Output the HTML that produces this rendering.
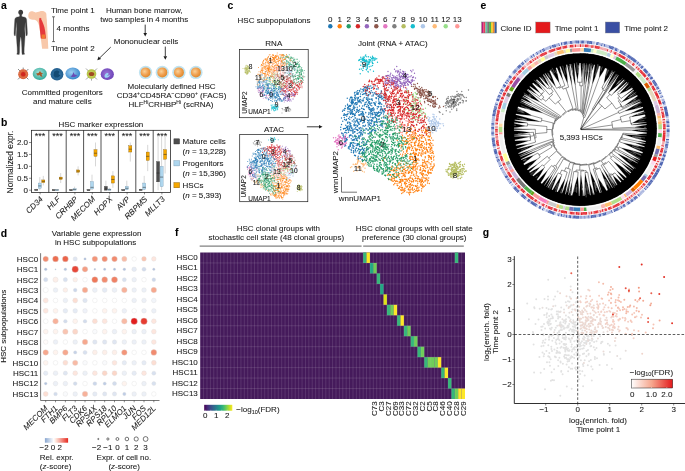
<!DOCTYPE html><html><head><meta charset="utf-8"><style>html,body{margin:0;padding:0;background:#fff;}svg{display:block;will-change:transform;} text{stroke:#1a1a1a;stroke-width:0.08px;}</style></head><body><svg width="685" height="471" viewBox="0 0 685 471" font-family='"Liberation Sans", sans-serif' font-size="8" fill="#1a1a1a"><text x="1" y="9" font-weight="bold" font-size="10.4" fill="#000">a</text>
<text x="1" y="125.8" font-weight="bold" font-size="10.4" fill="#000">b</text>
<text x="227.5" y="9" font-weight="bold" font-size="10.4" fill="#000">c</text>
<text x="480.5" y="9" font-weight="bold" font-size="10.4" fill="#000">e</text>
<text x="0.8" y="236.7" font-weight="bold" font-size="10.4" fill="#000">d</text>
<text x="175" y="235.5" font-weight="bold" font-size="10.4" fill="#000">f</text>
<text x="482.8" y="236.2" font-weight="bold" font-size="10.4" fill="#000">g</text>
<g fill="#3b3b3b"><ellipse cx="20.7" cy="12.3" rx="2.35" ry="2.6"/><path stroke="#3b3b3b" stroke-width="0.3" stroke-linejoin="round" d="M21.6 14.6L21.7 16.3L22.5 16.8L24.8 17.2L26.0 17.9L26.6 19.5L26.9 24.0L27.2 29.0L27.4 33.5L27.1 35.6L26.1 35.7L25.8 33.0L25.5 28.0L25.3 23.5L25.1 22.0L24.9 26.0L24.7 29.0L24.9 32.0L25.1 35.5L24.9 38.0L24.5 44.0L24.2 48.0L24.1 52.5L24.6 54.2L22.2 54.6L21.9 52.5L21.8 48.0L21.5 42.0L21.0 37.6L20.7 37.3L20.4 37.6L19.9 42.0L19.6 48.0L19.5 52.5L19.2 54.6L16.8 54.2L17.3 52.5L17.2 48.0L16.9 44.0L16.5 38.0L16.3 35.5L16.5 32.0L16.7 29.0L16.5 26.0L16.3 22.0L16.1 23.5L15.9 28.0L15.6 33.0L15.3 35.7L14.3 35.6L14.0 33.5L14.2 29.0L14.5 24.0L14.8 19.5L15.4 17.9L16.6 17.2L18.9 16.8L19.7 16.3L19.8 14.6z"/></g>
<path d="M30.4 11.6C32.5 10.9 34 11.9 35.5 12.6 37 12.4 38.3 11.6 39.6 11.5 41 11 42.7 10.9 44.3 11.5 46 12.2 46.6 13.6 46.4 15 46.3 16.5 46.7 18 46.8 19.5L47.6 34 48.3 48.8H42.1L40.6 36.5 39.6 28.4C39 25 38.2 22.8 37 21.3 35.8 20.2 34.6 19.8 33.4 19.8 32 19.9 30.8 19.6 29.9 19.1 28.5 18.3 28 16.5 28.4 14.6 28.7 13 29.4 12.1 30.4 11.6z" fill="#f8c8aa"/>
<path d="M39.4 18.4C39.6 17.6 40.4 17.6 40.8 18.3 42.6 21.6 44.3 26 45.2 31L46 38.6H40.8L39.8 29 39.2 21.8C39.1 20.4 39.2 19.3 39.4 18.4z" fill="#e5383b"/>
<rect x="41.6" y="34.5" width="3.7" height="4.1" fill="#f07a30"/>
<g stroke="#1a1a1a" stroke-width="0.6" fill="none"><path d="M53.5 16.8V41.6M52 16.8h3M52 41.6h3"/></g>
<text x="51" y="13">Time point 1</text>
<text x="56.6" y="31">4 months</text>
<text x="51" y="51">Time point 2</text>
<text x="144.2" y="13.2" text-anchor="middle">Human bone marrow,</text>
<text x="144.2" y="21.8" text-anchor="middle">two samples in 4 months</text>
<text x="146" y="43.9" text-anchor="middle">Mononuclear cells</text>
<line x1="145.2" y1="24.6" x2="145.2" y2="33" stroke="#1a1a1a" stroke-width="0.85"/>
<path d="M145.20 36.50L143.40 33.00L147.00 33.00z" fill="#1a1a1a"/>
<line x1="110.7" y1="47.2" x2="99.8" y2="57.8" stroke="#1a1a1a" stroke-width="0.85"/>
<path d="M97.30 60.20L98.56 56.47L101.07 59.05z" fill="#1a1a1a"/>
<line x1="165.3" y1="46.6" x2="165.3" y2="56.3" stroke="#1a1a1a" stroke-width="0.85"/>
<path d="M165.30 59.80L163.50 56.30L167.10 56.30z" fill="#1a1a1a"/>
<defs><radialGradient id="gOr" cx="0.4" cy="0.4" r="0.6"><stop offset="0" stop-color="#f9d29a"/><stop offset="0.6" stop-color="#f0a050"/><stop offset="1" stop-color="#e08a30"/></radialGradient><radialGradient id="gTe" cx="0.45" cy="0.4" r="0.6"><stop offset="0" stop-color="#a8e4dc"/><stop offset="1" stop-color="#2fa898"/></radialGradient><radialGradient id="gDb" cx="0.5" cy="0.5" r="0.6"><stop offset="0" stop-color="#3c7fb0"/><stop offset="1" stop-color="#1b5585"/></radialGradient><radialGradient id="gLb" cx="0.4" cy="0.4" r="0.6"><stop offset="0" stop-color="#9fd0f2"/><stop offset="1" stop-color="#3a88cc"/></radialGradient><radialGradient id="gPu" cx="0.45" cy="0.45" r="0.6"><stop offset="0" stop-color="#9a78d8"/><stop offset="1" stop-color="#6a3fb5"/></radialGradient><radialGradient id="gYg" cx="0.5" cy="0.5" r="0.6"><stop offset="0" stop-color="#d8e070"/><stop offset="1" stop-color="#a8b838"/></radialGradient></defs>
<g stroke="#555" stroke-width="0.7"><path d="M18 69l2.4 2.4M28.4 69l-2.4 2.4M18 79.4l2.4-2.4M28.4 79.4l-2.4-2.4M23.2 67.6v2"/></g>
<circle cx="23.2" cy="74.2" r="5" fill="#d9623a"/><circle cx="23.2" cy="74.2" r="3.6" fill="none" stroke="#f0a070" stroke-width="0.5" stroke-dasharray="0.8 0.8"/><circle cx="23.2" cy="74.2" r="2.2" fill="#d0261e"/>
<ellipse cx="39.8" cy="73.9" rx="7.1" ry="6.1" fill="url(#gTe)"/><path d="M36 73.5l2.5-0.5 1.5-2 1 1.5 2 1-1.5 1 1 2.3-1.6-0.3-1.5-1.5-1.6 0.8z" fill="#a55a2a"/>
<ellipse cx="57" cy="74.3" rx="6.4" ry="6.2" fill="url(#gDb)"/><path d="M54 72c1.5-2 4.5-2 5.5 0l-1 2 2 1.5-2.5 2h-3l-1.5-2z" fill="#134a74"/>
<ellipse cx="72.8" cy="73.5" rx="7.4" ry="5.9" fill="url(#gLb)"/><path d="M70.5 76.5c1.5-0.5 2.5-2.5 3-4.5l1 2.5c1 0.5 2 0 2.5 1-1 1.5-3.5 2-6.5 1z" fill="#6a4cb4"/>
<g stroke="#666" stroke-width="0.6"><path d="M86 68.5l2.5 2.5M97 68.5l-2.5 2.5M86 79.5l2.5-2.5M97 79.5l-2.5-2.5M91.5 80.6v-2"/></g>
<circle cx="91.5" cy="74" r="4.8" fill="url(#gYg)"/><ellipse cx="91.5" cy="74" rx="2.8" ry="2.1" fill="#a04a22"/>
<ellipse cx="107.3" cy="74.2" rx="6.6" ry="5.9" fill="url(#gPu)"/><path d="M104.5 76c0-2 2-3.5 3.5-3 1 0.5 0.5 2-1 2.5 1 0.5 2.5 0 3-1 0 2-2 3.5-4 3.3-1 0-1.5-0.8-1.5-1.8z" fill="#9ad4f4"/>
<circle cx="145.6" cy="72.4" r="6.7" fill="#bfe3f1"/><circle cx="145.6" cy="72.4" r="5.0" fill="url(#gOr)"/>
<circle cx="162.3" cy="72.4" r="6.7" fill="#bfe3f1"/><circle cx="162.3" cy="72.4" r="5.0" fill="url(#gOr)"/>
<circle cx="178.9" cy="72.4" r="6.7" fill="#bfe3f1"/><circle cx="178.9" cy="72.4" r="5.0" fill="url(#gOr)"/>
<circle cx="195.9" cy="72.4" r="6.7" fill="#bfe3f1"/><circle cx="195.9" cy="72.4" r="5.0" fill="url(#gOr)"/>
<text x="62.3" y="95.3" text-anchor="middle">Committed progenitors</text>
<text x="62.3" y="104.4" text-anchor="middle">and mature cells</text>
<text x="171.6" y="88.7" text-anchor="middle">Molecularly defined HSC</text>
<text x="171.5" y="97.6" text-anchor="middle">CD34<tspan font-size="5" dy="-3">+</tspan><tspan dy="3">CD45RA</tspan><tspan font-size="5" dy="-3">−</tspan><tspan dy="3">CD90</tspan><tspan font-size="5" dy="-3">+</tspan><tspan dy="3"> (FACS)</tspan></text>
<text x="171" y="106.5" text-anchor="middle">HLF<tspan font-size="5" dy="-3">Hi</tspan><tspan dy="3">CRHBP</tspan><tspan font-size="5" dy="-3">Hi</tspan><tspan dy="3"> (scRNA)</tspan></text>
<text x="58.4" y="127">HSC marker expression</text>
<rect x="31.4" y="130.3" width="139.2" height="62.1" fill="none" stroke="#1a1a1a" stroke-width="0.75"/>
<path d="M48.80 130.3V192.4M66.20 130.3V192.4M83.60 130.3V192.4M101.00 130.3V192.4M118.40 130.3V192.4M135.80 130.3V192.4M153.20 130.3V192.4" stroke="#1a1a1a" stroke-width="0.75"/>
<line x1="29" y1="190.20" x2="31.4" y2="190.20" stroke="#1a1a1a" stroke-width="0.5"/>
<text x="28" y="193" text-anchor="end">0</text>
<line x1="29" y1="178.27" x2="31.4" y2="178.27" stroke="#1a1a1a" stroke-width="0.5"/>
<text x="28" y="181.1" text-anchor="end">0.5</text>
<line x1="29" y1="166.35" x2="31.4" y2="166.35" stroke="#1a1a1a" stroke-width="0.5"/>
<text x="28" y="169.2" text-anchor="end">1.0</text>
<line x1="29" y1="154.42" x2="31.4" y2="154.42" stroke="#1a1a1a" stroke-width="0.5"/>
<text x="28" y="157.2" text-anchor="end">1.5</text>
<line x1="29" y1="142.50" x2="31.4" y2="142.50" stroke="#1a1a1a" stroke-width="0.5"/>
<text x="28" y="145.3" text-anchor="end">2.0</text>
<text x="0" y="0" text-anchor="middle" font-size="8.4" transform="translate(13.3 162) rotate(-90)">Normalized expr.</text>
<text x="40.1" y="138.5" text-anchor="middle" font-size="9">***</text>
<line x1="36.30" y1="190.20" x2="36.30" y2="188.77" stroke="#999" stroke-width="0.4"/>
<rect x="34.75" y="189.48" width="3.1" height="0.90" fill="#4d4d4d" stroke="#333" stroke-width="0.3"/>
<line x1="34.75" y1="189.96" x2="37.85" y2="189.96" stroke="#222" stroke-width="0.5"/>
<line x1="39.80" y1="190.20" x2="39.80" y2="177.08" stroke="#999" stroke-width="0.4"/>
<rect x="38.25" y="183.04" width="3.1" height="5.25" fill="#aed6ee" stroke="#6b8fa8" stroke-width="0.3"/>
<line x1="38.25" y1="185.91" x2="41.35" y2="185.91" stroke="#222" stroke-width="0.5"/>
<line x1="43.30" y1="185.43" x2="43.30" y2="175.89" stroke="#999" stroke-width="0.4"/>
<rect x="41.75" y="179.94" width="3.1" height="2.62" fill="#f5a700" stroke="#7a5200" stroke-width="0.3"/>
<line x1="41.75" y1="181.38" x2="44.85" y2="181.38" stroke="#222" stroke-width="0.5"/>
<line x1="40.10" y1="192.4" x2="40.10" y2="194.4" stroke="#1a1a1a" stroke-width="0.5"/>
<text x="0" y="0" text-anchor="end" font-style="italic" transform="translate(43.50 199.6) rotate(-45)">CD34</text>
<text x="57.5" y="138.5" text-anchor="middle" font-size="9">***</text>
<line x1="53.70" y1="190.20" x2="53.70" y2="189.25" stroke="#999" stroke-width="0.4"/>
<rect x="52.15" y="189.72" width="3.1" height="0.90" fill="#4d4d4d" stroke="#333" stroke-width="0.3"/>
<line x1="52.15" y1="189.96" x2="55.25" y2="189.96" stroke="#222" stroke-width="0.5"/>
<line x1="57.20" y1="190.20" x2="57.20" y2="189.25" stroke="#999" stroke-width="0.4"/>
<rect x="55.65" y="189.72" width="3.1" height="0.90" fill="#aed6ee" stroke="#6b8fa8" stroke-width="0.3"/>
<line x1="55.65" y1="189.96" x2="58.75" y2="189.96" stroke="#222" stroke-width="0.5"/>
<line x1="60.70" y1="183.04" x2="60.70" y2="173.03" stroke="#999" stroke-width="0.4"/>
<rect x="59.15" y="177.08" width="3.1" height="2.38" fill="#f5a700" stroke="#7a5200" stroke-width="0.3"/>
<line x1="59.15" y1="178.27" x2="62.25" y2="178.27" stroke="#222" stroke-width="0.5"/>
<line x1="57.50" y1="192.4" x2="57.50" y2="194.4" stroke="#1a1a1a" stroke-width="0.5"/>
<text x="0" y="0" text-anchor="end" font-style="italic" transform="translate(60.90 199.6) rotate(-45)">HLF</text>
<text x="74.9" y="138.5" text-anchor="middle" font-size="9">***</text>
<line x1="71.10" y1="190.20" x2="71.10" y2="189.25" stroke="#999" stroke-width="0.4"/>
<rect x="69.55" y="189.72" width="3.1" height="0.90" fill="#4d4d4d" stroke="#333" stroke-width="0.3"/>
<line x1="69.55" y1="189.96" x2="72.65" y2="189.96" stroke="#222" stroke-width="0.5"/>
<line x1="74.60" y1="190.20" x2="74.60" y2="186.62" stroke="#999" stroke-width="0.4"/>
<rect x="73.05" y="188.77" width="3.1" height="1.43" fill="#aed6ee" stroke="#6b8fa8" stroke-width="0.3"/>
<line x1="73.05" y1="189.48" x2="76.15" y2="189.48" stroke="#222" stroke-width="0.5"/>
<line x1="78.10" y1="175.41" x2="78.10" y2="166.35" stroke="#999" stroke-width="0.4"/>
<rect x="76.55" y="169.93" width="3.1" height="2.39" fill="#f5a700" stroke="#7a5200" stroke-width="0.3"/>
<line x1="76.55" y1="171.12" x2="79.65" y2="171.12" stroke="#222" stroke-width="0.5"/>
<line x1="74.90" y1="192.4" x2="74.90" y2="194.4" stroke="#1a1a1a" stroke-width="0.5"/>
<text x="0" y="0" text-anchor="end" font-style="italic" transform="translate(78.30 199.6) rotate(-45)">CRHBP</text>
<text x="92.3" y="138.5" text-anchor="middle" font-size="9">***</text>
<line x1="88.50" y1="190.20" x2="88.50" y2="189.25" stroke="#999" stroke-width="0.4"/>
<rect x="86.95" y="189.72" width="3.1" height="0.90" fill="#4d4d4d" stroke="#333" stroke-width="0.3"/>
<line x1="86.95" y1="189.96" x2="90.05" y2="189.96" stroke="#222" stroke-width="0.5"/>
<line x1="92.00" y1="190.20" x2="92.00" y2="174.70" stroke="#999" stroke-width="0.4"/>
<rect x="90.45" y="181.61" width="3.1" height="7.39" fill="#aed6ee" stroke="#6b8fa8" stroke-width="0.3"/>
<line x1="90.45" y1="187.34" x2="93.55" y2="187.34" stroke="#222" stroke-width="0.5"/>
<line x1="95.50" y1="166.35" x2="95.50" y2="142.50" stroke="#999" stroke-width="0.4"/>
<rect x="93.95" y="149.65" width="3.1" height="6.68" fill="#f5a700" stroke="#7a5200" stroke-width="0.3"/>
<line x1="93.95" y1="153.23" x2="97.05" y2="153.23" stroke="#222" stroke-width="0.5"/>
<line x1="92.30" y1="192.4" x2="92.30" y2="194.4" stroke="#1a1a1a" stroke-width="0.5"/>
<text x="0" y="0" text-anchor="end" font-style="italic" transform="translate(95.70 199.6) rotate(-45)">MECOM</text>
<text x="109.7" y="138.5" text-anchor="middle" font-size="9">***</text>
<line x1="105.90" y1="190.20" x2="105.90" y2="180.66" stroke="#999" stroke-width="0.4"/>
<rect x="104.35" y="186.38" width="3.1" height="3.82" fill="#4d4d4d" stroke="#333" stroke-width="0.3"/>
<line x1="104.35" y1="189.01" x2="107.45" y2="189.01" stroke="#222" stroke-width="0.5"/>
<line x1="109.40" y1="190.20" x2="109.40" y2="187.81" stroke="#999" stroke-width="0.4"/>
<rect x="107.85" y="189.01" width="3.1" height="1.19" fill="#aed6ee" stroke="#6b8fa8" stroke-width="0.3"/>
<line x1="107.85" y1="189.72" x2="110.95" y2="189.72" stroke="#222" stroke-width="0.5"/>
<line x1="112.90" y1="187.81" x2="112.90" y2="171.12" stroke="#999" stroke-width="0.4"/>
<rect x="111.35" y="175.89" width="3.1" height="7.16" fill="#f5a700" stroke="#7a5200" stroke-width="0.3"/>
<line x1="111.35" y1="179.47" x2="114.45" y2="179.47" stroke="#222" stroke-width="0.5"/>
<line x1="109.70" y1="192.4" x2="109.70" y2="194.4" stroke="#1a1a1a" stroke-width="0.5"/>
<text x="0" y="0" text-anchor="end" font-style="italic" transform="translate(113.10 199.6) rotate(-45)">HOPX</text>
<text x="127.1" y="138.5" text-anchor="middle" font-size="9">***</text>
<line x1="123.30" y1="190.20" x2="123.30" y2="189.25" stroke="#999" stroke-width="0.4"/>
<rect x="121.75" y="189.72" width="3.1" height="0.90" fill="#4d4d4d" stroke="#333" stroke-width="0.3"/>
<line x1="121.75" y1="189.96" x2="124.85" y2="189.96" stroke="#222" stroke-width="0.5"/>
<line x1="126.80" y1="190.20" x2="126.80" y2="180.66" stroke="#999" stroke-width="0.4"/>
<rect x="125.25" y="186.38" width="3.1" height="3.34" fill="#aed6ee" stroke="#6b8fa8" stroke-width="0.3"/>
<line x1="125.25" y1="188.29" x2="128.35" y2="188.29" stroke="#222" stroke-width="0.5"/>
<line x1="130.30" y1="161.58" x2="130.30" y2="142.50" stroke="#999" stroke-width="0.4"/>
<rect x="128.75" y="145.84" width="3.1" height="6.20" fill="#f5a700" stroke="#7a5200" stroke-width="0.3"/>
<line x1="128.75" y1="149.18" x2="131.85" y2="149.18" stroke="#222" stroke-width="0.5"/>
<line x1="127.10" y1="192.4" x2="127.10" y2="194.4" stroke="#1a1a1a" stroke-width="0.5"/>
<text x="0" y="0" text-anchor="end" font-style="italic" transform="translate(130.50 199.6) rotate(-45)">AVP</text>
<text x="144.5" y="138.5" text-anchor="middle" font-size="9">***</text>
<line x1="140.70" y1="190.20" x2="140.70" y2="188.77" stroke="#999" stroke-width="0.4"/>
<rect x="139.15" y="189.48" width="3.1" height="0.90" fill="#4d4d4d" stroke="#333" stroke-width="0.3"/>
<line x1="139.15" y1="189.96" x2="142.25" y2="189.96" stroke="#222" stroke-width="0.5"/>
<line x1="144.20" y1="190.20" x2="144.20" y2="175.89" stroke="#999" stroke-width="0.4"/>
<rect x="142.65" y="183.04" width="3.1" height="6.44" fill="#aed6ee" stroke="#6b8fa8" stroke-width="0.3"/>
<line x1="142.65" y1="187.34" x2="145.75" y2="187.34" stroke="#222" stroke-width="0.5"/>
<line x1="147.70" y1="171.12" x2="147.70" y2="144.88" stroke="#999" stroke-width="0.4"/>
<rect x="146.15" y="152.04" width="3.1" height="8.35" fill="#f5a700" stroke="#7a5200" stroke-width="0.3"/>
<line x1="146.15" y1="156.33" x2="149.25" y2="156.33" stroke="#222" stroke-width="0.5"/>
<line x1="144.50" y1="192.4" x2="144.50" y2="194.4" stroke="#1a1a1a" stroke-width="0.5"/>
<text x="0" y="0" text-anchor="end" font-style="italic" transform="translate(147.90 199.6) rotate(-45)">RBPMS</text>
<text x="161.9" y="138.5" text-anchor="middle" font-size="9">***</text>
<line x1="158.10" y1="190.20" x2="158.10" y2="135.34" stroke="#999" stroke-width="0.4"/>
<rect x="156.55" y="161.58" width="3.1" height="20.27" fill="#4d4d4d" stroke="#333" stroke-width="0.3"/>
<line x1="156.55" y1="173.03" x2="159.65" y2="173.03" stroke="#222" stroke-width="0.5"/>
<line x1="161.60" y1="190.20" x2="161.60" y2="135.34" stroke="#999" stroke-width="0.4"/>
<rect x="160.05" y="166.35" width="3.1" height="20.27" fill="#aed6ee" stroke="#6b8fa8" stroke-width="0.3"/>
<line x1="160.05" y1="177.08" x2="163.15" y2="177.08" stroke="#222" stroke-width="0.5"/>
<line x1="165.10" y1="173.50" x2="165.10" y2="135.34" stroke="#999" stroke-width="0.4"/>
<rect x="163.55" y="149.65" width="3.1" height="9.54" fill="#f5a700" stroke="#7a5200" stroke-width="0.3"/>
<line x1="163.55" y1="154.42" x2="166.65" y2="154.42" stroke="#222" stroke-width="0.5"/>
<line x1="161.90" y1="192.4" x2="161.90" y2="194.4" stroke="#1a1a1a" stroke-width="0.5"/>
<text x="0" y="0" text-anchor="end" font-style="italic" transform="translate(165.30 199.6) rotate(-45)">MLLT3</text>
<rect x="173.9" y="138.8" width="5.7" height="5.2" fill="#4d4d4d" stroke="#333" stroke-width="0.4"/>
<text x="182.6" y="144.2">Mature cells</text>
<text x="182.6" y="154.1">(<tspan font-style="italic">n</tspan> = 13,228)</text>
<rect x="173.9" y="160.7" width="5.7" height="5.2" fill="#aed6ee" stroke="#6b8fa8" stroke-width="0.4"/>
<text x="182.6" y="166.1">Progenitors</text>
<text x="182.6" y="176">(<tspan font-style="italic">n</tspan> = 15,396)</text>
<rect x="173.9" y="182.6" width="5.7" height="5.2" fill="#f5a700" stroke="#7a5200" stroke-width="0.4"/>
<text x="182.6" y="188">HSCs</text>
<text x="182.6" y="197.9">(<tspan font-style="italic">n</tspan> = 5,393)</text>
<text x="237.6" y="22.9">HSC subpopulations</text>
<text x="330.3" y="22" text-anchor="middle">0</text>
<circle cx="330.3" cy="26.3" r="2.2" fill="#1f77b4"/>
<text x="339.7" y="22" text-anchor="middle">1</text>
<circle cx="339.7" cy="26.3" r="2.2" fill="#ff7f0e"/>
<text x="348.7" y="22" text-anchor="middle">2</text>
<circle cx="348.7" cy="26.3" r="2.2" fill="#279e68"/>
<text x="357.9" y="22" text-anchor="middle">3</text>
<circle cx="357.9" cy="26.3" r="2.2" fill="#d62728"/>
<text x="366.9" y="22" text-anchor="middle">4</text>
<circle cx="366.9" cy="26.3" r="2.2" fill="#9467bd"/>
<text x="376.3" y="22" text-anchor="middle">5</text>
<circle cx="376.3" cy="26.3" r="2.2" fill="#8c564b"/>
<text x="385.3" y="22" text-anchor="middle">6</text>
<circle cx="385.3" cy="26.3" r="2.2" fill="#e377c2"/>
<text x="394.4" y="22" text-anchor="middle">7</text>
<circle cx="394.4" cy="26.3" r="2.2" fill="#7f7f7f"/>
<text x="403.6" y="22" text-anchor="middle">8</text>
<circle cx="403.6" cy="26.3" r="2.2" fill="#b5bd61"/>
<text x="412.8" y="22" text-anchor="middle">9</text>
<circle cx="412.8" cy="26.3" r="2.2" fill="#17becf"/>
<text x="422.9" y="22" text-anchor="middle">10</text>
<circle cx="422.9" cy="26.3" r="2.2" fill="#aec7e8"/>
<text x="434.7" y="22" text-anchor="middle">11</text>
<circle cx="434.7" cy="26.3" r="2.2" fill="#ffbb78"/>
<text x="445.7" y="22" text-anchor="middle">12</text>
<circle cx="445.7" cy="26.3" r="2.2" fill="#98df8a"/>
<text x="457.3" y="22" text-anchor="middle">13</text>
<circle cx="457.3" cy="26.3" r="2.2" fill="#ff9896"/>
<text x="273.8" y="45.9" text-anchor="middle">RNA</text>
<text x="274" y="131.7" text-anchor="middle">ATAC</text>
<text x="392.9" y="46.3" text-anchor="middle">Joint (RNA + ATAC)</text>
<rect x="239.6" y="49.4" width="68.6" height="68.3" fill="none" stroke="#1a1a1a" stroke-width="0.7"/>
<rect x="239.7" y="134.4" width="68.1" height="67.3" fill="none" stroke="#1a1a1a" stroke-width="0.7"/>
<line x1="306.9" y1="126.8" x2="319" y2="126.8" stroke="#1a1a1a" stroke-width="0.85"/>
<path d="M322.50 126.80L319.00 128.60L319.00 125.00z" fill="#1a1a1a"/>
<path transform="scale(0.25)" d="M1465 350h0m5 1h0m6-6h0m-33 11h0m22-3h0m7 0h0m5 0h0m8 0h0m-31 10h0m7 0h0m3-1h0m2-1h0m1 3h0m18-1h0m-67 9h0m1-2h0m6-2h0m7 7h0m25 0h0m5 0h0m19 0h0m18-4h0m-79 9h0m9-3h0m21 1h0m4-2h0m19 6h0m2-3h0m32 0h0m29-3h0m-69 15h0m55-1h0m-133 3h0m20-1h0m14 3h0m7 1h0m3-2h0m8 4h0m24-6h0m23 4h0m17-2h0m1-2h0m8 3h0m34 2h0m-141 10h0m2-1h0m7-6h0m21 2h0m11-1h0m22 0h0m3 3h0m16-2h0m26-2h0m25 0h0m-132 13h0m5-2h0m9 0h0m5 0h0m18 1h0m21-4h0m32 4h0m3 3h0m-83 1h0m6 3h0m4-2h0m34 0h0m7 0h0m13 3h0m18-1h0m-109 12h0m8-5h0m3-1h0m14 0h0m4 5h0m9-1h0m85-1h0m10-2h0m12-2h0m13 6h0m-170 4h0m2 0h0m11 3h0m4-2h0m31 4h0m19-6h0m8 4h0m3 1h0m20 0h0m3-3h0m1 4h0m14-3h0m14-1h0m15 0h0m5 4h0m10 0h0m-169 6h0m3-5h0m5 1h0m27 4h0m46 1h0m32-3h0m-106 12h0m22-7h0m4 4h0m1 2h0m8 1h0m14-6h0m18 6h0m4-1h0m6-1h0m22-3h0m11 5h0m3-3h0m7-2h0m12 2h0m1 2h0m4-3h0m2-1h0m5 0h0m6-1h0m-150 11h0m4 0h0m9-2h0m27 0h0m1 5h0m3-2h0m15-1h0m7-1h0m49-2h0m11 0h0m6 0h0m-132 13h0m96 0h0m19 0h0m17-6h0m4 0h0m29 7h0m-156 7h0m42-2h0m11 2h0m17-4h0m36 1h0m14-1h0m11 2h0m33 0h0m-179 9h0m56-2h0m3 4h0m16-6h0m7 0h0m3-1h0m29 0h0m5 3h0m6 4h0m12 0h0m-117 5h0m1-4h0m6 2h0m5 4h0m19-6h0m11 6h0m2-4h0m41-2h0m23 1h0m10 1h0m-126 11h0m19 2h0m14 0h0m4-1h0m18-5h0m24 4h0m20 2h0m18-2h0m11 2h0m-125 7h0m17-5h0m2-1h0m18 6h0m66-5h0m36-1h0m-151 11h0m8-1h0m16 1h0m14 2h0m14 1h0m10-6h0m8 4h0m40 0h0m-101 6h0m20-1h0m8 4h0m1-1h0m18-2h0m25-1h0m5-1h0m37 3h0m2-2h0m-132 11h0m16-2h0m34-2h0m31 6h0m8-3h0m16 4h0m1 0h0m-70 7h0m-28 2h0m4 7h0m2-5h0m31 2h0m-26 7h0m0 0h0m28 4h0m23-5h0m-26 6h0m14 1h0m47 0h0m-94 7h0m25 4h0m10-1h0m-13 8h0m0 2h0m2-5h0m0 4h0m23 2h0m12-4h0m17 0h0m13-1h0m-89 7h0m17 3h0m5-3h0m1 1h0m11 2h0m26-1h0m1-1h0m0 1h0m5 0h0m-51 6h0m4 4h0m7 3h0m4-7h0m6 1h0m53 3h0m5-1h0m-51 8h0m1-1h0m20-1h0m-28 9h0m26 5h0m9-4h0m3 5h0m-21 14h0m0 2h0m10 1h0" stroke="#1f77b4" stroke-width="5.4" stroke-linecap="round"/>
<path transform="scale(0.25)" d="M1607 496h0m-6 14h0m95-6h0m-19 14h0m28-6h0m-44 10h0m53 0h0m-85 8h0m70-1h0m-55 14h0m27 0h0m51-7h0m-78 11h0m6-1h0m9 2h0m15-3h0m6 6h0m7-3h0m30 0h0m5-4h0m-109 8h0m64 4h0m36 3h0m-91 5h0m4 0h0m2-1h0m37 0h0m9 0h0m4 0h0m16 4h0m9-6h0m18 1h0m11-1h0m-88 10h0m4-2h0m10 5h0m19-3h0m11 4h0m30 0h0m-45 2h0m1 5h0m11-2h0m14-4h0m8 0h0m12 2h0m-73 7h0m39 4h0m2 0h0m10-1h0m18 2h0m-111 2h0m25 5h0m3-3h0m5-2h0m12 0h0m1 2h0m38 5h0m18-1h0m21-3h0m-119 6h0m19 0h0m26 1h0m11 1h0m15-2h0m30 1h0m-83 6h0m23 6h0m5-4h0m8 3h0m23 0h0m17-5h0m0 0h0m13 0h0m15 2h0m3 4h0m-112 7h0m37-2h0m5 0h0m9 3h0m2-1h0m17-5h0m1 0h0m21 7h0m-73 5h0m4-3h0m5 2h0m37-3h0m15 7h0m14 0h0m3-6h0m2 3h0m3 3h0m-81 7h0m25-2h0m48 3h0m-185 3h0m86 2h0m38 2h0m22-5h0m29 6h0m-110 8h0m59-5h0m46-1h0m2 6h0m-113 7h0m28-4h0m46 4h0m21 0h0m6-1h0m10 2h0m8-1h0m13-6h0m3 0h0m-119 12h0m39 0h0m12-1h0m6-1h0m33-1h0m3 3h0m13 2h0m13-5h0m7 3h0m-164 4h0m6 7h0m23-4h0m6-3h0m53 0h0m9 3h0m18 1h0m37-4h0m-144 12h0m13-3h0m22 1h0m37 5h0m9-6h0m23-1h0m4 0h0m7 4h0m3-2h0m8 4h0m-108 7h0m1-1h0m22-4h0m6 2h0m2 2h0m9 0h0m3-4h0m1 2h0m8 0h0m2 4h0m4-6h0m14 5h0m18-2h0m5 3h0m23-5h0m2 3h0m-150 8h0m9 1h0m1-3h0m16 4h0m4-4h0m27 5h0m66-6h0m7-1h0m12 3h0m-137 11h0m7-6h0m2 4h0m17-4h0m25 2h0m22 2h0m18-3h0m10-1h0m23 7h0m-132 6h0m9-2h0m38 2h0m4 2h0m6-2h0m6 0h0m16-5h0m11 5h0m12-4h0m7 0h0m2 3h0m9 2h0m7 1h0m10-7h0m7 4h0m4 2h0m-135 7h0m5-4h0m4 4h0m2 0h0m3-1h0m12 3h0m2-1h0m2 1h0m8-3h0m18-2h0m11 2h0m6 1h0m2 1h0m6-3h0m17 2h0m8-5h0m4 3h0m3 4h0m4-2h0m-111 9h0m1-1h0m39-3h0m7 4h0m10-4h0m6 5h0m41-3h0m11-3h0m-119 10h0m30 3h0m31-3h0m4-1h0m5 4h0m39-2h0m1 3h0m4-7h0m-85 13h0m2 2h0m59-5h0m4 3h0m7 0h0m14-3h0m-96 7h0m17 3h0m1 1h0m23 0h0m23 0h0m29-2h0m-24 8h0m6 1h0m2 1h0m5-4h0m-69 13h0m21-5h0m8 1h0m2 9h0" stroke="#ff7f0e" stroke-width="5.4" stroke-linecap="round"/>
<path transform="scale(0.25)" d="M1549 468h0m1 1h0m-24 3h0m24 6h0m22 1h0m-37 5h0m13-4h0m25 4h0m7 2h0m6-6h0m13 7h0m-56 6h0m44-1h0m-61 8h0m21 0h0m0 1h0m8-2h0m48-1h0m-115 9h0m9 4h0m53-2h0m6-1h0m35-4h0m6 2h0m5 4h0m-116 2h0m5 6h0m38 1h0m16-6h0m6 0h0m13 4h0m7-3h0m-48 6h0m9 7h0m16-5h0m12-1h0m37-1h0m2 3h0m-138 9h0m23-2h0m57 5h0m1-2h0m32 2h0m5-2h0m2-2h0m16 2h0m4-4h0m-151 10h0m39 3h0m29-4h0m2 0h0m5 5h0m19-7h0m29 0h0m16 5h0m-171 3h0m17 6h0m43-2h0m43-4h0m43 3h0m26-3h0m31 7h0m-164 2h0m72 1h0m43 3h0m1 1h0m3-6h0m-146 11h0m41-2h0m8 6h0m39-7h0m20 0h0m62 2h0m6 3h0m2-5h0m-200 10h0m30-2h0m29 2h0m21 0h0m3 0h0m1-1h0m12 0h0m4-1h0m0 0h0m4 7h0m10-6h0m15 6h0m4-1h0m34-1h0m5-4h0m19 5h0m-146 8h0m10-6h0m3 1h0m15 1h0m1 5h0m4-4h0m14-2h0m8-1h0m10 0h0m18 1h0m5 3h0m1 1h0m6-3h0m8 0h0m0 0h0m34 1h0m8 3h0m-128 5h0m21-2h0m2 3h0m9 2h0m7-3h0m36 4h0m5-1h0m44-3h0m3-2h0m25 2h0m-196 6h0m46 5h0m8-6h0m31 7h0m31-2h0m10-3h0m20 4h0m-133 8h0m21 1h0m5-5h0m17 4h0m9-6h0m8 2h0m18 1h0m49-1h0m15 1h0m2 3h0m15-6h0m6 4h0m-156 10h0m12-4h0m4 2h0m18-3h0m20 2h0m7-2h0m5 1h0m16 5h0m11-6h0m8 5h0m4-5h0m27-1h0m-129 9h0m26-1h0m17 4h0m1-2h0m25 2h0m1 3h0m24-2h0m43 0h0m9 1h0m29-3h0m-182 8h0m9-1h0m6-1h0m4 3h0m23 1h0m15-5h0m31 7h0m5-1h0m3-2h0m3-1h0m32-1h0m10 5h0m1-7h0m0 6h0m21 0h0m6 0h0m7-1h0m3-4h0m5 2h0m-170 12h0m1-2h0m8-1h0m11 3h0m15-6h0m9 5h0m29 0h0m7-5h0m9 5h0m4-6h0m7 2h0m14-1h0m32-1h0m2 4h0m-156 10h0m35-2h0m5 1h0m15-3h0m29 0h0m30 0h0m24 1h0m2 3h0m21-1h0m26-1h0m5-4h0m-172 10h0m22 2h0m26-1h0m19 2h0m1-5h0m87 1h0m-108 12h0m8-1h0m11-1h0m11-2h0m32-1h0m35 0h0m10 5h0m-130 9h0m13-5h0m5 3h0m57-4h0m-75 9h0m5 1h0m12-1h0m13-1h0m4 3h0m22 4h0m17-4h0m18 2h0m61-3h0m-148 7h0m7 2h0m7 1h0m49 3h0m80-6h0m-111 14h0m24-1h0m-15 7h0m3 2h0m32-1h0m21-2h0m-16 7h0m-15 13h0" stroke="#279e68" stroke-width="5.4" stroke-linecap="round"/>
<path transform="scale(0.25)" d="M1516 304h0m35 7h0m-31 8h0m10-3h0m3-4h0m6 2h0m-62 11h0m8 0h0m3 1h0m15-6h0m22 1h0m7 6h0m17-6h0m-37 12h0m7 0h0m34 2h0m15-7h0m-109 10h0m15 2h0m26-2h0m42-2h0m29 1h0m-118 9h0m5 3h0m4-1h0m8 3h0m124-3h0m-100 8h0m85 3h0m11-5h0m12 2h0m-133 6h0m35 5h0m22-2h0m12-5h0m33 6h0m1-5h0m7 0h0m19 4h0m2-5h0m26 5h0m-144 7h0m31 3h0m8 0h0m5-7h0m12 4h0m4 2h0m21 0h0m7-6h0m1 6h0m4 1h0m2-2h0m13-2h0m13 3h0m4 1h0m21-5h0m-120 7h0m27 2h0m2 2h0m6-4h0m15 6h0m26-5h0m55 4h0m9-4h0m-105 9h0m0 2h0m2 2h0m11-2h0m4-1h0m15 1h0m3-4h0m6-1h0m0 1h0m19 1h0m22 4h0m9-4h0m-85 12h0m16-5h0m11 2h0m18 3h0m-52 4h0m19 2h0m60 2h0m13 1h0m14-2h0m-105 10h0m27-4h0m26 0h0m23-3h0m11 2h0m1-1h0m25 3h0m26 1h0m-126 5h0m8 0h0m10 4h0m1-4h0m7 4h0m2-6h0m30 2h0m36 4h0m24-1h0m-127 6h0m19-2h0m0 3h0m9 1h0m18-1h0m3-2h0m2-2h0m3 3h0m20 3h0m27 0h0m16-4h0m-136 13h0m13-4h0m33 2h0m27 2h0m2-7h0m15 5h0m15-3h0m31-1h0m3 5h0m5-6h0m4 6h0m16-1h0m-123 6h0m2 0h0m3 2h0m22-1h0m4 1h0m36-4h0m42 3h0m3-4h0m-119 11h0m13 0h0m18-1h0m8 2h0m10-4h0m14 6h0m7 1h0m4 0h0m19-2h0m16-3h0m24 1h0m-130 11h0m1-3h0m25 4h0m25-4h0m9 3h0m28-5h0m1 3h0m3-3h0m5 2h0m1-1h0m11 5h0m26 0h0m-148 8h0m33-3h0m23-1h0m2-3h0m18 2h0m9-1h0m16 4h0m18 1h0m27 1h0m-108 4h0m27 1h0m18 1h0m17-5h0m10 7h0m22-1h0m5-5h0m9 6h0m9-7h0m-140 10h0m70 0h0m16 3h0m0 2h0m18-7h0m12 1h0m12 1h0m-114 7h0m51 6h0m14-7h0m6 2h0m49 0h0m-69 11h0m14-2h0m21 1h0m23 5h0m2 1h0m22 4h0m-68 6h0m30 1h0m9-2h0m10-3h0m-69 11h0m79 0h0m-44 9h0m55-2h0" stroke="#d62728" stroke-width="5.4" stroke-linecap="round"/>
<path transform="scale(0.25)" d="M1578 277h0m23 2h0m-17 4h0m10 3h0m58-6h0m-49 10h0m5 4h0m5-1h0m-52 6h0m27 4h0m23-5h0m6-1h0m9 3h0m1-2h0m1-1h0m4 2h0m13 4h0m-73 8h0m4-2h0m25-1h0m2 1h0m3-3h0m19 1h0m15 0h0m12 3h0m-107 4h0m25 3h0m13 2h0m1-3h0m8-3h0m0 6h0m7-6h0m14-1h0m49 0h0m-120 13h0m5-4h0m24 0h0m4 3h0m2 2h0m2 0h0m5 0h0m2 1h0m11-7h0m32 3h0m5 1h0m2 2h0m-84 8h0m5-6h0m30 5h0m31-2h0m12 4h0m6-6h0m4 0h0m-79 11h0m24 1h0m7 0h0m15-5h0m-43 8h0m30 2h0m7 5h0m-16 2h0m42 3h0" stroke="#9467bd" stroke-width="5.4" stroke-linecap="round"/>
<path transform="scale(0.25)" d="M1670 334h0m-15 3h0m-9 8h0m7 1h0m5 8h0m6 0h0m3 0h0m10 4h0m22 1h0m-28 1h0m8 6h0m13-6h0m2 3h0m25 4h0m-40 8h0m2-2h0m1-4h0m6 2h0m1-3h0m6 0h0m0 1h0m3 2h0m12-2h0m-61 11h0m30 0h0m6 3h0m2-4h0m5-3h0m12 5h0m-32 10h0m22-5h0m19 1h0m2-2h0m1 0h0m14 4h0m-27 3h0m47 2h0m-52 12h0m14-5h0m0 3h0m11 2h0m8 0h0m1-3h0m2 0h0m5 1h0m-40 7h0m24-3h0m0 1h0m9 4h0m10-4h0m-29 9h0m8 5h0m19-2h0m1-5h0m-2 11h0" stroke="#8c564b" stroke-width="5.4" stroke-linecap="round"/>
<path transform="scale(0.25)" d="M1367 534h0m-24 17h0m10-7h0m4 5h0m4-2h0m1 0h0m16-1h0m-27 10h0m6 0h0m13 0h0m10 2h0m-42 9h0m12-5h0m6 2h0m0 3h0m-6 8h0m1-4h0m3 3h0m3-6h0m3 3h0m3 1h0m1-4h0m1 3h0m9 3h0m10-1h0m1 0h0m-23 8h0m7-4h0m-16 22h0m13-7h0" stroke="#e377c2" stroke-width="5.4" stroke-linecap="round"/>
<path transform="scale(0.25)" d="M1828 366h0m5 9h0m-6 4h0m5 4h0m8-3h0m5-1h0m-24 11h0m1-1h0m5-3h0m10-1h0m28 5h0m-59 3h0m7 4h0m4-5h0m18 7h0m1-4h0m-49 12h0m3-4h0m2 4h0m8-2h0m3-3h0m16 5h0m35-3h0m10 0h0m-76 10h0m9-4h0m20-1h0m-36 14h0m13-7h0m5 6h0m7-3h0m16 1h0m11-2h0m-49 13h0m20-3h0m1-3h0m14 1h0m8 16h0m-27 6h0" stroke="#7f7f7f" stroke-width="5.4" stroke-linecap="round"/>
<path transform="scale(0.25)" d="M1820 649h0m0 5h0m13 0h0m4-4h0m-19 12h0m32 1h0m-41 8h0m8-2h0m2-4h0m10 2h0m9-2h0m-43 9h0m9 3h0m0 1h0m4-2h0m4 1h0m8 2h0m3-5h0m1-2h0m3 5h0m5-1h0m-14 10h0m2-2h0m5-4h0m0 1h0m2 4h0m1 1h0m15-4h0m1 2h0m7 0h0m1-3h0m6 6h0m-69 2h0m12 5h0m3-2h0m4 1h0m3 2h0m4-3h0m3-2h0m1-2h0m3 6h0m20 0h0m-48 7h0m37 2h0m2-1h0m13-3h0m3-1h0m5-2h0m-50 12h0m8-2h0m35 3h0m-35 3h0m20 3h0" stroke="#b5bd61" stroke-width="5.4" stroke-linecap="round"/>
<path transform="scale(0.25)" d="M1463 220h0m-6 9h0m4-5h0m6 3h0m23-2h0m1 4h0m2 1h0m-44 3h0m2 3h0m0 2h0m1-5h0m3 5h0m4-1h0m28-3h0m-52 8h0m2-1h0m13 0h0m4 2h0m4-3h0m0 5h0m4 1h0m3-3h0m7 3h0m24-5h0m3-1h0m-31 14h0m8-4h0m-6 8h0m5-2h0m-22 12h0m16 3h0m8-4h0m7-2h0m-39 11h0m6 6h0m43 3h0" stroke="#17becf" stroke-width="5.4" stroke-linecap="round"/>
<path transform="scale(0.25)" d="M1736 467h0m-22 12h0m3-3h0m13 3h0m12-3h0m17 0h0m-46 6h0m15 3h0m16-3h0m-57 11h0m31 1h0m8-5h0m9 3h0m2-2h0m17-2h0m0 1h0m1 6h0m8 0h0m-40 1h0m12 7h0m0 0h0m1-3h0m7-1h0m0 1h0m-16 10h0m6-5h0m6 1h0m6 0h0m-27 13h0m15-3h0m6 0h0m-15 8h0m-4 12h0" stroke="#aec7e8" stroke-width="5.4" stroke-linecap="round"/>
<path transform="scale(0.25)" d="M1431 631h0m0 16h0m18-6h0m13 1h0m-8 18h0m2 1h0m1-3h0m11 2h0m-35 8h0m2-2h0m9 6h0m0 7h0m16-6h0m-10 12h0" stroke="#ffbb78" stroke-width="5.4" stroke-linecap="round"/>
<path transform="scale(0.25)" d="M1655 389h0m-61 6h0m70 3h0m15 9h0m-15 3h0m-36 9h0m11-2h0m4 1h0m27 3h0m-27 9h0m4-4h0m4-1h0m6 10h0m-43 9h0m69-3h0m-21 12h0m16-3h0m10 11h0m14-4h0m-33 30h0" stroke="#98df8a" stroke-width="5.4" stroke-linecap="round"/>
<path transform="scale(0.25)" d="M1611 469h0m-29 6h0m42-2h0m-64 10h0m39 2h0m4-5h0m-1 8h0m-46 9h0m44 4h0m17-1h0m-36 8h0m1-1h0m9 3h0m21 0h0m2-3h0m-7 5h0m2 1h0m12-1h0m5 8h0m7 1h0m-51 12h0" stroke="#ff9896" stroke-width="5.4" stroke-linecap="round"/>
<path transform="scale(0.25)" d="M1460 351h0m1 0h0m76-7h0m-81 13h0m14 1h0m36-2h0m-67 7h0m0 4h0m86-3h0m24-1h0m-116 8h0m30 0h0m4 4h0m9-6h0m7 1h0m17 5h0m-80 6h0m12-4h0m33 4h0m28-4h0m0 6h0m11-6h0m5 2h0m6 4h0m9-2h0m-122 9h0m2 0h0m3-1h0m13 0h0m8 1h0m6 0h0m7-4h0m16 4h0m47 1h0m13-3h0m2 2h0m17-2h0m-132 4h0m5 7h0m57-2h0m1 0h0m4-1h0m16 1h0m-49 10h0m40 0h0m38 0h0m36-3h0m-142 7h0m3-3h0m1 1h0m29-1h0m33 4h0m41-1h0m-127 6h0m8 5h0m5 0h0m2-2h0m6-4h0m46 7h0m1-6h0m21-1h0m8 7h0m11-7h0m20 0h0m9 1h0m21 6h0m-154 3h0m20-2h0m24 0h0m71 3h0m16 1h0m34 2h0m-149 9h0m8-7h0m21 6h0m9-4h0m37 2h0m0 2h0m2-2h0m9 1h0m26 1h0m-130 8h0m9-6h0m33 2h0m52 3h0m2-2h0m7 0h0m26 0h0m11 1h0m5 3h0m-136 8h0m3 0h0m3-4h0m17-3h0m23 7h0m3-5h0m26 5h0m7-7h0m0 5h0m28 0h0m2-2h0m1-3h0m22 2h0m-162 11h0m7-2h0m21-2h0m47 2h0m26-1h0m25-1h0m2 4h0m4 0h0m15-2h0m-134 6h0m11 3h0m7 2h0m6-4h0m70 2h0m7 2h0m8 1h0m4-5h0m-134 6h0m19 6h0m14-1h0m33 0h0m83 1h0m21-6h0m8 1h0m-124 11h0m8-1h0m13 3h0m3-1h0m12-3h0m14-1h0m8-1h0m28 0h0m22 4h0m-129 6h0m32-2h0m20 4h0m7-4h0m27 7h0m46-7h0m-131 8h0m0 3h0m16-1h0m2-2h0m13 6h0m22 1h0m20-7h0m4 0h0m1 4h0m20-2h0m25 1h0m-133 8h0m3-3h0m11 6h0m25-5h0m0 1h0m1-2h0m29 1h0m35-1h0m37 4h0m-157 7h0m32-2h0m13 3h0m2 0h0m17-1h0m10-3h0m16 2h0m45 1h0m-115 5h0m10 3h0m28-2h0m20 6h0m34-3h0m15-2h0m2 0h0m-135 12h0m45-2h0m23-1h0m3-3h0m5 2h0m33 5h0m4-6h0m-108 7h0m28 4h0m3 0h0m32 2h0m7-3h0m0 4h0m-34 1h0m11 2h0m2 0h0m12-1h0m3-1h0m6 0h0m9 7h0m-75 4h0m41 2h0m12-5h0m18 6h0m-70 6h0m3 1h0m28-4h0m19-1h0m-27 12h0m2 2h0m12-3h0m32 0h0m-66 8h0m2 4h0m27-3h0m3 2h0m15-6h0m4 1h0m-32 9h0m50 5h0m-29 6h0m0 0h0m4-5h0m8 3h0m10 4h0m16-5h0m10 5h0m-63 2h0m9 6h0m39-5h0m-40 9h0m22 3h0m1-5h0m13-1h0m3 5h0m3-4h0m-34 13h0m13 12h0m14 4h0" stroke="#1f77b4" stroke-width="5.4" stroke-linecap="round"/>
<path transform="scale(0.25)" d="M1632 500h0m-3 15h0m16-2h0m63 5h0m3-4h0m1 5h0m6-6h0m-80 9h0m16 5h0m5-4h0m11 2h0m23-4h0m9 5h0m1-5h0m-78 13h0m35-3h0m46 1h0m2 2h0m-98 9h0m37-4h0m5-3h0m31 6h0m22-1h0m-97 10h0m53 0h0m5-1h0m24-6h0m7 6h0m-62 5h0m13 3h0m7 0h0m1-6h0m13 4h0m18-3h0m15 3h0m16 2h0m8-6h0m-137 9h0m26 3h0m6 2h0m12 0h0m7-4h0m9-2h0m36 6h0m-56 6h0m0 1h0m28-3h0m7-1h0m42 0h0m0 2h0m16 0h0m-123 11h0m9-3h0m27 0h0m9 0h0m1 3h0m13-1h0m2-5h0m16 6h0m14 1h0m-51 6h0m1 1h0m36-2h0m40 1h0m11 0h0m-89 7h0m22-4h0m2 7h0m7-1h0m2 0h0m7 0h0m16-6h0m10 1h0m17 3h0m3-4h0m-98 12h0m3 0h0m17-3h0m45 3h0m19 1h0m10-5h0m1 5h0m-100 10h0m10-1h0m11 0h0m13-5h0m8 6h0m2-1h0m10-2h0m21-1h0m5 3h0m-100 3h0m10 0h0m29 1h0m21 5h0m5-7h0m17 4h0m2 0h0m30 2h0m-106 2h0m50 0h0m2 1h0m40 2h0m24 4h0m9 0h0m2-6h0m-98 8h0m4 5h0m12-1h0m9 2h0m10-3h0m52 1h0m-120 7h0m53-1h0m5 3h0m33-4h0m1-2h0m1 5h0m13 1h0m24-6h0m-139 11h0m7 4h0m28-1h0m40-1h0m45-2h0m-77 10h0m1-3h0m26-2h0m25 0h0m16 1h0m-127 14h0m36-4h0m16-1h0m9 5h0m8-3h0m5-3h0m0 4h0m28 2h0m8-6h0m45 1h0m-147 7h0m9 2h0m17 3h0m17 1h0m4-7h0m17 3h0m17 1h0m34-3h0m18 5h0m8-4h0m-185 6h0m31 3h0m26 1h0m9 1h0m17-2h0m9 3h0m6-4h0m20-2h0m3 6h0m48-5h0m9-1h0m-145 14h0m22 1h0m7-2h0m9 2h0m23-5h0m29-1h0m26 6h0m18-7h0m3 0h0m0 7h0m8-4h0m2 1h0m-165 6h0m16 2h0m39 2h0m2 0h0m37-1h0m47-1h0m9 2h0m-88 4h0m-65 12h0m10-1h0m36 2h0m19-1h0m3 1h0m3-2h0m7-1h0m7-4h0m7 1h0m3 4h0m10-3h0m12 0h0m6 2h0m1 2h0m22-5h0m-136 7h0m3 4h0m22 2h0m14-2h0m7 0h0m51 0h0m27-4h0m0 2h0m9 2h0m4-1h0m-115 12h0m30-1h0m3-6h0m0 5h0m26-5h0m-58 14h0m32-3h0m48 2h0m20-1h0m-79 10h0m20-6h0m1 3h0m8 2h0m11 2h0m13-6h0m-60 14h0m32 0h0m6-2h0m8-3h0m18 1h0m-62 5h0m7 0h0m5 6h0m23-3h0m27-2h0m19 3h0m-50 8h0m0 1h0m7-3h0" stroke="#ff7f0e" stroke-width="5.4" stroke-linecap="round"/>
<path transform="scale(0.25)" d="M1536 465h0m5 4h0m-33 8h0m58-1h0m-50 11h0m19 0h0m18-3h0m5-3h0m1 6h0m8 0h0m3-4h0m19-2h0m-64 12h0m5 2h0m7 0h0m14-3h0m-25 4h0m16 15h0m4-6h0m10 1h0m5 0h0m14-1h0m-123 11h0m30-1h0m18 0h0m14 4h0m33-5h0m6-1h0m30 2h0m8-2h0m-118 7h0m16 0h0m14 7h0m40-7h0m8 7h0m26-7h0m21 1h0m-114 13h0m1-3h0m14-1h0m51 0h0m24 4h0m2 0h0m8 0h0m13-3h0m-110 7h0m26 5h0m16-2h0m15-5h0m29 2h0m8 2h0m-158 5h0m0 3h0m71 0h0m1 0h0m6 1h0m41-3h0m4 1h0m11-2h0m15 3h0m19 1h0m9-4h0m6 5h0m11-1h0m-163 8h0m7 2h0m19-4h0m48 1h0m4 0h0m37-3h0m10-1h0m7 1h0m1 3h0m2-4h0m6 4h0m11-4h0m46 1h0m5 0h0m-202 14h0m14-4h0m4 3h0m10-6h0m2 0h0m25 2h0m4 3h0m3-1h0m30 2h0m2-5h0m17 4h0m7-4h0m1 1h0m18 5h0m9-1h0m-149 6h0m34 3h0m12-6h0m6 2h0m17 4h0m11-1h0m38-4h0m5 1h0m32-1h0m8 5h0m-178 4h0m10 4h0m14-2h0m22 1h0m7 0h0m28-2h0m3 2h0m1-4h0m6 2h0m7 1h0m32-3h0m19 5h0m6-4h0m2 3h0m18-3h0m-146 11h0m10 0h0m10-5h0m17-1h0m7 3h0m0 1h0m4 3h0m16-3h0m3 2h0m4-5h0m0 6h0m6-6h0m3 5h0m60-3h0m5 0h0m-174 11h0m13-4h0m42 1h0m8 2h0m25 2h0m11-2h0m5-5h0m12 7h0m15-4h0m3-2h0m42 0h0m0 4h0m-113 5h0m24-2h0m6 3h0m2 2h0m27 2h0m3-7h0m5 1h0m2 2h0m11-3h0m4 0h0m-134 9h0m8 6h0m27-3h0m7-3h0m18 5h0m10-6h0m7 1h0m14 5h0m26-3h0m2 1h0m16 3h0m10-6h0m-117 7h0m19 7h0m13-7h0m10 6h0m11-1h0m96 2h0m-170 5h0m6 2h0m29-2h0m9 3h0m10-3h0m43 1h0m1-4h0m10 1h0m-97 10h0m11-2h0m2 1h0m10-1h0m5 1h0m2 2h0m8 1h0m9-3h0m55 4h0m12-4h0m8-2h0m7 2h0m16-2h0m11 1h0m-175 7h0m5 1h0m10 1h0m3 0h0m9 2h0m1-4h0m7 2h0m8 0h0m1 2h0m5-1h0m24-3h0m25-1h0m10 5h0m3-5h0m29 2h0m1 3h0m10-5h0m4 4h0m-122 6h0m60 1h0m4 1h0m14-3h0m10 4h0m2-3h0m10 5h0m67-5h0m15 0h0m-189 13h0m4-7h0m6 4h0m23-3h0m10 6h0m2-7h0m23 3h0m1 2h0m38-1h0m19-3h0m3 6h0m36-5h0m-160 7h0m15 0h0m25 1h0m17-2h0m9 0h0m2 2h0m2 5h0m6 0h0m4-1h0m27-5h0m0 5h0m23 0h0m-76 5h0m18 0h0m6 0h0m42 1h0m-89 9h0m7-2h0m16-1h0m1-1h0m10 0h0m32 1h0m31 2h0m-80 4h0m8 0h0m22 0h0m26 1h0m1-1h0m-57 8h0m29 5h0m-4 13h0m2 4h0m45 0h0" stroke="#279e68" stroke-width="5.4" stroke-linecap="round"/>
<path transform="scale(0.25)" d="M1529 310h0m1-2h0m5 0h0m-33 8h0m0 0h0m5-4h0m3 6h0m1 0h0m9 0h0m4 0h0m-46 3h0m44 1h0m0 4h0m1-6h0m0 6h0m18-6h0m13 1h0m24 3h0m11 2h0m-101 6h0m20 1h0m7-5h0m18 5h0m27-4h0m15 3h0m-80 5h0m0 2h0m51 3h0m3-4h0m8 1h0m16-3h0m-105 8h0m41 0h0m24 1h0m3 0h0m39 0h0m5 2h0m43 4h0m-160 8h0m35-5h0m40-2h0m28 1h0m11-1h0m7 1h0m0 5h0m-123 7h0m86-3h0m25-2h0m20 1h0m7 4h0m8-2h0m-142 11h0m95-6h0m7 3h0m3 3h0m18-1h0m31-4h0m13 2h0m14 0h0m-175 10h0m68 1h0m4-2h0m2-2h0m21 1h0m35 2h0m1 1h0m5-6h0m7 5h0m-101 5h0m13-1h0m13 6h0m8-7h0m6 5h0m11-2h0m4-2h0m29 4h0m14-3h0m11 4h0m8-6h0m20 4h0m2-3h0m-97 10h0m4 2h0m16 2h0m6-3h0m5 0h0m1 0h0m29 1h0m9 0h0m-73 8h0m2-5h0m18 1h0m2 1h0m3 4h0m36-6h0m6 2h0m7-1h0m3 1h0m4 1h0m24-2h0m4 3h0m7-4h0m3 1h0m-88 7h0m17 4h0m15 3h0m58-4h0m-122 5h0m9 4h0m17-3h0m20 0h0m4 0h0m22 0h0m9 5h0m12 0h0m2 0h0m15-2h0m24-1h0m-120 12h0m12 0h0m12-3h0m15-2h0m5 4h0m3-4h0m39-2h0m-114 11h0m22 3h0m8-1h0m4 1h0m26 0h0m4-3h0m16-1h0m3 3h0m30-2h0m4 2h0m3-1h0m0 1h0m12 2h0m-102 3h0m8 1h0m26 1h0m11 1h0m8-5h0m20 2h0m8 1h0m-98 12h0m18-2h0m5 0h0m8 0h0m11 0h0m22 0h0m4-2h0m11-1h0m1 3h0m11-1h0m5-2h0m21 5h0m21-1h0m-125 9h0m30 0h0m14 0h0m25-1h0m12-4h0m7 4h0m27-2h0m5 1h0m-47 5h0m29 0h0m12-2h0m-80 10h0m7 3h0m40-1h0m5-1h0m14 3h0m-19 8h0m31-5h0m14 1h0m-53 6h0m0 1h0m13 0h0m34 0h0m5 0h0m6-1h0m-87 12h0m40-1h0m4 2h0m5 1h0m40-3h0m10-1h0m-14 8h0m7 5h0m-21 8h0m-16 3h0m11 3h0m16 4h0m11 3h0m-22 8h0m16 2h0m12-5h0" stroke="#d62728" stroke-width="5.4" stroke-linecap="round"/>
<path transform="scale(0.25)" d="M1587 266h0m56 16h0m4 5h0m-84 6h0m28-2h0m7 2h0m16 0h0m6-5h0m-70 14h0m3 0h0m2 1h0m41-4h0m2 0h0m26 4h0m-49 1h0m7 5h0m4 2h0m24-3h0m2 0h0m6-2h0m2 4h0m4-3h0m1-2h0m5 6h0m20-1h0m-99 5h0m7-1h0m43 4h0m3-1h0m19-2h0m7 4h0m19-1h0m-92 3h0m1 3h0m0 1h0m6-5h0m4 1h0m8 4h0m15-4h0m25 2h0m16 3h0m16-1h0m1-4h0m-109 7h0m10 4h0m13-1h0m5 1h0m9-2h0m1-2h0m1 3h0m1 4h0m7-4h0m14 2h0m7-1h0m5 0h0m9-4h0m-36 13h0m46-1h0m-77 10h0m21-1h0m25-5h0" stroke="#9467bd" stroke-width="5.4" stroke-linecap="round"/>
<path transform="scale(0.25)" d="M1660 338h0m1 7h0m-3 12h0m22 1h0m2-3h0m23 4h0m-36 5h0m8 2h0m2-2h0m9-2h0m0 1h0m3-1h0m10 4h0m12-2h0m3 3h0m-45 8h0m2-6h0m10 5h0m5 1h0m26-1h0m4 1h0m-51 2h0m12 2h0m3 4h0m8-3h0m6 2h0m3-5h0m8 6h0m5-6h0m6 6h0m2-4h0m-39 12h0m26 0h0m13-7h0m14 6h0m1-4h0m7 1h0m-46 8h0m7-2h0m7 1h0m7 4h0m7-1h0m-15 5h0m2-2h0m5 6h0m4-1h0m7-5h0m1 3h0m5 4h0m-8 3h0m8 7h0m14 0h0m-5 9h0m32 0h0m-19 6h0" stroke="#8c564b" stroke-width="5.4" stroke-linecap="round"/>
<path transform="scale(0.25)" d="M1356 540h0m-22 11h0m24-2h0m3-3h0m1 4h0m8 5h0m0 1h0m1-4h0m10 3h0m-39 11h0m42 1h0m-39 3h0m3 4h0m3-3h0m2 0h0m27 0h0m-5 6h0m2 2h0m1 2h0m-9 7h0" stroke="#e377c2" stroke-width="5.4" stroke-linecap="round"/>
<path transform="scale(0.25)" d="M1847 366h0m-17 14h0m7-2h0m11 5h0m2-4h0m-57 8h0m10 0h0m6-2h0m11 0h0m37 5h0m-64 4h0m11 4h0m27-4h0m1 5h0m10-3h0m2-4h0m-46 10h0m4-2h0m0 2h0m10 0h0m15-1h0m22 0h0m4 3h0m-69 10h0m9-5h0m1 4h0m9-1h0m9-2h0m5 5h0m1-7h0m4 2h0m3 1h0m12 0h0m5-1h0m0 0h0m-55 10h0m23-3h0m2-1h0m4 5h0m1 2h0m8-2h0m9-2h0m-42 7h0m2 2h0m2-2h0m18 5h0m3-6h0m-10 12h0m20-1h0m-42 7h0m-25 7h0" stroke="#7f7f7f" stroke-width="5.4" stroke-linecap="round"/>
<path transform="scale(0.25)" d="M1798 654h0m5 6h0m1-2h0m5 0h0m2 3h0m2-5h0m5 7h0m21-6h0m-43 10h0m5-1h0m10 4h0m17-5h0m13 0h0m-48 11h0m2 2h0m1-2h0m11-4h0m4 7h0m15 0h0m7-7h0m10 6h0m5-3h0m-59 9h0m19 2h0m3 1h0m7-5h0m0 4h0m0 1h0m4-7h0m3 0h0m7 6h0m30-2h0m3 0h0m-72 8h0m9 1h0m0 2h0m9-7h0m3 6h0m2-6h0m2 5h0m3-5h0m4 5h0m3-5h0m7 0h0m3 6h0m3 0h0m-48 2h0m7 5h0m4-4h0m17 3h0m8 3h0m3-5h0m-27 10h0m26-1h0m1-1h0m9 7h0" stroke="#b5bd61" stroke-width="5.4" stroke-linecap="round"/>
<path transform="scale(0.25)" d="M1453 228h0m-6 9h0m2 2h0m5-5h0m32 0h0m4-1h0m6 3h0m4-4h0m-56 14h0m0 1h0m19-5h0m5 2h0m8 0h0m3 0h0m4-4h0m7 0h0m-41 9h0m28 2h0m3-3h0m10 5h0m20-4h0m-55 9h0m0 0h0m0 4h0m2-3h0m13 3h0m5-5h0m15 5h0m-21 5h0m-16 6h0m13 6h0m3-5h0" stroke="#17becf" stroke-width="5.4" stroke-linecap="round"/>
<path transform="scale(0.25)" d="M1736 459h0m-1 10h0m11-2h0m-30 18h0m10 1h0m1-3h0m8 3h0m11 0h0m-21 9h0m14-2h0m4-4h0m0 5h0m6-5h0m2 6h0m1-1h0m-8 5h0m10 3h0m20 1h0m-23 3h0m-42 9h0m6 4h0m34-6h0m11 0h0m-29 7h0m-8 9h0" stroke="#aec7e8" stroke-width="5.4" stroke-linecap="round"/>
<path transform="scale(0.25)" d="M1429 638h0m6 6h0m6 3h0m10 10h0m2 4h0m-46 6h0m28 2h0m4-4h0" stroke="#ffbb78" stroke-width="5.4" stroke-linecap="round"/>
<path transform="scale(0.25)" d="M1629 363h0m4 2h0m-1 4h0m29 1h0m3 5h0m-13 6h0m2-5h0m1 6h0m-23 9h0m33-5h0m0 4h0m10 5h0m-24 5h0m31 4h0m-19 9h0m2 1h0m-1 4h0m24 5h0m-62 15h0m9 1h0m17-4h0m2-3h0m32 5h0m17-4h0m-69 13h0m30-3h0m29 5h0m8 6h0m-30 17h0m9-1h0m20-3h0m5 3h0m-43 10h0" stroke="#98df8a" stroke-width="5.4" stroke-linecap="round"/>
<path transform="scale(0.25)" d="M1550 441h0m50 16h0m2 4h0m-65 4h0m44 4h0m17-5h0m20 10h0m11 11h0m-45 4h0m59 3h0m-33 4h0m4 4h0m-2 5h0m5 3h0m40 1h0m-38 10h0m19 0h0m-24 2h0m20 2h0m-38 8h0m6-1h0m6 0h0m44 5h0m-44 3h0m17-2h0" stroke="#ff9896" stroke-width="5.4" stroke-linecap="round"/>
<path transform="scale(0.25)" d="M1501 343h0m-41 5h0m11-2h0m12-2h0m6 6h0m-40 8h0m6-2h0m57 0h0m-82 7h0m7-1h0m17 1h0m-24 9h0m18-4h0m14 4h0m29-2h0m33 2h0m-98 4h0m16 0h0m33 3h0m43 0h0m24-3h0m-138 13h0m14 2h0m3-7h0m21 2h0m30 2h0m16-4h0m25 2h0m7-1h0m7 4h0m1-4h0m7 6h0m-136 6h0m13 2h0m9-4h0m32 1h0m22 0h0m3 1h0m6 0h0m42-1h0m4-1h0m-131 9h0m7 1h0m1-5h0m0 2h0m4 3h0m9-4h0m11 0h0m1 4h0m1 1h0m4-2h0m2-3h0m1 5h0m10-3h0m4 0h0m80-2h0m-130 9h0m1 1h0m1 2h0m1-3h0m14 4h0m8-2h0m6-4h0m26 2h0m13-1h0m3 5h0m6-1h0m4-1h0m8-1h0m9-3h0m10 6h0m3 0h0m4-4h0m2 5h0m21-5h0m-153 11h0m83 1h0m28-1h0m59 0h0m-179 3h0m11 5h0m20 2h0m37-7h0m16 2h0m0 1h0m6-3h0m1 5h0m5 1h0m15 1h0m22-5h0m-125 6h0m9 5h0m1-3h0m11 4h0m4-4h0m14 3h0m25 0h0m20-5h0m16 3h0m38 0h0m9 2h0m0 1h0m-134 5h0m2-3h0m5 5h0m8-4h0m11 0h0m0 4h0m8-1h0m7 2h0m45-5h0m41 1h0m4 2h0m-142 10h0m16-4h0m4 4h0m9 1h0m13-6h0m29 1h0m0 1h0m36 0h0m1 1h0m5-2h0m9 0h0m11 4h0m-138 4h0m0 1h0m23-2h0m4-1h0m22 4h0m3 0h0m9 0h0m5 2h0m2-4h0m28 2h0m7-1h0m14 0h0m14 3h0m16-6h0m-79 9h0m0 3h0m13-2h0m34 4h0m14-4h0m17 3h0m-155 9h0m16-4h0m21 4h0m0 1h0m5-7h0m2 0h0m17 5h0m24 0h0m28-5h0m-107 10h0m25 2h0m18-3h0m16 1h0m2-2h0m12 5h0m17-2h0m10-1h0m3-2h0m0 7h0m14 0h0m6-4h0m14 3h0m3-2h0m-134 8h0m26-4h0m39 1h0m16 1h0m9 2h0m4 1h0m12 2h0m10-7h0m14 0h0m21 6h0m-175 4h0m58 2h0m0 2h0m11-6h0m61 4h0m24 1h0m9 0h0m-166 8h0m25-4h0m2 6h0m7 0h0m2-5h0m42 4h0m11-6h0m21 0h0m5 7h0m-115 8h0m15-5h0m12 3h0m1-2h0m6 1h0m11-4h0m22 7h0m37-3h0m11 0h0m15 2h0m-106 3h0m9 1h0m12-1h0m4-1h0m6 7h0m2 0h0m23-4h0m3-1h0m26-1h0m13 4h0m4-2h0m-110 7h0m8 2h0m7-3h0m17 3h0m18 2h0m15-2h0m-72 9h0m26 1h0m22-1h0m23-5h0m6 3h0m110 0h0m-185 9h0m23 0h0m28-2h0m12 2h0m51 3h0m-105 1h0m2 5h0m4 2h0m16-4h0m10 3h0m8-4h0m3 2h0m-44 10h0m1-4h0m4-2h0m29 2h0m35 3h0m16 2h0m-62 6h0m2 0h0m13 1h0m10 1h0m29-3h0m-28 8h0m0 2h0m3-6h0m23 5h0m7-3h0m-68 13h0m20-5h0m19 11h0m12 0h0m6 0h0m-39 6h0m17 0h0m25-2h0m-51 8h0m19-1h0m13 5h0m13 1h0m-32 7h0m3 2h0m12 2h0m32 1h0m-31 12h0m15 1h0m15 4h0" stroke="#1f77b4" stroke-width="5.4" stroke-linecap="round"/>
<path transform="scale(0.25)" d="M1639 489h0m-38 18h0m59 4h0m-23 6h0m4 0h0m61 0h0m1 2h0m-59 8h0m42-4h0m18 4h0m5-2h0m-83 6h0m1 0h0m23-2h0m11 1h0m3 5h0m57-6h0m-62 7h0m3 6h0m26-3h0m24 4h0m-92 8h0m10-7h0m5 0h0m18 7h0m2-7h0m32 7h0m25-4h0m1-3h0m5 2h0m-88 9h0m10-3h0m7 0h0m2 5h0m-40 4h0m31 2h0m39-2h0m9 5h0m5 1h0m22-7h0m-87 10h0m1 0h0m3-2h0m5 7h0m25-7h0m13 7h0m38 0h0m14-1h0m-108 4h0m2-2h0m4 1h0m36 5h0m9 1h0m11-3h0m3-1h0m2-3h0m20 3h0m13 1h0m1 0h0m12 1h0m-125 3h0m24 6h0m4-2h0m17-1h0m29 1h0m4 3h0m20-1h0m18-6h0m-60 11h0m4 4h0m1-2h0m27-4h0m4 4h0m23 0h0m-56 5h0m26 1h0m17-3h0m19 2h0m4 5h0m-118 1h0m41 6h0m1-1h0m23-1h0m9-4h0m15 5h0m6-5h0m12 5h0m6-1h0m-69 6h0m15 1h0m54 4h0m-87 4h0m3 0h0m7 4h0m10-4h0m57-2h0m-178 8h0m103 4h0m7 1h0m10-6h0m4 7h0m3-6h0m3 5h0m56-4h0m-60 12h0m1-5h0m24-1h0m20 6h0m17 1h0m-102 5h0m35-2h0m31 0h0m5 1h0m-103 6h0m57-1h0m6 3h0m9-2h0m71-1h0m1 5h0m-169 5h0m24 5h0m19-2h0m17 0h0m10-4h0m16 1h0m6 2h0m9 0h0m7-4h0m18 2h0m15 2h0m23 3h0m-153 5h0m39 2h0m2-4h0m30-2h0m1 6h0m42-3h0m34 1h0m-164 4h0m5 2h0m15 1h0m39 0h0m74-2h0m4 3h0m1-2h0m28-1h0m-144 14h0m26-1h0m23-1h0m46-1h0m8-4h0m30 3h0m6 1h0m-173 9h0m1-3h0m10 2h0m26 0h0m25 1h0m6-4h0m25 5h0m11-5h0m10 3h0m24-1h0m1 3h0m-108 7h0m1 0h0m14 1h0m11-3h0m66 0h0m18-2h0m-117 9h0m3 1h0m55 1h0m30-3h0m24-1h0m20 0h0m8 0h0m-113 8h0m7 1h0m19 4h0m10-4h0m16 6h0m1-6h0m10 2h0m13 3h0m33-2h0m2-2h0m-117 10h0m4-3h0m3 0h0m68 4h0m14-5h0m25 4h0m7 2h0m-126 8h0m15-6h0m37 1h0m7 3h0m5 3h0m7 0h0m21-4h0m19 1h0m-103 7h0m24-3h0m4 4h0m13-2h0m0 3h0m52 0h0m3-5h0m2 1h0m-100 8h0m21 3h0m2-3h0m13 5h0m1-2h0m14 2h0m24-5h0m-67 9h0m7 0h0m6 2h0m2-2h0m32-1h0m7 6h0m15-6h0m-62 9h0m28-1h0m13 1h0" stroke="#ff7f0e" stroke-width="5.4" stroke-linecap="round"/>
<path transform="scale(0.25)" d="M1515 463h0m29-1h0m11-6h0m8 1h0m-14 10h0m19-1h0m19 5h0m-37 4h0m35-2h0m-56 12h0m40 2h0m-72 3h0m34 5h0m21-1h0m5-4h0m7 4h0m10-4h0m-67 8h0m37-2h0m2 1h0m8 3h0m4 0h0m20-1h0m-68 6h0m7 6h0m28-4h0m5-3h0m10 4h0m7-2h0m38 5h0m3-5h0m-128 8h0m82 4h0m16-5h0m-123 9h0m66 1h0m17-1h0m5 1h0m7 0h0m2 0h0m16-1h0m-90 7h0m22 6h0m12-5h0m24 0h0m3 5h0m9-5h0m29 4h0m14 1h0m-111 7h0m4-6h0m22 0h0m2 3h0m15-1h0m9 0h0m16 0h0m2 1h0m21-3h0m0 3h0m-96 9h0m8-3h0m34 2h0m1-3h0m2 6h0m24 1h0m6 0h0m11 0h0m12-5h0m32 1h0m-156 8h0m31 2h0m10-5h0m41 7h0m33-7h0m0 4h0m17-1h0m15 1h0m1-2h0m11 0h0m18 4h0m-137 5h0m8 0h0m10 1h0m19 2h0m12-3h0m79 4h0m-181 7h0m65-3h0m1 2h0m4-4h0m7 0h0m3 6h0m6-5h0m13-1h0m5 6h0m1-1h0m52 1h0m2-2h0m4 2h0m10-2h0m17 0h0m3-3h0m-171 10h0m29 0h0m33-1h0m8-3h0m4 7h0m37-4h0m8 2h0m1 2h0m2-4h0m14-2h0m-104 11h0m11 1h0m7 0h0m5-1h0m27 3h0m4-6h0m8 0h0m13 2h0m28 1h0m30 3h0m-157 6h0m7-2h0m27 0h0m5 0h0m1 0h0m2 3h0m10-4h0m2-2h0m26 7h0m38-1h0m-118 5h0m17 0h0m7 3h0m7-2h0m10 2h0m10-6h0m9 4h0m7-4h0m5 6h0m18 1h0m3 0h0m10-1h0m23 0h0m-147 7h0m8 1h0m20-6h0m47 2h0m35 3h0m41-4h0m-147 14h0m9-2h0m1-3h0m10 5h0m6-5h0m13 0h0m13 5h0m6-2h0m7-5h0m32 4h0m18-3h0m19-1h0m38 6h0m23-5h0m-180 10h0m20 0h0m9 4h0m13-6h0m1 4h0m21-3h0m14 0h0m23 4h0m8 0h0m6-5h0m16-1h0m20 6h0m-132 5h0m35 4h0m8-5h0m7 2h0m11-3h0m24 2h0m6 3h0m27-4h0m-121 6h0m22 4h0m9 0h0m22-1h0m1 1h0m17 1h0m11 1h0m27-5h0m3 1h0m20 0h0m5-2h0m3 6h0m9-6h0m3 7h0m-158 5h0m48-2h0m69 1h0m34 2h0m7 2h0m-160 2h0m25 0h0m27 1h0m18 2h0m9-1h0m7-3h0m38 4h0m48-3h0m-159 8h0m9 0h0m15 2h0m14 3h0m2 1h0m19-1h0m7 0h0m21-2h0m60 3h0m-137 4h0m11 2h0m5-2h0m8 3h0m10-1h0m14-5h0m7 4h0m10 1h0m6 0h0m46-5h0m-102 8h0m32 5h0m2-4h0m3 2h0m2 1h0m8 1h0m-42 3h0m17 6h0m1-6h0m60 2h0m-50 11h0m27-3h0m5 0h0m-9 9h0m19 3h0m3-4h0" stroke="#279e68" stroke-width="5.4" stroke-linecap="round"/>
<path transform="scale(0.25)" d="M1546 304h0m-38 14h0m6 0h0m8 0h0m2 1h0m-48 8h0m21-1h0m3-5h0m14 3h0m5 1h0m7-2h0m4 1h0m20-2h0m4 3h0m1-3h0m0 5h0m-38 6h0m51-2h0m8 1h0m-84 6h0m6 0h0m36-1h0m7 3h0m25-4h0m2 3h0m-73 9h0m18 3h0m33 0h0m38-1h0m7-3h0m22-3h0m-135 11h0m59 1h0m6-1h0m-65 12h0m61-1h0m3-6h0m8 0h0m3 0h0m20 6h0m18 1h0m10-7h0m20 4h0m13 0h0m-129 11h0m23-1h0m11 1h0m3-3h0m52 0h0m15 1h0m10-3h0m6 1h0m10 0h0m-94 5h0m94 3h0m5 0h0m-102 10h0m15-2h0m55-3h0m0 7h0m11-2h0m14 1h0m-90 3h0m8 2h0m29 3h0m53-4h0m19 2h0m8-1h0m4 4h0m-129 3h0m7 0h0m3 5h0m27-2h0m4-5h0m4 5h0m8-4h0m16 2h0m9 1h0m14 0h0m25 2h0m-79 4h0m21 3h0m35 0h0m10-2h0m3 3h0m2 1h0m24-2h0m-120 8h0m15 0h0m22-5h0m51 4h0m2-2h0m29 1h0m2 2h0m-113 7h0m13 1h0m6 2h0m14-2h0m4-4h0m8 2h0m25 1h0m4 2h0m14-6h0m7 6h0m24-4h0m-73 6h0m13 5h0m18-2h0m49-2h0m-139 9h0m9 1h0m4-3h0m6 2h0m30 1h0m2-3h0m16 4h0m1 1h0m6 0h0m19-3h0m28 0h0m9 3h0m-121 3h0m12 2h0m3 5h0m66-3h0m-55 8h0m24 0h0m3-4h0m5 2h0m11 2h0m10-4h0m20 0h0m2 4h0m11-3h0m-108 7h0m15 0h0m19 5h0m18-2h0m30 1h0m19-2h0m19 0h0m24 0h0m-130 7h0m33 2h0m5 0h0m19-3h0m25 1h0m6-1h0m16 0h0m1 0h0m-102 15h0m3-2h0m6-5h0m114 5h0m-145 3h0m59 1h0m62 0h0m7 4h0m8-3h0m-68 10h0m47-2h0m-23 7h0m11 0h0m32 5h0m-25 8h0m46 3h0m-68 18h0m28 16h0" stroke="#d62728" stroke-width="5.4" stroke-linecap="round"/>
<path transform="scale(0.25)" d="M1552 286h0m31 1h0m7 0h0m2-5h0m19 3h0m3 2h0m-14 1h0m21 7h0m37-2h0m-88 8h0m35 2h0m10-3h0m3-1h0m7 4h0m-95 5h0m13-4h0m4 1h0m13 0h0m0 2h0m7 4h0m7-1h0m7-2h0m16-4h0m2 2h0m18 5h0m16-3h0m21 0h0m-111 6h0m23-2h0m14 2h0m9-2h0m0 6h0m22-4h0m2-2h0m8 7h0m1-3h0m5-1h0m6 3h0m-86 4h0m9 5h0m1-3h0m8 0h0m6 1h0m18 2h0m4-7h0m4 5h0m4 2h0m27-1h0m10 1h0m7-6h0m5 3h0m6-2h0m-116 11h0m6-1h0m23 2h0m10-5h0m1 4h0m0 1h0m3 1h0m6-7h0m12 5h0m2-5h0m1 6h0m11-5h0m3 5h0m2-2h0m1 2h0m5-5h0m14 1h0m2 3h0m3-3h0m-64 13h0m10-5h0m11 5h0m7-6h0m5 6h0m3-4h0m4 3h0m2-1h0m10-2h0m13-1h0m-108 6h0m46 1h0m11 0h0m10-1h0m0 1h0m10 5h0" stroke="#9467bd" stroke-width="5.4" stroke-linecap="round"/>
<path transform="scale(0.25)" d="M1664 350h0m13-3h0m10 3h0m-28 4h0m12 0h0m3 5h0m15-1h0m1 0h0m-10 6h0m2-1h0m9 1h0m16 3h0m-30 2h0m3 2h0m3 2h0m13-1h0m15-2h0m10 4h0m-34 5h0m28-3h0m-30 12h0m18-4h0m6 1h0m22 1h0m-29 8h0m14 2h0m-4 8h0m8 1h0m3 0h0m19-5h0m-6 13h0m1-4h0m2 6h0m3-1h0m-11 8h0m0 3h0m2 2h0m3 2h0m22-5h0m2 5h0" stroke="#8c564b" stroke-width="5.4" stroke-linecap="round"/>
<path transform="scale(0.25)" d="M1383 540h0m-6 11h0m4-1h0m9 0h0m-38 5h0m14-2h0m-23 8h0m4-1h0m0 2h0m7 3h0m24-4h0m-19 10h0m2 1h0m5 3h0m-18 2h0m7 4h0m12-5h0m1 7h0m12-6h0m-32 10h0" stroke="#e377c2" stroke-width="5.4" stroke-linecap="round"/>
<path transform="scale(0.25)" d="M1874 360h0m-31 17h0m-28 10h0m6-1h0m12-2h0m6 3h0m15-2h0m-68 12h0m3-4h0m24 5h0m16-3h0m2 4h0m1 0h0m-45 6h0m10-2h0m10-1h0m1 5h0m15-1h0m6-1h0m36-2h0m-83 9h0m2-1h0m6 0h0m16 4h0m6-7h0m2 1h0m2 1h0m8 3h0m18-2h0m10 0h0m-47 10h0m3-5h0m14 2h0m12-1h0m0 1h0m-34 10h0m8-4h0m6 1h0m-57 22h0m14 10h0" stroke="#7f7f7f" stroke-width="5.4" stroke-linecap="round"/>
<path transform="scale(0.25)" d="M1842 647h0m-22 5h0m3 0h0m-24 5h0m17 2h0m3-2h0m5 4h0m0 2h0m2-5h0m16 0h0m8 1h0m8-2h0m-53 7h0m8 6h0m1-6h0m5 4h0m4 3h0m3-6h0m2 0h0m3 6h0m1-2h0m7 0h0m16-3h0m-71 13h0m7-1h0m16-2h0m10 1h0m9-1h0m1 0h0m13 3h0m2 0h0m7-4h0m4-1h0m4 2h0m-72 10h0m21-5h0m0 1h0m6 5h0m1-4h0m2 0h0m0 2h0m1 1h0m2 0h0m1-5h0m19 4h0m5 1h0m-37 5h0m13-3h0m2 3h0m1-2h0m0 3h0m0 2h0m4-5h0m7 2h0m4 2h0m6 1h0m6-4h0m-49 7h0m5 0h0m0 2h0m5 0h0m0 1h0m4 2h0m1-1h0m1-2h0m15 3h0m1-6h0m7 5h0m-36 3h0m15 0h0m24 10h0" stroke="#b5bd61" stroke-width="5.4" stroke-linecap="round"/>
<path transform="scale(0.25)" d="M1443 229h0m31-2h0m8 2h0m-45 10h0m4-2h0m35 1h0m4 1h0m13-6h0m9 3h0m5-1h0m-49 10h0m4-2h0m3 4h0m1-7h0m15 1h0m7 4h0m-20 3h0m5 3h0m16-1h0m3 4h0m-49 7h0m13-1h0m10 0h0m-3 7h0m-25 10h0m27 1h0m16 1h0m-9 7h0m-31 9h0m32-7h0" stroke="#17becf" stroke-width="5.4" stroke-linecap="round"/>
<path transform="scale(0.25)" d="M1732 457h0m-20 10h0m7 4h0m13-4h0m5 7h0m0 3h0m-18 9h0m2-3h0m16-3h0m-6 14h0m11-1h0m15 1h0m15 1h0m-47 6h0m7-2h0m3 2h0m19 0h0m-33 4h0m-13 11h0m2-4h0m23 4h0m1 3h0m14-6h0m-7 10h0m2-3h0m3 4h0m-15 7h0" stroke="#aec7e8" stroke-width="5.4" stroke-linecap="round"/>
<path transform="scale(0.25)" d="M1442 627h0m6 0h0m-16 14h0m2 0h0m-11 14h0m7-4h0m0 4h0m1-6h0m14 5h0m4 1h0m6 0h0m8-3h0m0 3h0m-50 2h0m0 1h0m7 1h0m5-2h0m0 1h0m-23 12h0m26-3h0m3 4h0m4-6h0m1 3h0m16-1h0m-16 5h0m-21 13h0m13-1h0m29 4h0" stroke="#ffbb78" stroke-width="5.4" stroke-linecap="round"/>
<path transform="scale(0.25)" d="M1667 375h0m-42 24h0m35-3h0m-3 6h0m-39 10h0m37 1h0m-8 3h0m1 14h0m2-2h0m10-2h0m15 8h0m0 1h0m-26 9h0m4 0h0m18 1h0m13-2h0m-38 11h0m29-3h0m8-3h0m5 7h0m-43 11h0m8-2h0m11 6h0m15-1h0m-29 9h0" stroke="#98df8a" stroke-width="5.4" stroke-linecap="round"/>
<path transform="scale(0.25)" d="M1575 447h0m62 13h0m-78 7h0m59-3h0m-28 9h0m34 10h0m11 2h0m0 3h0m-48 14h0m12-4h0m22 3h0m-76 4h0m83 1h0m-43 9h0m25-1h0m44 10h0m-45 6h0m49 1h0" stroke="#ff9896" stroke-width="5.4" stroke-linecap="round"/>
<text x="363.9" y="67" text-anchor="middle">9</text>
<text x="404.7" y="77.7" text-anchor="middle">4</text>
<text x="430.2" y="95.8" text-anchor="middle">5</text>
<text x="453.5" y="104.3" text-anchor="middle">7</text>
<text x="398.3" y="104.9" text-anchor="middle">3</text>
<text x="415.3" y="109.6" text-anchor="middle">12</text>
<text x="363.2" y="121.3" text-anchor="middle">0</text>
<text x="431.2" y="130.9" text-anchor="middle">10</text>
<text x="406.8" y="131.9" text-anchor="middle">13</text>
<text x="341" y="145" text-anchor="middle">6</text>
<text x="382.4" y="147.2" text-anchor="middle">2</text>
<text x="415.3" y="161.4" text-anchor="middle">1</text>
<text x="357.9" y="171.4" text-anchor="middle">11</text>
<text x="455" y="177.8" text-anchor="middle">8</text>
<path d="M341.5 176.9V192.2H357" fill="none" stroke="#1a1a1a" stroke-width="0.6"/>
<text x="338.7" y="200.7">wnnUMAP1</text>
<text x="0" y="0" transform="translate(337.6 193.3) rotate(-90)">wnnUMAP2</text>
<path transform="scale(0.25)" d="M1039 310h0m42-3h0m8-2h0m-52 14h0m8-5h0m11-2h0m3 0h0m-23 14h0m17-3h0m4 1h0m-28 4h0m10 3h0m13-2h0m9 2h0m4 3h0m14 1h0m7 0h0m19 0h0m-76 1h0m1 0h0m21 6h0m10-4h0m7 5h0m1-1h0m25 0h0m1-2h0m-55 10h0m2-6h0m1 6h0m3-3h0m11 2h0m1-3h0m5 2h0m8-4h0m0 7h0m1-3h0m15 0h0m7-3h0m21 3h0m-86 6h0m12-1h0m24-1h0m3 4h0m4 2h0m4-6h0m2 3h0m11 4h0m8-5h0m8 0h0m2 0h0m1 1h0m6 4h0m1-5h0m10 1h0m2-1h0m-91 9h0m16-2h0m14 1h0m0 2h0m5 3h0m13-5h0m8 0h0m1 3h0m0 2h0m11-2h0m17-1h0m-85 6h0m38 1h0m10-1h0m6 5h0m4 0h0m13-3h0m5-4h0m-59 14h0m32-5h0m3-1h0m2 4h0m4-4h0m2 5h0m2-4h0m9 2h0m1 3h0m1-2h0m22-3h0m-48 8h0m5 0h0m11 2h0m1 1h0m1-2h0m1 3h0m5 0h0m1 2h0m6-5h0m5 3h0m19 2h0m5-5h0m5 1h0m-80 8h0m15-2h0m8 4h0m26-3h0m6 5h0m11-6h0m6-1h0m2 2h0m-68 6h0m8 2h0m17 3h0m1-3h0m8 1h0m20 0h0" stroke="#1f77b4" stroke-width="3.2" stroke-linecap="round"/>
<path transform="scale(0.25)" d="M1109 212h0m-32 8h0m18 2h0m24-3h0m9 1h0m-55 8h0m24 3h0m2-5h0m5-2h0m4 1h0m3-1h0m3 1h0m0 5h0m14-3h0m6-2h0m11 0h0m7 3h0m-92 9h0m1-1h0m6 2h0m27-5h0m0 1h0m2 0h0m2 2h0m11 3h0m5-7h0m1 1h0m7 2h0m7 0h0m9 3h0m-84 4h0m1-1h0m11 2h0m3-3h0m2 6h0m10-5h0m0 3h0m3 0h0m4-1h0m12-1h0m4 4h0m9-5h0m0 5h0m5-4h0m1 0h0m8-1h0m0 2h0m6-2h0m28 0h0m8 6h0m-116 6h0m3 1h0m8-3h0m8 4h0m12-1h0m4-4h0m8 4h0m7-4h0m12 4h0m8-1h0m17 0h0m-93 5h0m5 3h0m9-2h0m4 2h0m7 1h0m20-5h0m10 5h0m2-4h0m5-1h0m1 4h0m4 2h0m32-4h0m-112 11h0m18-1h0m4-3h0m3-1h0m2 5h0m14-4h0m3 5h0m13-6h0m4 5h0m4-6h0m22 5h0m5-4h0m-75 10h0m1 0h0m9 3h0m1-5h0m11 4h0m1-2h0m4 0h0m5 4h0m1-5h0m4 5h0m19-4h0m7 3h0m16-1h0m-94 10h0m12-6h0m0 6h0m2-5h0m0 3h0m5-4h0m9 5h0m11 1h0m1-7h0m8 3h0m13 2h0m-55 5h0m34 1h0m7-3h0m10 0h0m6 5h0m-32 4h0m3 0h0m3 6h0m3 0h0m7-1h0m4-5h0m-27 7h0m2 4h0m15 2h0m8-4h0m5-1h0m-24 13h0m14-1h0" stroke="#ff7f0e" stroke-width="3.2" stroke-linecap="round"/>
<path transform="scale(0.25)" d="M1128 231h0m5-1h0m8-4h0m23 4h0m-27 2h0m32 1h0m10 4h0m6 0h0m5 0h0m-44 7h0m16-4h0m10 4h0m7 1h0m-27 8h0m2-5h0m1 1h0m5 5h0m25 1h0m8-5h0m-48 11h0m13 2h0m16-3h0m0 3h0m2 0h0m21 0h0m-65 3h0m29 3h0m13-1h0m0 2h0m9-3h0m6 2h0m13-2h0m-45 11h0m11-6h0m10 1h0m13 6h0m15-4h0m-41 12h0m23-6h0m9 0h0m2-1h0m5 1h0m3 2h0m2-2h0m-58 12h0m45-4h0m9-1h0m1 6h0m-48 6h0m11-3h0m9 6h0m3-4h0m3 4h0m6-1h0m16-2h0m-44 5h0m12 2h0m7-1h0m27 4h0m-34 7h0m13 1h0m5-4h0m19 1h0m-35 5h0m1 6h0m18 1h0m-22 3h0m15 0h0m8 2h0m-39 4h0m23 0h0m20 4h0" stroke="#279e68" stroke-width="3.2" stroke-linecap="round"/>
<path transform="scale(0.25)" d="M1163 294h0m37 5h0m-60 12h0m58-5h0m-51 12h0m7-6h0m-16 10h0m6 4h0m3 1h0m14-7h0m1 7h0m4-2h0m6-4h0m-54 12h0m26 2h0m4-6h0m3 2h0m4 3h0m6-4h0m4 0h0m6 1h0m1 1h0m7-2h0m25 0h0m5-2h0m-84 9h0m7 3h0m14-4h0m4 7h0m16-3h0m8-4h0m10 7h0m4-4h0m2 4h0m7-6h0m0 2h0m2-3h0m-59 10h0m1 3h0m2 1h0m26 1h0m5 0h0m19 0h0m2-5h0m13 5h0m-74 1h0m14 0h0m4 0h0m0 3h0m8 4h0m10 0h0m27-2h0m-70 3h0m3 1h0m4 1h0m2 2h0m4 0h0m2-2h0m1 4h0m2 1h0m7-6h0m1 0h0m4 1h0m4 2h0m12-1h0m1 3h0m5 1h0m8 0h0m-47 4h0m25 1h0m17-1h0m0 2h0m4-4h0m2 0h0m-54 10h0m35-2h0m1 6h0m9-4h0m1-1h0m-36 6h0m32 3h0" stroke="#d62728" stroke-width="3.2" stroke-linecap="round"/>
<path transform="scale(0.25)" d="M1195 352h0m-61 10h0m4 1h0m0 3h0m-26 7h0m25 0h0m10-5h0m18 4h0m3 1h0m-26 5h0m3 5h0m1-4h0m13 4h0m10-3h0m4-3h0m1 5h0m3-5h0m2 4h0m-39 10h0m1-7h0m1 5h0m3-1h0m7 1h0m1-5h0m1 4h0m-32 8h0m2 2h0m9 1h0m8-4h0m8-3h0m9 3h0m2 2h0m-21 4h0m9 3h0m2 1h0" stroke="#9467bd" stroke-width="3.2" stroke-linecap="round"/>
<path transform="scale(0.25)" d="M1116 285h0m-21 4h0m37-1h0m5 3h0m-37 9h0m24 1h0m4-2h0m4 2h0m-39 7h0m4 1h0m12-5h0m8 4h0m2 2h0m6-5h0m1 2h0m13 1h0m7-2h0m5-1h0m7 5h0m-22 3h0m1-1h0m14 3h0m-48 5h0m19 8h0m4 4h0m40-3h0m-51 8h0m26 6h0m-14 3h0m2 7h0" stroke="#8c564b" stroke-width="3.2" stroke-linecap="round"/>
<path transform="scale(0.25)" d="M1050 335h0m22 12h0m-42 8h0m4-2h0m16 2h0m24 2h0m-34 8h0m46 0h0m-51 5h0m6 2h0m2 3h0m9-5h0m6 11h0m16 1h0m-3 8h0m-18 3h0" stroke="#e377c2" stroke-width="3.2" stroke-linecap="round"/>
<path transform="scale(0.25)" d="M1149 430h0m3 0h0m2 1h0m0 0h0m-11 9h0m3 5h0m10-5h0m3 5h0" stroke="#7f7f7f" stroke-width="3.2" stroke-linecap="round"/>
<path transform="scale(0.25)" d="M985 261h0m-4 8h0m3-2h0m7-2h0m1 1h0m-13 7h0m7 3h0m1 1h0m2-3h0m2 2h0m1-3h0m2 1h0m3 0h0m-16 10h0m6-3h0m0 6h0m2-2h0m1-5h0m2 7h0m4-7h0m-15 9h0m4 4h0m1-1h0m4 3h0m1-1h0m1-2h0m9-3h0m-14 7h0" stroke="#b5bd61" stroke-width="3.2" stroke-linecap="round"/>
<path transform="scale(0.25)" d="M1084 421h0m3 0h0m16-1h0m-16 5h0m2 4h0m3-3h0m4 0h0m0 5h0m3 0h0m7-3h0m2-1h0m2 1h0m3-3h0m-19 13h0m7-2h0m1-2h0m-7 7h0m1 2h0" stroke="#17becf" stroke-width="3.2" stroke-linecap="round"/>
<path transform="scale(0.25)" d="M1146 250h0m34-2h0m-20 13h0m31-3h0m-51 13h0m7-3h0m9 3h0m9-6h0m-29 10h0m17-1h0m2 3h0m-20 4h0m17 6h0m2-2h0m10 0h0m2 0h0m-14 9h0m3-4h0m5 0h0m8 4h0m-37 7h0m8-5h0m32 2h0m1 10h0m-21 16h0" stroke="#aec7e8" stroke-width="3.2" stroke-linecap="round"/>
<path transform="scale(0.25)" d="M1035 298h0m23 1h0m-13 15h0m15 4h0m6-2h0m-38 6h0m4 2h0m8-4h0m-2 15h0m-3 5h0m35-2h0" stroke="#ffbb78" stroke-width="3.2" stroke-linecap="round"/>
<path transform="scale(0.25)" d="M1087 299h0m7 0h0m9-3h0m1 3h0m24 10h0m3-5h0m-58 8h0m5 7h0m4-5h0m-7 7h0m17 3h0m10-1h0m5 4h0m8-5h0m4 3h0m0 2h0m-52 7h0m4-2h0m10-3h0m1-1h0m12 0h0m4 2h0m4 1h0m5-2h0m16 1h0m2 1h0m-62 9h0m23-1h0m27-3h0m0 0h0m11 2h0m-42 11h0m20 1h0m15-5h0m15 0h0m-35 8h0m-34 8h0" stroke="#98df8a" stroke-width="3.2" stroke-linecap="round"/>
<path transform="scale(0.25)" d="M1123 253h0m11-2h0m-6 12h0m6-7h0m-30 11h0m8 4h0m5-2h0m-7 7h0m4 1h0m8-1h0m4-4h0m15 1h0m-44 8h0m19-1h0m7 7h0m-29 2h0m1 3h0m27 0h0m8-1h0m6 1h0m2-3h0m-49 12h0m21-3h0m5 1h0m5 1h0m7 0h0m7-4h0m-19 18h0m5 2h0m14-4h0" stroke="#ff9896" stroke-width="3.2" stroke-linecap="round"/>
<path transform="scale(0.25)" d="M1043 299h0m17 6h0m18 6h0m-30 5h0m3 2h0m6-1h0m21-2h0m-44 10h0m3-3h0m11 4h0m6-3h0m1 4h0m14-4h0m7 2h0m22-4h0m-65 9h0m4 4h0m10-3h0m18-2h0m-35 10h0m1 2h0m19 2h0m6-2h0m11-3h0m0 2h0m3-1h0m0 2h0m3-5h0m1 5h0m4-5h0m4 3h0m6 3h0m-56 9h0m0 0h0m6-4h0m1 2h0m6-2h0m7-1h0m0 3h0m28 2h0m21-2h0m14-1h0m1 2h0m2-2h0m5 0h0m-91 5h0m4-1h0m11 2h0m9-1h0m3 2h0m11 0h0m2-3h0m1 0h0m3 2h0m8 0h0m1 1h0m7 4h0m2-6h0m0 0h0m12 2h0m9 3h0m5-2h0m2-4h0m0 5h0m10-1h0m0 1h0m-83 3h0m0 3h0m0 2h0m1-1h0m13 1h0m5-2h0m6 1h0m7-1h0m10 2h0m4 2h0m2-5h0m1 1h0m1 1h0m4-3h0m2 6h0m5-4h0m7 4h0m-65 8h0m9-5h0m5 2h0m4 1h0m2-4h0m2 2h0m6 0h0m1-2h0m1 5h0m18-2h0m6 0h0m2-2h0m1 1h0m1 1h0m9-1h0m9 1h0m-75 8h0m5-1h0m1-2h0m21 3h0m7-1h0m5-1h0m1 2h0m17-4h0m4 6h0m1-4h0m7-1h0m12-1h0m-73 14h0m4-6h0m23 7h0m9-2h0m5-1h0m7-1h0m6-2h0m-41 10h0m2 3h0m13-6h0m21 7h0m3 0h0m6-3h0m3-2h0m12 2h0m2-4h0m0 6h0m-49 5h0m13-3h0m6 3h0m1 3h0m20-6h0m1 6h0m5-5h0" stroke="#1f77b4" stroke-width="3.2" stroke-linecap="round"/>
<path transform="scale(0.25)" d="M1080 218h0m11 2h0m1 1h0m16-1h0m15-1h0m5-1h0m3 1h0m2 0h0m6 3h0m7-4h0m-74 12h0m2-4h0m8 4h0m2-5h0m0 1h0m6 4h0m5 0h0m0 0h0m1 1h0m7 0h0m1-1h0m20-2h0m18 3h0m-79 5h0m5-2h0m10 1h0m4-2h0m11 4h0m2 1h0m3-1h0m1-5h0m6 5h0m2 1h0m5 0h0m3-6h0m14 0h0m4 7h0m4-3h0m5 1h0m2-5h0m20 4h0m-93 4h0m7 2h0m18-1h0m5 3h0m26 0h0m0 1h0m-77 10h0m13-6h0m9 2h0m3 3h0m2-1h0m28-1h0m2 0h0m30 0h0m-90 10h0m4 0h0m4-5h0m21 0h0m3 6h0m28 0h0m3-1h0m1-1h0m3 0h0m9-2h0m3 2h0m3-5h0m10 6h0m-79 4h0m3 1h0m14-1h0m4 2h0m10 0h0m22-1h0m-68 10h0m13-5h0m9 1h0m2 1h0m4 2h0m2 3h0m19 0h0m2-4h0m2-1h0m8-2h0m0 6h0m8-5h0m-72 13h0m3-4h0m0 0h0m19 4h0m2-5h0m6 2h0m24-2h0m1 0h0m0 2h0m-39 11h0m0 1h0m12-5h0m9 3h0m8-1h0m1-3h0m1 5h0m15-6h0m7 0h0m-74 15h0m5-6h0m18 3h0m6 3h0m9-3h0m-28 8h0m34 0h0m7-3h0m-29 14h0m5 0h0m25 4h0m2 6h0" stroke="#ff7f0e" stroke-width="3.2" stroke-linecap="round"/>
<path transform="scale(0.25)" d="M1135 219h0m-14 10h0m28-3h0m2 4h0m4-1h0m9-2h0m1 3h0m-23 6h0m14-4h0m5 2h0m3 0h0m11-2h0m-45 12h0m17 1h0m2-1h0m18-2h0m7-1h0m-46 11h0m9-4h0m20 3h0m0 9h0m5-4h0m1 2h0m9 2h0m2 3h0m9-6h0m4 1h0m8-1h0m3 0h0m-61 12h0m16-2h0m1 0h0m14-3h0m9 2h0m5-1h0m13 0h0m2 1h0m10 4h0m-70 6h0m17-2h0m16-1h0m13 4h0m20 0h0m-55 3h0m21 4h0m20 1h0m18 0h0m3-5h0m1 5h0m-71 6h0m32 3h0m25-4h0m0 2h0m1-1h0m1 4h0m4-7h0m12 4h0m-43 9h0m25 0h0m3-3h0m4-2h0m2 2h0m-38 9h0m2-3h0m20 6h0m7 1h0m2-6h0m7 5h0m-45 2h0m26 2h0m4 0h0m2 4h0m2-4h0m5 0h0m9 0h0m0 1h0m2 4h0m-7 6h0m-1 3h0m9 2h0m-50 12h0m8 7h0" stroke="#279e68" stroke-width="3.2" stroke-linecap="round"/>
<path transform="scale(0.25)" d="M1158 284h0m13 20h0m-26 15h0m1-3h0m11-3h0m23 4h0m-50 6h0m17 4h0m6-3h0m12-2h0m39 2h0m-71 10h0m4-4h0m5 3h0m27-1h0m2 2h0m2-1h0m9 2h0m15-2h0m10 1h0m3-6h0m-68 13h0m9-1h0m18-4h0m1 6h0m11-5h0m10 5h0m13-2h0m-78 10h0m14-6h0m51 3h0m2-2h0m0 2h0m1-2h0m6 5h0m1-2h0m7-3h0m-74 10h0m13 0h0m1 1h0m12-4h0m11 1h0m4 1h0m8-2h0m3 2h0m-55 6h0m3 7h0m3-4h0m6 0h0m15-2h0m4 5h0m4-5h0m15 2h0m4-3h0m6 0h0m-13 9h0m0 0h0m5 2h0m8 0h0m-62 7h0m8 4h0m26-4h0m2-1h0m24 1h0m-23 8h0m-11 8h0m0 3h0" stroke="#d62728" stroke-width="3.2" stroke-linecap="round"/>
<path transform="scale(0.25)" d="M1146 351h0m7-7h0m20 7h0m-47 4h0m21 3h0m-18 9h0m10-3h0m43-1h0m-52 10h0m40 0h0m-20 8h0m2 2h0m1 0h0m19-2h0m3-4h0m0 5h0m3 1h0m1-3h0m1 3h0m-41 1h0m2 6h0m11-4h0m5 2h0m-7 4h0m6 7h0m6 0h0m7-3h0m-16 5h0m2 1h0m5-1h0m5 3h0m-28 4h0" stroke="#9467bd" stroke-width="3.2" stroke-linecap="round"/>
<path transform="scale(0.25)" d="M1147 270h0m-21 6h0m-21 6h0m5 11h0m10 2h0m-11 3h0m52-1h0m8 2h0m-64 11h0m4-5h0m6 0h0m6 5h0m20-5h0m40 1h0m-78 8h0m7 4h0m9 0h0m5-2h0m6 3h0m5-3h0m17-1h0m-11 9h0m-31 11h0m12-6h0m11 3h0m4 34h0" stroke="#8c564b" stroke-width="3.2" stroke-linecap="round"/>
<path transform="scale(0.25)" d="M1046 348h0m-8 5h0m4 3h0m1 1h0m12-2h0m-5 10h0m-6 3h0m-1 10h0m6 1h0m3 2h0m10 12h0m14 2h0" stroke="#e377c2" stroke-width="3.2" stroke-linecap="round"/>
<path transform="scale(0.25)" d="M1142 431h0m6 0h0m4-3h0m-24 6h0m11 4h0m3-3h0m0 0h0m2 2h0m0 1h0m1-5h0m5 2h0m1-2h0m2 6h0m2-2h0m1-4h0m-16 8h0m1 3h0m4-1h0m1 2h0m3-2h0m4-2h0m0 5h0m1-5h0m9-1h0" stroke="#7f7f7f" stroke-width="3.2" stroke-linecap="round"/>
<path transform="scale(0.25)" d="M985 270h0m4 1h0m3-7h0m0 4h0m1 3h0m-12 2h0m0 3h0m2-2h0m1 2h0m3 3h0m10 0h0m-11 1h0m2 0h0m3 7h0m0 0h0m3-3h0m-14 5h0m2 0h0m0 2h0m2 1h0m5-4h0" stroke="#b5bd61" stroke-width="3.2" stroke-linecap="round"/>
<path transform="scale(0.25)" d="M1105 420h0m3 3h0m-18 8h0m3-2h0m3-3h0m3 2h0m1 0h0m4 2h0m1 0h0m-17 2h0m4 5h0m2-5h0m3 1h0m7 6h0m4-6h0m-22 7h0m12 3h0m3-3h0" stroke="#17becf" stroke-width="3.2" stroke-linecap="round"/>
<path transform="scale(0.25)" d="M1162 251h0m2 11h0m13 8h0m-29 7h0m0 2h0m4-1h0m2-5h0m22 3h0m-49 5h0m28 5h0m8-2h0m17-1h0m-40 8h0m1 0h0m3-3h0m4 5h0m16-5h0m1 3h0m-11 9h0m1 2h0m8 0h0m6-3h0m-21 5h0m23 2h0" stroke="#aec7e8" stroke-width="3.2" stroke-linecap="round"/>
<path transform="scale(0.25)" d="M1053 292h0m-14 14h0m7 5h0m12-6h0m9 3h0m-28 5h0m28 0h0m0 2h0m-33 8h0m17 1h0m6-4h0m-26 9h0m-2 9h0m3 2h0" stroke="#ffbb78" stroke-width="3.2" stroke-linecap="round"/>
<path transform="scale(0.25)" d="M1093 292h0m5 5h0m7 1h0m1-1h0m7 3h0m-27 10h0m13-2h0m-44 4h0m10 2h0m47 2h0m-34 8h0m25-2h0m9 4h0m3 0h0m2-1h0m16-5h0m-35 14h0m1-5h0m7-1h0m2 7h0m10 0h0m4-3h0m5 0h0m-26 9h0m23 0h0m-46 9h0m17-4h0m8 0h0m5 0h0m16 0h0m-64 8h0m43 3h0m13-4h0" stroke="#98df8a" stroke-width="3.2" stroke-linecap="round"/>
<path transform="scale(0.25)" d="M1122 245h0m-45 8h0m51-2h0m-18 8h0m7 3h0m15-2h0m-34 9h0m17 0h0m7 0h0m36 0h0m-59 5h0m5 2h0m18-4h0m2 3h0m-27 11h0m14-5h0m11 14h0m-27 2h0m7 3h0m2 0h0m20-3h0m6 5h0m-43 4h0m10 10h0" stroke="#ff9896" stroke-width="3.2" stroke-linecap="round"/>
<path transform="scale(0.25)" d="M1063 288h0m-26 11h0m11-2h0m0 4h0m21 10h0m9-1h0m-7 2h0m10 7h0m-40 8h0m20-4h0m6-1h0m13 4h0m-44 2h0m1 2h0m2-2h0m18 0h0m8 0h0m7 6h0m18 1h0m-52 6h0m2 0h0m2-5h0m10 1h0m1 3h0m19-4h0m2 4h0m16 0h0m8 2h0m-74 5h0m7 0h0m2-1h0m20 4h0m21-3h0m21 1h0m2-3h0m3 4h0m18-3h0m-64 7h0m1 3h0m1 0h0m0 3h0m9 0h0m4-7h0m3 2h0m14 3h0m7-3h0m4 1h0m1 0h0m4 1h0m12 2h0m5-3h0m-69 12h0m3-5h0m11 1h0m7 2h0m3-3h0m12 0h0m9 2h0m4-4h0m20 4h0m3 3h0m-80 1h0m1 6h0m18-5h0m7 2h0m1-2h0m0 5h0m1 1h0m1-1h0m1 0h0m3-6h0m2 0h0m0 6h0m0 1h0m5-7h0m1 0h0m5 5h0m11-1h0m0 3h0m1-2h0m28-5h0m-70 14h0m7-3h0m15-1h0m1 2h0m2 0h0m2 0h0m4-2h0m3 4h0m14-4h0m2 3h0m0 2h0m3-2h0m3-4h0m12 0h0m7 2h0m-81 7h0m13 5h0m14-1h0m3-3h0m3 2h0m6-1h0m1-3h0m5-1h0m9 5h0m12-2h0m-43 11h0m7-6h0m14 1h0m6 0h0m2-1h0m6 4h0m4-1h0m3-2h0m2 6h0m1-4h0m-30 11h0m16-2h0m11-3h0m3 3h0m5 0h0m3-1h0" stroke="#1f77b4" stroke-width="3.2" stroke-linecap="round"/>
<path transform="scale(0.25)" d="M1092 218h0m1 4h0m9 0h0m2 1h0m21-1h0m4-1h0m2 0h0m3 2h0m-44 5h0m0 2h0m2 1h0m11-4h0m0 3h0m1-4h0m3 0h0m41 3h0m6-1h0m-93 11h0m9-3h0m1-4h0m16 5h0m2 1h0m8 1h0m4-7h0m7 3h0m11 0h0m2 2h0m1-3h0m15 4h0m-83 7h0m11-2h0m9 4h0m3-5h0m7-1h0m7 0h0m3 5h0m3-3h0m1 3h0m11 0h0m6-2h0m11 2h0m35-2h0m-110 4h0m0 1h0m11 3h0m9-2h0m2-2h0m8 4h0m10 3h0m5-4h0m7-1h0m11-2h0m14 2h0m3-1h0m9 0h0m10 6h0m-104 3h0m22 5h0m7 0h0m3-4h0m9 4h0m12-1h0m9-1h0m22 0h0m5-5h0m2 5h0m4-5h0m-97 8h0m8 6h0m12-5h0m4 2h0m2 4h0m4-1h0m3 0h0m7-1h0m5-4h0m7 1h0m5 5h0m5-1h0m14-4h0m7-1h0m-80 7h0m2 5h0m9-5h0m6 7h0m8-6h0m0 1h0m0 1h0m1 4h0m1-3h0m3 3h0m1-6h0m5 5h0m2 1h0m3-3h0m57 1h0m-74 3h0m1 5h0m2-4h0m1 0h0m2 6h0m2-2h0m0 1h0m12-2h0m11-2h0m6 5h0m13-4h0m-73 8h0m1 0h0m5 3h0m0 0h0m6-6h0m2 6h0m9 1h0m-40 2h0m5 0h0m24-1h0m2 4h0m10-2h0m20 0h0m-36 13h0m31-6h0m7 3h0m19-3h0m-21 9h0m-39 9h0" stroke="#ff7f0e" stroke-width="3.2" stroke-linecap="round"/>
<path transform="scale(0.25)" d="M1148 223h0m9-4h0m-11 8h0m2 2h0m7 3h0m14 0h0m7 7h0m0 0h0m-31 2h0m13-1h0m18 4h0m21 1h0m-63 8h0m10-1h0m2 3h0m5-7h0m20 0h0m1 4h0m9-4h0m1 6h0m7-6h0m0 7h0m1-1h0m-37 5h0m2-2h0m3 0h0m1 5h0m7-4h0m2 1h0m15-1h0m3-1h0m0 1h0m5-1h0m5 4h0m-64 5h0m38 0h0m8-2h0m8 0h0m8 6h0m1-4h0m2 1h0m-24 9h0m3-4h0m2 7h0m12-7h0m7 0h0m10 6h0m-28 4h0m11 1h0m0 1h0m3 0h0m9 0h0m15-2h0m-59 11h0m1 0h0m26-4h0m0 1h0m0 3h0m5-2h0m14 0h0m-36 12h0m27-2h0m11-3h0m-33 7h0m0 6h0m7-4h0m13-3h0m2 4h0m6 2h0m2-6h0m8 1h0m1-1h0m7 3h0m-40 11h0m3-4h0m11 3h0m1-4h0m0 3h0m11-2h0m-32 10h0m14-1h0m8 3h0m10-2h0m1 0h0m7-3h0m-37 10h0m9 1h0m4 8h0m-11 12h0" stroke="#279e68" stroke-width="3.2" stroke-linecap="round"/>
<path transform="scale(0.25)" d="M1109 303h0m27 4h0m77 1h0m-63 9h0m5 0h0m7-5h0m-17 13h0m3 0h0m1-1h0m7-2h0m5 3h0m0 0h0m7 2h0m1 0h0m32-6h0m4 2h0m-85 8h0m3 1h0m68-3h0m15 4h0m-101 9h0m15 0h0m8-2h0m2-4h0m4 6h0m23-4h0m11 4h0m17-1h0m1 1h0m4-3h0m15-3h0m-77 10h0m10-2h0m2 5h0m6-5h0m1 2h0m11 0h0m1 3h0m11-5h0m8 3h0m0 3h0m18-6h0m2 7h0m-71 8h0m12-5h0m20 5h0m6-1h0m9-1h0m12 2h0m12-6h0m-76 14h0m2-2h0m40-5h0m14 4h0m13-3h0m-49 11h0m24-2h0m14 2h0m8-1h0m-41 8h0m30-1h0m5 0h0m-3 7h0" stroke="#d62728" stroke-width="3.2" stroke-linecap="round"/>
<path transform="scale(0.25)" d="M1148 331h0m9 13h0m-29 11h0m22 12h0m4-1h0m14 3h0m8 6h0m10-3h0m-45 4h0m6 1h0m6-1h0m3 5h0m1-5h0m1 4h0m3 0h0m4 1h0m8-3h0m2 3h0m-18 5h0m-38 10h0m15-1h0m1 0h0m5 0h0m12 3h0m1-2h0m21 0h0m-32 6h0m2-1h0m8 1h0m7 3h0" stroke="#9467bd" stroke-width="3.2" stroke-linecap="round"/>
<path transform="scale(0.25)" d="M1147 275h0m-6 16h0m-13 12h0m20 0h0m7-4h0m1 1h0m-72 7h0m29 4h0m9-4h0m11 3h0m14-2h0m2-3h0m0 5h0m14-4h0m-43 7h0m11 0h0m6 3h0m9 2h0m-21 8h0m6-4h0m33-1h0m3 3h0m-61 4h0m11 0h0m4 4h0m14-3h0m5 6h0m-22 2h0m4 14h0m14-7h0m2 0h0" stroke="#8c564b" stroke-width="3.2" stroke-linecap="round"/>
<path transform="scale(0.25)" d="M1049 350h0m-14 8h0m-3 6h0m5-2h0m0 1h0m11 1h0m5-4h0m1 6h0m-8 3h0m-6 10h0m13 2h0m10 1h0m3 1h0m1 0h0m20-6h0m-46 7h0" stroke="#e377c2" stroke-width="3.2" stroke-linecap="round"/>
<path transform="scale(0.25)" d="M1149 430h0m4-3h0m-23 8h0m2 4h0m10-5h0m10 1h0m2-2h0m2 1h0m3 1h0m2 2h0m-15 6h0m7-1h0m-25 10h0" stroke="#7f7f7f" stroke-width="3.2" stroke-linecap="round"/>
<path transform="scale(0.25)" d="M984 263h0m5 0h0m-5 8h0m7-3h0m2-1h0m3 4h0m-24 3h0m8 1h0m0 2h0m5 2h0m1-5h0m2-1h0m3 4h0m4-3h0m-14 7h0m0 3h0m5-4h0m1 7h0m3-7h0m4 2h0m4-1h0m0 3h0m1 1h0m0 1h0m-17 3h0m6 1h0m2 0h0m1 3h0m2-5h0m2 0h0m-7 9h0" stroke="#b5bd61" stroke-width="3.2" stroke-linecap="round"/>
<path transform="scale(0.25)" d="M1091 420h0m6-1h0m2 2h0m4-2h0m0 2h0m-17 10h0m6 0h0m1-2h0m6 0h0m5 1h0m5-4h0m3 4h0m-26 5h0m4-1h0m6-2h0m1 2h0m1-1h0m1 1h0m3 2h0m6 0h0m1-2h0m1 5h0m1-2h0m-8 4h0" stroke="#17becf" stroke-width="3.2" stroke-linecap="round"/>
<path transform="scale(0.25)" d="M1163 247h0m-10 12h0m-15 7h0m21 3h0m11-4h0m-25 13h0m3-4h0m26 2h0m7-3h0m3 3h0m-44 6h0m13 3h0m6-3h0m0 3h0m-14 6h0m13 0h0m-4 11h0m26-2h0" stroke="#aec7e8" stroke-width="3.2" stroke-linecap="round"/>
<path transform="scale(0.25)" d="M1051 294h0m0 1h0m-15 2h0m6 14h0m2-2h0m47-1h0m-48 5h0m6 5h0m19-5h0m-33 7h0m48 2h0m-19 22h0" stroke="#ffbb78" stroke-width="3.2" stroke-linecap="round"/>
<path transform="scale(0.25)" d="M1097 301h0m-12 3h0m-13 13h0m8-1h0m15 3h0m1-4h0m2 0h0m14 2h0m-34 8h0m14 0h0m2 0h0m8 1h0m-22 7h0m8 0h0m13-5h0m0 2h0m0 3h0m-8 6h0m3 2h0m9-2h0m5-2h0m23 1h0m6-2h0m0 5h0m-34 3h0m0 4h0m15 0h0m1-1h0m7 3h0m-23 7h0m-11 8h0" stroke="#98df8a" stroke-width="3.2" stroke-linecap="round"/>
<path transform="scale(0.25)" d="M1129 239h0m-41 5h0m34 0h0m-32 14h0m33 3h0m17-4h0m-15 9h0m-26 10h0m9-1h0m13-1h0m17-1h0m-33 7h0m28 1h0m7 1h0m-34 15h0m17 4h0m41-4h0m-63 9h0m20-2h0m1 5h0m13-3h0m-18 10h0" stroke="#ff9896" stroke-width="3.2" stroke-linecap="round"/>
<text x="270.7" y="63.2" text-anchor="middle" font-size="6.6">1</text>
<text x="294.8" y="67.1" text-anchor="middle" font-size="6.6">2</text>
<text x="280.9" y="71.4" text-anchor="middle" font-size="6.6">13</text>
<text x="289" y="71.4" text-anchor="middle" font-size="6.6">10</text>
<text x="250.6" y="68.8" text-anchor="middle" font-size="6.6">8</text>
<text x="258.4" y="80.1" text-anchor="middle" font-size="6.6">11</text>
<text x="282.6" y="80.1" text-anchor="middle" font-size="6.6">5</text>
<text x="276.6" y="84.8" text-anchor="middle" font-size="6.6">12</text>
<text x="290.2" y="88.4" text-anchor="middle" font-size="6.6">3</text>
<text x="261.3" y="96.7" text-anchor="middle" font-size="6.6">6</text>
<text x="271.2" y="96.7" text-anchor="middle" font-size="6.6">0</text>
<text x="288.5" y="97.7" text-anchor="middle" font-size="6.6">4</text>
<text x="276.6" y="107.4" text-anchor="middle" font-size="6.6">9</text>
<text x="286.3" y="112" text-anchor="middle" font-size="6.6">7</text>
<text x="248.2" y="113.6" font-size="6.5">UMAP1</text>
<text x="0" y="0" font-size="6.5" transform="translate(246.6 113.8) rotate(-90)">UMAP2</text>
<path transform="scale(0.25)" d="M1030 598h0m4 0h0m13-2h0m6 2h0m13-4h0m3 2h0m-38 5h0m11 2h0m1 1h0m7-1h0m7 4h0m3-7h0m9 7h0m2-5h0m-48 12h0m10-2h0m2-2h0m5 1h0m15 2h0m9 1h0m1-6h0m-46 8h0m5 4h0m15 2h0m2-2h0m3-3h0m0 6h0m2-4h0m4 2h0m13 1h0m1-2h0m48 2h0m-103 2h0m22 2h0m3 5h0m7-5h0m15 5h0m21-3h0m9-1h0m-66 5h0m1 2h0m0 5h0m2-5h0m0 4h0m13-3h0m7-3h0m5 5h0m10-4h0m1 1h0m2-1h0m1 0h0m10 6h0m12-7h0m10 3h0m-95 6h0m9 3h0m4 3h0m3-1h0m6-4h0m2 0h0m5-2h0m0 1h0m4 2h0m14-3h0m10 6h0m1 1h0m3-7h0m0 3h0m1-3h0m8 3h0m1 0h0m2 2h0m4 1h0m1 0h0m2-4h0m1 5h0m2-6h0m4-1h0m33 2h0m-121 13h0m6 0h0m9 0h0m3-7h0m2 0h0m1 1h0m4 1h0m3-1h0m1 5h0m4-2h0m11-1h0m5 3h0m9 0h0m3-2h0m0 1h0m15-2h0m3 1h0m6 2h0m9-6h0m10 4h0m-109 10h0m14-6h0m9 3h0m6 2h0m2-1h0m2 1h0m1-3h0m19 4h0m2-3h0m9-3h0m9 0h0m10 2h0m15-1h0m20-1h0m-120 15h0m29-4h0m7 3h0m5-4h0m1 1h0m20 1h0m13-2h0m13 0h0m3 3h0m9 2h0m5-5h0m20-1h0m-104 10h0m7-1h0m6-1h0m24 5h0m1-5h0m1-1h0m7 5h0m-33 10h0m9-3h0m13-2h0m34 0h0m3 1h0m1 2h0m7-1h0m-93 4h0m5 1h0m0 4h0m13 0h0m20-5h0m15 5h0m11-1h0m15 0h0m-77 5h0m0 0h0m16 6h0m3-2h0m12 2h0m15-6h0m-30 9h0m-9 13h0m6-6h0m23-1h0m0 10h0m0 15h0" stroke="#1f77b4" stroke-width="3.2" stroke-linecap="round"/>
<path transform="scale(0.25)" d="M1116 694h0m-29 9h0m37-1h0m2 0h0m13 1h0m-49 7h0m17-2h0m11 1h0m9-3h0m0 4h0m2-4h0m-25 11h0m17-5h0m3 3h0m1 1h0m8 3h0m2-7h0m0 2h0m1-2h0m0 2h0m8 3h0m14 2h0m-37 1h0m8 1h0m25 4h0m7-5h0m-71 9h0m14 4h0m19 2h0m2-6h0m0 5h0m20-4h0m4-2h0m1 4h0m3 3h0m8-6h0m-78 10h0m12 1h0m0 3h0m20-7h0m2 4h0m30 3h0m-61 8h0m10-6h0m4 2h0m7-1h0m6-1h0m1 5h0m1-5h0m11 0h0m0 3h0m0 2h0m3-2h0m10 1h0m1-3h0m7-1h0m4-1h0m0 1h0m1-1h0m3 5h0m-62 6h0m17-1h0m2-1h0m28 2h0m7 3h0m1-1h0m5 1h0m-74 6h0m18-3h0m11-1h0m8 6h0m7 1h0m15-1h0m10-1h0m-44 6h0m0 1h0m8 0h0m6-4h0m2 1h0m5 6h0m5-2h0m3-5h0m3 4h0m-53 6h0m14 3h0m1-1h0m4 0h0m1 2h0m32 1h0m-28 5h0m1-4h0m3 6h0m2-5h0m13 1h0m2 5h0m6-3h0m-30 5h0m14-1h0m13 4h0" stroke="#ff7f0e" stroke-width="3.2" stroke-linecap="round"/>
<path transform="scale(0.25)" d="M1036 660h0m17 11h0m-19 5h0m21-3h0m2 2h0m-10 10h0m3 2h0m7-3h0m46-2h0m-55 13h0m4-6h0m12 2h0m17 1h0m4-2h0m14 5h0m-45 5h0m1-2h0m13 4h0m6-2h0m15 0h0m5-1h0m14 4h0m-48 4h0m15-1h0m36 4h0m-77 4h0m3 3h0m21-4h0m8-1h0m6 3h0m2 3h0m2-4h0m3 1h0m4 2h0m1-3h0m5-1h0m3 1h0m-54 12h0m5 0h0m7-3h0m2 3h0m3-5h0m2 0h0m8-1h0m9 1h0m0 5h0m1-2h0m4 3h0m4-1h0m13 1h0m2-4h0m-61 9h0m22 3h0m2-2h0m6-3h0m4 2h0m4 2h0m3-3h0m1 1h0m0 1h0m8 0h0m28-1h0m-57 6h0m12 0h0m16-1h0m2 5h0m3-2h0m-29 8h0m5 2h0m2-2h0m6 0h0m7-3h0m6 5h0m-29 5h0m28 0h0m17 4h0m-42 1h0m13 2h0m8 2h0m7 4h0m12 4h0m10-4h0" stroke="#279e68" stroke-width="3.2" stroke-linecap="round"/>
<path transform="scale(0.25)" d="M1089 579h0m19 1h0m0 1h0m-30 5h0m3 4h0m6-6h0m5 6h0m7 1h0m11-4h0m8 2h0m-64 4h0m12 5h0m4-4h0m1-2h0m2 7h0m3-4h0m7-1h0m3 1h0m1 4h0m11-5h0m1-1h0m3 1h0m31 4h0m-59 2h0m0 0h0m1 2h0m6 5h0m5-3h0m7-3h0m2 6h0m4-4h0m7-1h0m10 4h0m12 1h0m19-2h0m9-2h0m-106 6h0m42 3h0m0 3h0m10-6h0m0 4h0m1-4h0m4 3h0m14 1h0m-38 5h0m7 4h0m1-5h0m4-1h0m0 1h0m1 6h0m1-6h0m0 5h0m6-5h0m7-1h0m7 1h0m23 4h0m4-5h0m13 1h0m-83 7h0m18 5h0m2 2h0m16 0h0m3-1h0m25-6h0m1 2h0m-33 8h0m5 3h0m34 0h0m2 1h0m5-4h0m6 0h0m0 4h0m6-3h0m-45 6h0m12 2h0m27-3h0m3 3h0m2-2h0m-52 11h0m7-1h0m12-3h0m30 0h0m12 5h0m3-5h0m-56 9h0m7 1h0m13 3h0m-24 6h0m20 0h0m12 4h0m6-3h0m4 1h0m-38 5h0m3 3h0m1-3h0m6 2h0m6-3h0m7-1h0m1 0h0m19 6h0m-1 2h0m-35 13h0" stroke="#d62728" stroke-width="3.2" stroke-linecap="round"/>
<path transform="scale(0.25)" d="M1115 588h0m1-1h0m0 3h0m14-5h0m-12 12h0m23-5h0m1 1h0m-10 12h0m2 2h0m3 0h0m1-4h0m8 1h0m8 0h0m-16 7h0m23 3h0m-33 9h0m6-2h0m8-3h0m4 3h0m0 8h0m25-5h0m-48 14h0" stroke="#9467bd" stroke-width="3.2" stroke-linecap="round"/>
<path transform="scale(0.25)" d="M1158 623h0m-3 13h0m8-2h0m-18 8h0m15-2h0m4 3h0m6-3h0m10 1h0m-30 13h0m31 1h0m-14 5h0m0 1h0m-15 10h0" stroke="#8c564b" stroke-width="3.2" stroke-linecap="round"/>
<path transform="scale(0.25)" d="M1027 645h0m19 14h0m-56 12h0m9 0h0m2-1h0m14-3h0m6 1h0m-28 4h0m5 1h0m27 5h0m-24 4h0m8 3h0m-12 3h0m4 3h0m15 2h0m-17 3h0m0 1h0m12 4h0m1 2h0m-12 4h0m12 2h0m-2 6h0m0 4h0" stroke="#e377c2" stroke-width="3.2" stroke-linecap="round"/>
<path transform="scale(0.25)" d="M1027 562h0m5 0h0m2-1h0m2 1h0m4 5h0m-27 4h0m2 4h0m12-5h0m1 1h0m10-2h0m-18 8h0m1 3h0m9-4h0m4 0h0m7 5h0m1-1h0m-12 4h0" stroke="#7f7f7f" stroke-width="3.2" stroke-linecap="round"/>
<path transform="scale(0.25)" d="M1191 742h0m4-4h0m3 4h0m-9 9h0m1-5h0m1-1h0m6 6h0m1-6h0m4-1h0m-9 11h0m1-3h0m8 0h0m1 0h0m2 7h0m3 0h0m-10 3h0m1-2h0" stroke="#b5bd61" stroke-width="3.2" stroke-linecap="round"/>
<path transform="scale(0.25)" d="M1083 550h0m5 17h0m7-5h0m1 5h0" stroke="#17becf" stroke-width="3.2" stroke-linecap="round"/>
<path transform="scale(0.25)" d="M1151 662h0m14 5h0m20 10h0m-22 6h0m13 3h0m3-6h0m-24 11h0m5 1h0m3 2h0m-12 9h0m6 8h0" stroke="#aec7e8" stroke-width="3.2" stroke-linecap="round"/>
<path transform="scale(0.25)" d="M1016 724h0m14-2h0m0 2h0m9 2h0m4-4h0m-10 17h0m10 1h0m9 1h0m-9 8h0" stroke="#ffbb78" stroke-width="3.2" stroke-linecap="round"/>
<path transform="scale(0.25)" d="M1126 623h0m22-6h0m1 11h0m21 14h0m-51 7h0m27 11h0m5 2h0m25 0h0m-83 2h0m74 4h0m-73 4h0m48 0h0m0 2h0m3-2h0m3 3h0m2-1h0m6 3h0m-40 4h0m57 5h0m-49 8h0m17-5h0m21-1h0m-31 11h0m13 4h0" stroke="#98df8a" stroke-width="3.2" stroke-linecap="round"/>
<path transform="scale(0.25)" d="M1111 655h0m-23 4h0m21 4h0m12-3h0m-33 11h0m26 2h0m5 0h0m4 2h0m4-2h0m-16 14h0m3 4h0m4 3h0m-36 9h0m25-5h0m5 0h0m3 4h0m8 4h0m19-1h0m-58 8h0m17 0h0m17 0h0" stroke="#ff9896" stroke-width="3.2" stroke-linecap="round"/>
<path transform="scale(0.25)" d="M1057 591h0m-23 6h0m15-2h0m6-2h0m7 4h0m-40 9h0m5-4h0m3 3h0m5-4h0m0 0h0m1 1h0m42 5h0m11-3h0m-77 9h0m4 0h0m15-4h0m1 1h0m5 5h0m28-3h0m-52 6h0m18 3h0m2-5h0m15 2h0m6-1h0m10 5h0m0 1h0m7-2h0m0 1h0m8-1h0m1-5h0m1 5h0m18-1h0m2-2h0m-84 13h0m10-1h0m7-1h0m15-4h0m1-1h0m2 5h0m8 1h0m5-2h0m4 3h0m1-4h0m17-1h0m-90 11h0m9 0h0m14-5h0m1 0h0m3 7h0m2-3h0m1 1h0m10-5h0m1 4h0m4-3h0m3-1h0m4 3h0m5-2h0m11 2h0m1 2h0m3-3h0m1 4h0m1-6h0m2 4h0m24-2h0m0 5h0m1 0h0m4-1h0m28-3h0m-130 12h0m14-5h0m5 2h0m1-2h0m3-1h0m6 6h0m1-1h0m7-1h0m12-2h0m1 2h0m1-4h0m8 3h0m14 0h0m4-3h0m2 6h0m-78 3h0m8-1h0m2 3h0m15-4h0m0 3h0m13-1h0m17 5h0m1-3h0m26 0h0m3-1h0m0 2h0m11 0h0m-89 9h0m12 0h0m4 1h0m2-2h0m19-2h0m3 1h0m0 2h0m1-6h0m8 4h0m4 2h0m6 1h0m7-7h0m2 4h0m3-3h0m21-1h0m0 7h0m-111 7h0m1-4h0m17 5h0m1 0h0m11-3h0m10 1h0m9-3h0m4-1h0m1-1h0m3 2h0m5 3h0m18-2h0m4-2h0m4 2h0m1 1h0m16-4h0m-87 9h0m7 2h0m18 0h0m4 4h0m3-6h0m19 0h0m29-1h0m-78 11h0m11-3h0m18 2h0m11-2h0m11 6h0m25-6h0m-87 11h0m2 2h0m37-4h0m0 2h0m3 0h0m7 0h0m3-2h0m32 3h0m11-1h0m-82 9h0m1-2h0m5 0h0m4-2h0m40 4h0m-60 4h0m20 1h0m2 5h0m9-4h0m26 16h0" stroke="#1f77b4" stroke-width="3.2" stroke-linecap="round"/>
<path transform="scale(0.25)" d="M1095 702h0m-2 6h0m7-4h0m39 4h0m5-1h0m3 4h0m-77 1h0m23 0h0m26 6h0m14-4h0m6 0h0m5 2h0m-59 7h0m12-2h0m8-1h0m23 7h0m3-5h0m7 5h0m17-2h0m5-4h0m-52 14h0m-11 7h0m5 0h0m1 1h0m16-1h0m0 0h0m10-2h0m9-1h0m5-3h0m11 0h0m3 6h0m-41 6h0m10 0h0m2-4h0m3 4h0m1 3h0m7 0h0m6-4h0m1-3h0m2 2h0m-55 7h0m9 1h0m6-1h0m5 3h0m1-1h0m2-2h0m1 0h0m5 2h0m1 2h0m5-3h0m7 3h0m6 0h0m1 0h0m9 0h0m5 0h0m-60 5h0m0 4h0m6-4h0m5 0h0m4 0h0m4 5h0m9-5h0m9 0h0m10 1h0m5-1h0m5 2h0m-69 11h0m11-3h0m18 3h0m8-5h0m7 1h0m2 0h0m2 0h0m1 3h0m7-5h0m5 3h0m-61 9h0m7-2h0m9 0h0m2-2h0m0 3h0m4-3h0m0 3h0m7 2h0m4 1h0m6-1h0m11-2h0m2-4h0m2 3h0m10-1h0m-49 6h0m3 1h0m1 4h0m13 0h0m8-2h0m2 3h0m0 2h0" stroke="#ff7f0e" stroke-width="3.2" stroke-linecap="round"/>
<path transform="scale(0.25)" d="M1090 663h0m-26 15h0m23 8h0m24-6h0m-60 15h0m12-4h0m-10 7h0m10 4h0m1 1h0m13-2h0m1 0h0m4 2h0m34-6h0m-75 10h0m2-1h0m9 1h0m0 4h0m11-4h0m36 2h0m14 1h0m-75 4h0m1 2h0m14 0h0m10-2h0m1-2h0m0 4h0m0 1h0m4 1h0m12-3h0m4-2h0m0 1h0m4-1h0m8 1h0m2 1h0m13 2h0m-75 6h0m7-2h0m4 6h0m12 0h0m1-2h0m1-5h0m8 1h0m10 4h0m20-2h0m-76 6h0m12 1h0m9 2h0m11 2h0m8 1h0m1-4h0m1-2h0m20-1h0m19 2h0m-58 10h0m10 2h0m1-1h0m4-3h0m0 1h0m2 1h0m10 1h0m3-1h0m9 2h0m23-1h0m-54 8h0m8-3h0m4 4h0m3 1h0m4-5h0m5 0h0m2-1h0m4 6h0m11-6h0m6 1h0m-38 9h0m1 4h0m9-2h0m1 0h0m7 1h0m22-5h0m-27 9h0m18-2h0m3 0h0m-2 13h0m1 5h0" stroke="#279e68" stroke-width="3.2" stroke-linecap="round"/>
<path transform="scale(0.25)" d="M1120 583h0m-51 3h0m13 4h0m4-1h0m0 2h0m1-7h0m4 6h0m5-6h0m4 5h0m18-3h0m-71 7h0m32-1h0m4 2h0m17 4h0m9-1h0m0 2h0m8-7h0m-60 12h0m2-3h0m5 0h0m4 4h0m18 2h0m5-6h0m11 6h0m11-1h0m12-6h0m-75 10h0m27 4h0m9 0h0m2-6h0m7 0h0m1 2h0m3 1h0m12-1h0m12 5h0m2-4h0m-63 12h0m10-7h0m20 5h0m8-2h0m3-2h0m3 1h0m4 4h0m2-4h0m11 3h0m27 0h0m13 0h0m-61 5h0m1 2h0m3-2h0m3 4h0m9-4h0m5 4h0m6-1h0m14 2h0m18-5h0m1 1h0m-46 6h0m2-1h0m23 4h0m1 1h0m9-4h0m19 3h0m-64 5h0m4 1h0m5 3h0m28-5h0m-35 14h0m17-4h0m13 3h0m4 2h0m19-4h0m4 2h0m-52 7h0m4-4h0m6 3h0m19-1h0m5 2h0m6-1h0m-28 5h0m19 1h0m-33 11h0m4 0h0m22-3h0m-27 11h0m12 1h0m37-5h0m19 4h0m-60 10h0m39 0h0" stroke="#d62728" stroke-width="3.2" stroke-linecap="round"/>
<path transform="scale(0.25)" d="M1123 588h0m21-1h0m-25 6h0m10 4h0m4 1h0m2-3h0m3 6h0m6 6h0m8-5h0m4 2h0m-39 9h0m-26 8h0m65-4h0m5 3h0m-9 8h0m-46 9h0" stroke="#9467bd" stroke-width="3.2" stroke-linecap="round"/>
<path transform="scale(0.25)" d="M1145 605h0m9-4h0m15 19h0m-26 14h0m3 5h0m11-2h0m-4 9h0m5-3h0m16 3h0m-35 5h0m17 0h0m2 3h0m16-1h0m3-5h0m0 1h0m-51 8h0m40 5h0m13-2h0m-26 6h0m32-2h0" stroke="#8c564b" stroke-width="3.2" stroke-linecap="round"/>
<path transform="scale(0.25)" d="M1002 663h0m-14 4h0m2 11h0m16 1h0m22-7h0m-31 10h0m12 2h0m-3 9h0m5-1h0m2-3h0m-20 10h0m8-1h0m1 1h0m8 3h0m7-5h0m-13 20h0m25 0h0" stroke="#e377c2" stroke-width="3.2" stroke-linecap="round"/>
<path transform="scale(0.25)" d="M1018 566h0m2-2h0m11-1h0m1 4h0m4 2h0m3 5h0m7-5h0m-15 9h0m8 1h0" stroke="#7f7f7f" stroke-width="3.2" stroke-linecap="round"/>
<path transform="scale(0.25)" d="M1192 747h0m2-2h0m1 0h0m4 2h0m0 2h0m6-3h0m2 3h0m1-3h0m-15 13h0m2-3h0m1 3h0m2-2h0m4 2h0m2-4h0m0 4h0m1-7h0m0 1h0m-9 7h0" stroke="#b5bd61" stroke-width="3.2" stroke-linecap="round"/>
<path transform="scale(0.25)" d="M1089 557h0m10-4h0m0 3h0m3 2h0m-19 2h0m0 0h0m4 5h0m8-2h0m1-3h0" stroke="#17becf" stroke-width="3.2" stroke-linecap="round"/>
<path transform="scale(0.25)" d="M1153 662h0m26-3h0m1 4h0m-27 4h0m18 12h0m14-3h0m-27 7h0m5 0h0m5-1h0m10 1h0m7-3h0m0 3h0m-37 9h0m17 3h0m7 0h0m2-7h0m1 7h0m-33 3h0m2 2h0m9 0h0m1-1h0m5 0h0m1 2h0m1 0h0m4-5h0m7 10h0m-20 6h0" stroke="#aec7e8" stroke-width="3.2" stroke-linecap="round"/>
<path transform="scale(0.25)" d="M1029 707h0m7 0h0m-22 6h0m-7 8h0m18 4h0m1 1h0m12-5h0m14 2h0m-29 9h0m3-3h0m5 5h0m32 1h0m-15 3h0m-4 12h0" stroke="#ffbb78" stroke-width="3.2" stroke-linecap="round"/>
<path transform="scale(0.25)" d="M1179 655h0m-37 6h0m28 0h0m-70 10h0m31-3h0m11-3h0m-23 9h0m6 3h0m4-3h0m13 4h0m1 1h0m2-6h0m20 4h0m-48 5h0m53-1h0m-43 14h0m9-3h0" stroke="#98df8a" stroke-width="3.2" stroke-linecap="round"/>
<path transform="scale(0.25)" d="M1121 660h0m-15 9h0m21 2h0m-22 12h0m12-3h0m0 6h0m7-5h0m11 3h0m3-3h0m-12 11h0m12 0h0m-38 8h0m5 0h0m10 2h0m10-1h0m11-5h0m-38 10h0m4 4h0m32-4h0m9 1h0m-52 8h0m21 3h0m45 0h0m-48 2h0m22 5h0" stroke="#ff9896" stroke-width="3.2" stroke-linecap="round"/>
<path transform="scale(0.25)" d="M1039 599h0m2-5h0m11-2h0m20 6h0m-28 8h0m14 1h0m-16 1h0m12 4h0m13-1h0m-45 6h0m3 0h0m10 3h0m2-3h0m8 4h0m18-1h0m1-3h0m23 2h0m-63 7h0m7 0h0m2-1h0m4-1h0m24 7h0m23-2h0m4 2h0m5-5h0m-71 10h0m3 0h0m4 2h0m9-4h0m3 0h0m19 2h0m5-2h0m5 5h0m3-4h0m1 1h0m2-2h0m6 1h0m16 0h0m-107 11h0m18 0h0m4-1h0m7-2h0m5 4h0m4-1h0m1-3h0m0 4h0m12-3h0m1 2h0m0 1h0m1-3h0m1 1h0m23 0h0m8 2h0m13-3h0m4 1h0m-90 4h0m3 1h0m10 0h0m1 1h0m3 3h0m4-1h0m29-2h0m10 4h0m2-3h0m1-1h0m8 3h0m20 0h0m7 0h0m-97 4h0m11 3h0m9-5h0m6 5h0m14 2h0m9-6h0m33 3h0m2 0h0m-87 8h0m2-3h0m4 1h0m13 4h0m2-6h0m1 5h0m1-5h0m0 4h0m12-1h0m14 4h0m12 0h0m8-4h0m12 0h0m3 1h0m12 3h0m2-7h0m-95 15h0m3-6h0m0 0h0m5 0h0m3-1h0m12 0h0m2 0h0m11 5h0m14 2h0m9 0h0m2-4h0m15 2h0m13 0h0m17 1h0m-100 6h0m6-2h0m4-1h0m8 3h0m19-4h0m2 3h0m1-2h0m2 4h0m13-4h0m13-1h0m21 0h0m-98 11h0m20 2h0m5-2h0m11-3h0m36 2h0m-63 11h0m1-2h0m14 1h0m-13 5h0m3 1h0m5 4h0m5-2h0m15-1h0m-36 8h0" stroke="#1f77b4" stroke-width="3.2" stroke-linecap="round"/>
<path transform="scale(0.25)" d="M1152 680h0m-54 12h0m24 6h0m11-2h0m0 4h0m3 3h0m-26 15h0m3-6h0m2 6h0m6 1h0m8-4h0m2-3h0m0 1h0m15-1h0m3 0h0m-36 14h0m9-1h0m1-4h0m6 2h0m11 4h0m2-2h0m3-5h0m1 2h0m5-2h0m6 0h0m8 4h0m-73 9h0m5-1h0m13 0h0m4-4h0m18 3h0m8-1h0m3 1h0m1-2h0m1-1h0m14 6h0m-53 7h0m1 1h0m12-6h0m1 0h0m7 3h0m7 3h0m1-5h0m6 2h0m11 3h0m-49 8h0m13-6h0m0 2h0m6 5h0m28-4h0m9-1h0m-65 6h0m0 6h0m12-4h0m4-2h0m5 2h0m6-1h0m23 2h0m1-2h0m2 4h0m4-1h0m2 0h0m-82 6h0m28 3h0m1-1h0m11-4h0m1 7h0m2-5h0m11 4h0m10-3h0m4 2h0m3-2h0m7 2h0m-59 8h0m29 1h0m4-3h0m0 1h0m11 0h0m1-2h0m3 2h0m1 1h0m4 0h0m3 1h0m5 0h0m-56 8h0m22-3h0m8 1h0m15-1h0m-41 7h0m16-1h0m9 1h0m6 4h0m-22 2h0m9 0h0" stroke="#ff7f0e" stroke-width="3.2" stroke-linecap="round"/>
<path transform="scale(0.25)" d="M1067 676h0m8-3h0m-29 12h0m23-3h0m-13 8h0m0 3h0m5 2h0m8-4h0m3 2h0m39 1h0m-71 9h0m3 0h0m5-6h0m1 5h0m2-4h0m3 1h0m5-1h0m1 1h0m2 1h0m10-3h0m3 0h0m6 6h0m14-5h0m-38 10h0m11-1h0m2 2h0m11-3h0m10 4h0m6-2h0m-69 9h0m5 1h0m6-3h0m19 0h0m0 2h0m3 1h0m2-3h0m19 1h0m4 0h0m1-2h0m59 4h0m-112 3h0m4 2h0m6-1h0m3-2h0m7 7h0m4-5h0m3 3h0m5-4h0m5 0h0m0 4h0m1-4h0m12-1h0m3 0h0m3 4h0m3-3h0m18 4h0m-66 5h0m1 2h0m10-2h0m9-1h0m3-1h0m6 5h0m3-4h0m-28 10h0m5 1h0m4 2h0m3 1h0m14-6h0m2 5h0m2 1h0m6-4h0m28 1h0m-58 9h0m3-3h0m2 4h0m3-5h0m1-1h0m6 1h0m17 4h0m2-4h0m4-1h0m5 3h0m-45 8h0m14-1h0m0 4h0m12-1h0m12-3h0m1-2h0m3 4h0m15 2h0m6-5h0m-43 13h0m14-6h0m2 6h0m11-3h0m3-3h0m11 6h0m5-1h0m-41 8h0m15-2h0m8 0h0" stroke="#279e68" stroke-width="3.2" stroke-linecap="round"/>
<path transform="scale(0.25)" d="M1085 578h0m-24 13h0m11-3h0m4 1h0m3 0h0m2-1h0m6-4h0m5 7h0m4-5h0m6 4h0m5 0h0m6-1h0m0 2h0m1-3h0m-59 8h0m5-1h0m36-3h0m0 6h0m2-6h0m0 0h0m14 3h0m9 2h0m6-4h0m-69 11h0m18-2h0m4 2h0m0 1h0m6 2h0m4-5h0m1 0h0m10 2h0m1-2h0m5 2h0m12 2h0m1-4h0m1-1h0m4 6h0m8-4h0m13 2h0m4-2h0m-81 9h0m16 0h0m31-3h0m8 1h0m1-2h0m25 7h0m-73 1h0m8 7h0m5-5h0m10 3h0m22-5h0m1 3h0m8 7h0m9 3h0m17 1h0m11-5h0m0 2h0m-71 11h0m5-6h0m53 6h0m-52 8h0m8 1h0m4-7h0m0 5h0m1 0h0m25-4h0m14 6h0m-41 4h0m7 0h0m6 2h0m2-5h0m8 4h0m14-1h0m5 3h0m3-3h0m2-2h0m17 2h0m-89 5h0m26 4h0m8 0h0m7 2h0m11 1h0m17-4h0m2 0h0m-27 5h0m8 7h0m2-6h0m39 6h0m-47 1h0m9 0h0m5 5h0m1 7h0" stroke="#d62728" stroke-width="3.2" stroke-linecap="round"/>
<path transform="scale(0.25)" d="M1099 588h0m42 3h0m-39 4h0m16 3h0m27 1h0m6-5h0m-42 8h0m27 0h0m20 5h0m1-4h0m5 1h0m-52 11h0m49-6h0m-48 11h0m25-3h0m11-1h0m-17 15h0m11-7h0m8 0h0m12 9h0" stroke="#9467bd" stroke-width="3.2" stroke-linecap="round"/>
<path transform="scale(0.25)" d="M1167 621h0m-28 4h0m7 6h0m2-6h0m12 0h0m6 0h0m10 6h0m-37 4h0m12 1h0m-3 10h0m13 0h0m17 9h0m-20 3h0m29 4h0m-31 6h0m-36 5h0m42 0h0m-55 10h0m25-1h0" stroke="#8c564b" stroke-width="3.2" stroke-linecap="round"/>
<path transform="scale(0.25)" d="M1008 656h0m-11 12h0m2 5h0m7-1h0m3 3h0m-5 10h0m9-4h0m15 4h0m-34 7h0m15 1h0m-9 6h0m6 8h0m12 1h0m2-4h0m4 9h0" stroke="#e377c2" stroke-width="3.2" stroke-linecap="round"/>
<path transform="scale(0.25)" d="M1028 563h0m-4 11h0m3-4h0m0 3h0m2-3h0m1-1h0m0 4h0m2-4h0m1 9h0" stroke="#7f7f7f" stroke-width="3.2" stroke-linecap="round"/>
<path transform="scale(0.25)" d="M1198 741h0m7 1h0m-9 6h0m1-3h0m5 1h0m0 0h0m1 3h0m-16 3h0m10 7h0m2-4h0m3 2h0m2-3h0m5 5h0m-20 7h0m12-3h0" stroke="#b5bd61" stroke-width="3.2" stroke-linecap="round"/>
<path transform="scale(0.25)" d="M1097 550h0m-14 9h0m4-6h0m1-1h0m4 4h0m4 2h0m17 1h0m-39 1h0m18 2h0" stroke="#17becf" stroke-width="3.2" stroke-linecap="round"/>
<path transform="scale(0.25)" d="M1164 629h0m10 34h0m7 0h0m-34 2h0m25 1h0m2 1h0m5-1h0m6 5h0m-13 8h0m1-7h0m-10 11h0m12 2h0m1 1h0m-24 3h0m15 5h0m2 0h0m-36 4h0m39 4h0m-12 8h0m-8 4h0" stroke="#aec7e8" stroke-width="3.2" stroke-linecap="round"/>
<path transform="scale(0.25)" d="M1023 697h0m7 2h0m5 0h0m-29 15h0m9 13h0m11-4h0m-6 5h0m5 4h0m13-2h0m8 4h0m-5 5h0m7 2h0m11 2h0m-11 6h0m1-3h0m5 2h0m4 9h0" stroke="#ffbb78" stroke-width="3.2" stroke-linecap="round"/>
<path transform="scale(0.25)" d="M1162 638h0m-55 8h0m32-4h0m6 8h0m13 3h0m-39 8h0m27 0h0m2 2h0m-41 8h0m28-6h0m30-1h0m-40 14h0m8-1h0m3 0h0m15-1h0m13 1h0m-39 10h0m12-3h0m15 2h0m11 1h0m8-6h0m2 2h0m-58 7h0m11 0h0m46 4h0m-35 4h0m4 1h0m-18 14h0" stroke="#98df8a" stroke-width="3.2" stroke-linecap="round"/>
<path transform="scale(0.25)" d="M1112 651h0m-27 10h0m24-2h0m21 8h0m-41 9h0m8-4h0m17 6h0m2-3h0m3 2h0m-33 8h0m7 2h0m5-4h0m11 0h0m19 1h0m4-1h0m1-1h0m-51 12h0m12-1h0m11-1h0m6-3h0m1 4h0m2 1h0m30-3h0m-56 5h0m8 1h0m28 0h0m16 2h0m-57 12h0m26-5h0m6-2h0m-4 12h0m4 17h0" stroke="#ff9896" stroke-width="3.2" stroke-linecap="round"/>
<text x="272.1" y="142.7" text-anchor="middle" font-size="6.6">9</text>
<text x="257.3" y="145.4" text-anchor="middle" font-size="6.6">7</text>
<text x="272.8" y="153.5" text-anchor="middle" font-size="6.6">3</text>
<text x="284.9" y="153.9" text-anchor="middle" font-size="6.6">4</text>
<text x="263.6" y="158.6" text-anchor="middle" font-size="6.6">0</text>
<text x="290.6" y="162.8" text-anchor="middle" font-size="6.6">5</text>
<text x="285.9" y="167.3" text-anchor="middle" font-size="6.6">12</text>
<text x="294" y="172.6" text-anchor="middle" font-size="6.6">10</text>
<text x="250.3" y="174.1" text-anchor="middle" font-size="6.6">6</text>
<text x="277" y="174.1" text-anchor="middle" font-size="6.6">13</text>
<text x="266.8" y="179" text-anchor="middle" font-size="6.6">2</text>
<text x="256.2" y="185.1" text-anchor="middle" font-size="6.6">11</text>
<text x="278.5" y="187.5" text-anchor="middle" font-size="6.6">1</text>
<text x="298.7" y="190" text-anchor="middle" font-size="6.6">8</text>
<text x="248.2" y="200.5" font-size="6.5">UMAP1</text>
<text x="0" y="0" font-size="6.5" transform="translate(246.4 197.6) rotate(-90)">UMAP2</text>
<text x="96.6" y="235.7" text-anchor="middle">Variable gene expression</text>
<text x="95.6" y="244.9" text-anchor="middle">in HSC subpopulations</text>
<text x="38.2" y="261.8" text-anchor="end">HSC0</text>
<circle cx="45.70" cy="258.90" r="2.76" fill="#f18b6f" stroke="#dcdcdc" stroke-width="0.35"/>
<circle cx="55.53" cy="258.90" r="2.94" fill="#ec6e50" stroke="#dcdcdc" stroke-width="0.35"/>
<circle cx="65.36" cy="258.90" r="2.94" fill="#eb644a" stroke="#dcdcdc" stroke-width="0.35"/>
<circle cx="75.19" cy="258.90" r="2.12" fill="#dfe6f2" stroke="#dcdcdc" stroke-width="0.35"/>
<circle cx="85.02" cy="258.90" r="1.20" fill="#abbede" stroke="#dcdcdc" stroke-width="0.35"/>
<circle cx="94.85" cy="258.90" r="2.76" fill="#f39579" stroke="#dcdcdc" stroke-width="0.35"/>
<circle cx="104.68" cy="258.90" r="2.76" fill="#f18b6f" stroke="#dcdcdc" stroke-width="0.35"/>
<circle cx="114.51" cy="258.90" r="2.76" fill="#f18b6f" stroke="#dcdcdc" stroke-width="0.35"/>
<circle cx="124.34" cy="258.90" r="2.58" fill="#f8baa5" stroke="#dcdcdc" stroke-width="0.35"/>
<circle cx="134.17" cy="258.90" r="2.30" fill="#ffffff" stroke="#dcdcdc" stroke-width="0.35"/>
<circle cx="144.00" cy="258.90" r="2.39" fill="#f9c4b1" stroke="#dcdcdc" stroke-width="0.35"/>
<circle cx="153.83" cy="258.90" r="2.30" fill="#fde6de" stroke="#dcdcdc" stroke-width="0.35"/>
<text x="38.2" y="272.1" text-anchor="end">HSC1</text>
<circle cx="45.70" cy="269.29" r="1.38" fill="#abbede" stroke="#dcdcdc" stroke-width="0.35"/>
<circle cx="55.53" cy="269.29" r="0.64" fill="#abbede" stroke="#dcdcdc" stroke-width="0.35"/>
<circle cx="65.36" cy="269.29" r="1.38" fill="#b2c3e0" stroke="#dcdcdc" stroke-width="0.35"/>
<circle cx="75.19" cy="269.29" r="3.22" fill="#e74637" stroke="#dcdcdc" stroke-width="0.35"/>
<circle cx="85.02" cy="269.29" r="2.76" fill="#f49e84" stroke="#dcdcdc" stroke-width="0.35"/>
<circle cx="94.85" cy="269.29" r="0.92" fill="#abbede" stroke="#dcdcdc" stroke-width="0.35"/>
<circle cx="104.68" cy="269.29" r="1.20" fill="#abbede" stroke="#dcdcdc" stroke-width="0.35"/>
<circle cx="114.51" cy="269.29" r="1.20" fill="#abbede" stroke="#dcdcdc" stroke-width="0.35"/>
<circle cx="124.34" cy="269.29" r="1.38" fill="#b2c3e0" stroke="#dcdcdc" stroke-width="0.35"/>
<circle cx="134.17" cy="269.29" r="2.30" fill="#e5ebf5" stroke="#dcdcdc" stroke-width="0.35"/>
<circle cx="144.00" cy="269.29" r="2.02" fill="#d2dced" stroke="#dcdcdc" stroke-width="0.35"/>
<circle cx="153.83" cy="269.29" r="1.20" fill="#b2c3e0" stroke="#dcdcdc" stroke-width="0.35"/>
<text x="38.2" y="282.5" text-anchor="end">HSC2</text>
<circle cx="45.70" cy="279.68" r="2.12" fill="#d2dced" stroke="#dcdcdc" stroke-width="0.35"/>
<circle cx="55.53" cy="279.68" r="2.58" fill="#fdefe9" stroke="#dcdcdc" stroke-width="0.35"/>
<circle cx="65.36" cy="279.68" r="2.12" fill="#d8e1f0" stroke="#dcdcdc" stroke-width="0.35"/>
<circle cx="75.19" cy="279.68" r="2.30" fill="#fdefe9" stroke="#dcdcdc" stroke-width="0.35"/>
<circle cx="85.02" cy="279.68" r="2.30" fill="#ffffff" stroke="#dcdcdc" stroke-width="0.35"/>
<circle cx="94.85" cy="279.68" r="3.04" fill="#ee785a" stroke="#dcdcdc" stroke-width="0.35"/>
<circle cx="104.68" cy="279.68" r="2.94" fill="#f18b6f" stroke="#dcdcdc" stroke-width="0.35"/>
<circle cx="114.51" cy="279.68" r="3.04" fill="#ef8165" stroke="#dcdcdc" stroke-width="0.35"/>
<circle cx="124.34" cy="279.68" r="2.02" fill="#d8e1f0" stroke="#dcdcdc" stroke-width="0.35"/>
<circle cx="134.17" cy="279.68" r="2.30" fill="#ecf0f7" stroke="#dcdcdc" stroke-width="0.35"/>
<circle cx="144.00" cy="279.68" r="2.30" fill="#ffffff" stroke="#dcdcdc" stroke-width="0.35"/>
<circle cx="153.83" cy="279.68" r="1.84" fill="#cbd7eb" stroke="#dcdcdc" stroke-width="0.35"/>
<text x="38.2" y="292.9" text-anchor="end">HSC3</text>
<circle cx="45.70" cy="290.07" r="2.58" fill="#ffffff" stroke="#dcdcdc" stroke-width="0.35"/>
<circle cx="55.53" cy="290.07" r="2.30" fill="#ecf0f7" stroke="#dcdcdc" stroke-width="0.35"/>
<circle cx="65.36" cy="290.07" r="2.30" fill="#fdefe9" stroke="#dcdcdc" stroke-width="0.35"/>
<circle cx="75.19" cy="290.07" r="1.84" fill="#cbd7eb" stroke="#dcdcdc" stroke-width="0.35"/>
<circle cx="85.02" cy="290.07" r="2.76" fill="#f6a88e" stroke="#dcdcdc" stroke-width="0.35"/>
<circle cx="94.85" cy="290.07" r="2.39" fill="#ecf0f7" stroke="#dcdcdc" stroke-width="0.35"/>
<circle cx="104.68" cy="290.07" r="2.39" fill="#e5ebf5" stroke="#dcdcdc" stroke-width="0.35"/>
<circle cx="114.51" cy="290.07" r="2.39" fill="#ecf0f7" stroke="#dcdcdc" stroke-width="0.35"/>
<circle cx="124.34" cy="290.07" r="2.76" fill="#f7b19a" stroke="#dcdcdc" stroke-width="0.35"/>
<circle cx="134.17" cy="290.07" r="2.30" fill="#ecf0f7" stroke="#dcdcdc" stroke-width="0.35"/>
<circle cx="144.00" cy="290.07" r="2.30" fill="#ecf0f7" stroke="#dcdcdc" stroke-width="0.35"/>
<circle cx="153.83" cy="290.07" r="2.76" fill="#f6a88e" stroke="#dcdcdc" stroke-width="0.35"/>
<text x="38.2" y="303.3" text-anchor="end">HSC4</text>
<circle cx="45.70" cy="300.46" r="2.48" fill="#fde6de" stroke="#dcdcdc" stroke-width="0.35"/>
<circle cx="55.53" cy="300.46" r="2.30" fill="#ffffff" stroke="#dcdcdc" stroke-width="0.35"/>
<circle cx="65.36" cy="300.46" r="2.30" fill="#ecf0f7" stroke="#dcdcdc" stroke-width="0.35"/>
<circle cx="75.19" cy="300.46" r="2.48" fill="#fcded3" stroke="#dcdcdc" stroke-width="0.35"/>
<circle cx="85.02" cy="300.46" r="2.21" fill="#dfe6f2" stroke="#dcdcdc" stroke-width="0.35"/>
<circle cx="94.85" cy="300.46" r="2.30" fill="#ffffff" stroke="#dcdcdc" stroke-width="0.35"/>
<circle cx="104.68" cy="300.46" r="2.30" fill="#ffffff" stroke="#dcdcdc" stroke-width="0.35"/>
<circle cx="114.51" cy="300.46" r="2.30" fill="#ffffff" stroke="#dcdcdc" stroke-width="0.35"/>
<circle cx="124.34" cy="300.46" r="2.30" fill="#ffffff" stroke="#dcdcdc" stroke-width="0.35"/>
<circle cx="134.17" cy="300.46" r="2.30" fill="#ecf0f7" stroke="#dcdcdc" stroke-width="0.35"/>
<circle cx="144.00" cy="300.46" r="2.30" fill="#ecf0f7" stroke="#dcdcdc" stroke-width="0.35"/>
<circle cx="153.83" cy="300.46" r="2.30" fill="#f2f5fa" stroke="#dcdcdc" stroke-width="0.35"/>
<text x="38.2" y="313.7" text-anchor="end">HSC5</text>
<circle cx="45.70" cy="310.85" r="2.48" fill="#fde6de" stroke="#dcdcdc" stroke-width="0.35"/>
<circle cx="55.53" cy="310.85" r="2.39" fill="#fef3ee" stroke="#dcdcdc" stroke-width="0.35"/>
<circle cx="65.36" cy="310.85" r="2.30" fill="#e5ebf5" stroke="#dcdcdc" stroke-width="0.35"/>
<circle cx="75.19" cy="310.85" r="2.30" fill="#e5ebf5" stroke="#dcdcdc" stroke-width="0.35"/>
<circle cx="85.02" cy="310.85" r="2.30" fill="#eff2f9" stroke="#dcdcdc" stroke-width="0.35"/>
<circle cx="94.85" cy="310.85" r="2.30" fill="#ffffff" stroke="#dcdcdc" stroke-width="0.35"/>
<circle cx="104.68" cy="310.85" r="2.39" fill="#fef3ee" stroke="#dcdcdc" stroke-width="0.35"/>
<circle cx="114.51" cy="310.85" r="2.39" fill="#fef3ee" stroke="#dcdcdc" stroke-width="0.35"/>
<circle cx="124.34" cy="310.85" r="2.30" fill="#ecf0f7" stroke="#dcdcdc" stroke-width="0.35"/>
<circle cx="134.17" cy="310.85" r="2.30" fill="#ffffff" stroke="#dcdcdc" stroke-width="0.35"/>
<circle cx="144.00" cy="310.85" r="2.30" fill="#ecf0f7" stroke="#dcdcdc" stroke-width="0.35"/>
<circle cx="153.83" cy="310.85" r="2.30" fill="#ecf0f7" stroke="#dcdcdc" stroke-width="0.35"/>
<text x="38.2" y="324.1" text-anchor="end">HSC6</text>
<circle cx="45.70" cy="321.24" r="2.39" fill="#ffffff" stroke="#dcdcdc" stroke-width="0.35"/>
<circle cx="55.53" cy="321.24" r="2.76" fill="#f7b19a" stroke="#dcdcdc" stroke-width="0.35"/>
<circle cx="65.36" cy="321.24" r="1.84" fill="#d2dced" stroke="#dcdcdc" stroke-width="0.35"/>
<circle cx="75.19" cy="321.24" r="2.39" fill="#fef3ee" stroke="#dcdcdc" stroke-width="0.35"/>
<circle cx="85.02" cy="321.24" r="1.84" fill="#d2dced" stroke="#dcdcdc" stroke-width="0.35"/>
<circle cx="94.85" cy="321.24" r="2.48" fill="#fcded3" stroke="#dcdcdc" stroke-width="0.35"/>
<circle cx="104.68" cy="321.24" r="2.48" fill="#fde6de" stroke="#dcdcdc" stroke-width="0.35"/>
<circle cx="114.51" cy="321.24" r="2.30" fill="#ffffff" stroke="#dcdcdc" stroke-width="0.35"/>
<circle cx="124.34" cy="321.24" r="2.76" fill="#f8baa5" stroke="#dcdcdc" stroke-width="0.35"/>
<circle cx="134.17" cy="321.24" r="3.22" fill="#e21e1e" stroke="#dcdcdc" stroke-width="0.35"/>
<circle cx="144.00" cy="321.24" r="3.22" fill="#e63c31" stroke="#dcdcdc" stroke-width="0.35"/>
<circle cx="153.83" cy="321.24" r="2.39" fill="#fde6de" stroke="#dcdcdc" stroke-width="0.35"/>
<text x="38.2" y="334.5" text-anchor="end">HSC7</text>
<circle cx="45.70" cy="331.63" r="2.39" fill="#fef3ee" stroke="#dcdcdc" stroke-width="0.35"/>
<circle cx="55.53" cy="331.63" r="2.39" fill="#fef3ee" stroke="#dcdcdc" stroke-width="0.35"/>
<circle cx="65.36" cy="331.63" r="2.67" fill="#f9c4b1" stroke="#dcdcdc" stroke-width="0.35"/>
<circle cx="75.19" cy="331.63" r="2.58" fill="#fbd6c8" stroke="#dcdcdc" stroke-width="0.35"/>
<circle cx="85.02" cy="331.63" r="2.30" fill="#ffffff" stroke="#dcdcdc" stroke-width="0.35"/>
<circle cx="94.85" cy="331.63" r="2.30" fill="#f9fafc" stroke="#dcdcdc" stroke-width="0.35"/>
<circle cx="104.68" cy="331.63" r="2.39" fill="#fef3ee" stroke="#dcdcdc" stroke-width="0.35"/>
<circle cx="114.51" cy="331.63" r="2.30" fill="#ecf0f7" stroke="#dcdcdc" stroke-width="0.35"/>
<circle cx="124.34" cy="331.63" r="2.39" fill="#fef3ee" stroke="#dcdcdc" stroke-width="0.35"/>
<circle cx="134.17" cy="331.63" r="2.30" fill="#ecf0f7" stroke="#dcdcdc" stroke-width="0.35"/>
<circle cx="144.00" cy="331.63" r="2.30" fill="#ecf0f7" stroke="#dcdcdc" stroke-width="0.35"/>
<circle cx="153.83" cy="331.63" r="2.39" fill="#fde6de" stroke="#dcdcdc" stroke-width="0.35"/>
<text x="38.2" y="344.9" text-anchor="end">HSC8</text>
<circle cx="45.70" cy="342.02" r="2.30" fill="#fffbfa" stroke="#dcdcdc" stroke-width="0.35"/>
<circle cx="55.53" cy="342.02" r="2.30" fill="#ecf0f7" stroke="#dcdcdc" stroke-width="0.35"/>
<circle cx="65.36" cy="342.02" r="2.30" fill="#ffffff" stroke="#dcdcdc" stroke-width="0.35"/>
<circle cx="75.19" cy="342.02" r="2.30" fill="#ecf0f7" stroke="#dcdcdc" stroke-width="0.35"/>
<circle cx="85.02" cy="342.02" r="2.76" fill="#f6a88e" stroke="#dcdcdc" stroke-width="0.35"/>
<circle cx="94.85" cy="342.02" r="2.21" fill="#dfe6f2" stroke="#dcdcdc" stroke-width="0.35"/>
<circle cx="104.68" cy="342.02" r="2.21" fill="#dfe6f2" stroke="#dcdcdc" stroke-width="0.35"/>
<circle cx="114.51" cy="342.02" r="2.21" fill="#dfe6f2" stroke="#dcdcdc" stroke-width="0.35"/>
<circle cx="124.34" cy="342.02" r="2.30" fill="#ecf0f7" stroke="#dcdcdc" stroke-width="0.35"/>
<circle cx="134.17" cy="342.02" r="2.30" fill="#ecf0f7" stroke="#dcdcdc" stroke-width="0.35"/>
<circle cx="144.00" cy="342.02" r="2.30" fill="#ecf0f7" stroke="#dcdcdc" stroke-width="0.35"/>
<circle cx="153.83" cy="342.02" r="2.39" fill="#fde6de" stroke="#dcdcdc" stroke-width="0.35"/>
<text x="38.2" y="355.3" text-anchor="end">HSC9</text>
<circle cx="45.70" cy="352.41" r="2.76" fill="#f6a88e" stroke="#dcdcdc" stroke-width="0.35"/>
<circle cx="55.53" cy="352.41" r="2.39" fill="#fef3ee" stroke="#dcdcdc" stroke-width="0.35"/>
<circle cx="65.36" cy="352.41" r="2.76" fill="#f6a88e" stroke="#dcdcdc" stroke-width="0.35"/>
<circle cx="75.19" cy="352.41" r="1.66" fill="#c5d2e8" stroke="#dcdcdc" stroke-width="0.35"/>
<circle cx="85.02" cy="352.41" r="2.02" fill="#d8e1f0" stroke="#dcdcdc" stroke-width="0.35"/>
<circle cx="94.85" cy="352.41" r="2.39" fill="#fdefe9" stroke="#dcdcdc" stroke-width="0.35"/>
<circle cx="104.68" cy="352.41" r="2.39" fill="#fdefe9" stroke="#dcdcdc" stroke-width="0.35"/>
<circle cx="114.51" cy="352.41" r="2.39" fill="#fdefe9" stroke="#dcdcdc" stroke-width="0.35"/>
<circle cx="124.34" cy="352.41" r="2.76" fill="#f39579" stroke="#dcdcdc" stroke-width="0.35"/>
<circle cx="134.17" cy="352.41" r="2.30" fill="#ffffff" stroke="#dcdcdc" stroke-width="0.35"/>
<circle cx="144.00" cy="352.41" r="2.30" fill="#ffffff" stroke="#dcdcdc" stroke-width="0.35"/>
<circle cx="153.83" cy="352.41" r="2.85" fill="#f18b6f" stroke="#dcdcdc" stroke-width="0.35"/>
<text x="38.2" y="365.6" text-anchor="end">HSC10</text>
<circle cx="45.70" cy="362.80" r="2.39" fill="#fef3ee" stroke="#dcdcdc" stroke-width="0.35"/>
<circle cx="55.53" cy="362.80" r="2.30" fill="#ffffff" stroke="#dcdcdc" stroke-width="0.35"/>
<circle cx="65.36" cy="362.80" r="2.48" fill="#fcded3" stroke="#dcdcdc" stroke-width="0.35"/>
<circle cx="75.19" cy="362.80" r="2.67" fill="#f8baa5" stroke="#dcdcdc" stroke-width="0.35"/>
<circle cx="85.02" cy="362.80" r="2.30" fill="#f9fafc" stroke="#dcdcdc" stroke-width="0.35"/>
<circle cx="94.85" cy="362.80" r="2.30" fill="#ffffff" stroke="#dcdcdc" stroke-width="0.35"/>
<circle cx="104.68" cy="362.80" r="2.30" fill="#f9fafc" stroke="#dcdcdc" stroke-width="0.35"/>
<circle cx="114.51" cy="362.80" r="2.39" fill="#fde6de" stroke="#dcdcdc" stroke-width="0.35"/>
<circle cx="124.34" cy="362.80" r="2.21" fill="#e5ebf5" stroke="#dcdcdc" stroke-width="0.35"/>
<circle cx="134.17" cy="362.80" r="2.30" fill="#ecf0f7" stroke="#dcdcdc" stroke-width="0.35"/>
<circle cx="144.00" cy="362.80" r="2.21" fill="#e5ebf5" stroke="#dcdcdc" stroke-width="0.35"/>
<circle cx="153.83" cy="362.80" r="2.48" fill="#fcded3" stroke="#dcdcdc" stroke-width="0.35"/>
<text x="38.2" y="376" text-anchor="end">HSC11</text>
<circle cx="45.70" cy="373.19" r="2.21" fill="#e5ebf5" stroke="#dcdcdc" stroke-width="0.35"/>
<circle cx="55.53" cy="373.19" r="2.30" fill="#ecf0f7" stroke="#dcdcdc" stroke-width="0.35"/>
<circle cx="65.36" cy="373.19" r="2.12" fill="#dfe6f2" stroke="#dcdcdc" stroke-width="0.35"/>
<circle cx="75.19" cy="373.19" r="2.39" fill="#fde6de" stroke="#dcdcdc" stroke-width="0.35"/>
<circle cx="85.02" cy="373.19" r="2.30" fill="#ecf0f7" stroke="#dcdcdc" stroke-width="0.35"/>
<circle cx="94.85" cy="373.19" r="2.39" fill="#fde6de" stroke="#dcdcdc" stroke-width="0.35"/>
<circle cx="104.68" cy="373.19" r="2.48" fill="#fbd6c8" stroke="#dcdcdc" stroke-width="0.35"/>
<circle cx="114.51" cy="373.19" r="2.48" fill="#fbd6c8" stroke="#dcdcdc" stroke-width="0.35"/>
<circle cx="124.34" cy="373.19" r="2.30" fill="#ecf0f7" stroke="#dcdcdc" stroke-width="0.35"/>
<circle cx="134.17" cy="373.19" r="2.21" fill="#e5ebf5" stroke="#dcdcdc" stroke-width="0.35"/>
<circle cx="144.00" cy="373.19" r="2.39" fill="#fde6de" stroke="#dcdcdc" stroke-width="0.35"/>
<circle cx="153.83" cy="373.19" r="2.02" fill="#d8e1f0" stroke="#dcdcdc" stroke-width="0.35"/>
<text x="38.2" y="386.4" text-anchor="end">HSC12</text>
<circle cx="45.70" cy="383.58" r="1.38" fill="#b2c3e0" stroke="#dcdcdc" stroke-width="0.35"/>
<circle cx="55.53" cy="383.58" r="2.30" fill="#ecf0f7" stroke="#dcdcdc" stroke-width="0.35"/>
<circle cx="65.36" cy="383.58" r="2.30" fill="#ecf0f7" stroke="#dcdcdc" stroke-width="0.35"/>
<circle cx="75.19" cy="383.58" r="1.84" fill="#d2dced" stroke="#dcdcdc" stroke-width="0.35"/>
<circle cx="85.02" cy="383.58" r="2.30" fill="#ffffff" stroke="#dcdcdc" stroke-width="0.35"/>
<circle cx="94.85" cy="383.58" r="1.93" fill="#cbd7eb" stroke="#dcdcdc" stroke-width="0.35"/>
<circle cx="104.68" cy="383.58" r="1.66" fill="#becde6" stroke="#dcdcdc" stroke-width="0.35"/>
<circle cx="114.51" cy="383.58" r="2.02" fill="#d2dced" stroke="#dcdcdc" stroke-width="0.35"/>
<circle cx="124.34" cy="383.58" r="2.39" fill="#fef3ee" stroke="#dcdcdc" stroke-width="0.35"/>
<circle cx="134.17" cy="383.58" r="2.30" fill="#ffffff" stroke="#dcdcdc" stroke-width="0.35"/>
<circle cx="144.00" cy="383.58" r="2.30" fill="#ecf0f7" stroke="#dcdcdc" stroke-width="0.35"/>
<circle cx="153.83" cy="383.58" r="2.02" fill="#d8e1f0" stroke="#dcdcdc" stroke-width="0.35"/>
<text x="38.2" y="396.8" text-anchor="end">HSC13</text>
<circle cx="45.70" cy="393.97" r="2.48" fill="#fcded3" stroke="#dcdcdc" stroke-width="0.35"/>
<circle cx="55.53" cy="393.97" r="1.84" fill="#d2dced" stroke="#dcdcdc" stroke-width="0.35"/>
<circle cx="65.36" cy="393.97" r="2.30" fill="#f9fafc" stroke="#dcdcdc" stroke-width="0.35"/>
<circle cx="75.19" cy="393.97" r="2.30" fill="#ecf0f7" stroke="#dcdcdc" stroke-width="0.35"/>
<circle cx="85.02" cy="393.97" r="2.76" fill="#f7b19a" stroke="#dcdcdc" stroke-width="0.35"/>
<circle cx="94.85" cy="393.97" r="2.21" fill="#e5ebf5" stroke="#dcdcdc" stroke-width="0.35"/>
<circle cx="104.68" cy="393.97" r="2.12" fill="#dfe6f2" stroke="#dcdcdc" stroke-width="0.35"/>
<circle cx="114.51" cy="393.97" r="2.12" fill="#dfe6f2" stroke="#dcdcdc" stroke-width="0.35"/>
<circle cx="124.34" cy="393.97" r="1.66" fill="#becde6" stroke="#dcdcdc" stroke-width="0.35"/>
<circle cx="134.17" cy="393.97" r="2.30" fill="#ecf0f7" stroke="#dcdcdc" stroke-width="0.35"/>
<circle cx="144.00" cy="393.97" r="2.30" fill="#ecf0f7" stroke="#dcdcdc" stroke-width="0.35"/>
<circle cx="153.83" cy="393.97" r="2.30" fill="#ffffff" stroke="#dcdcdc" stroke-width="0.35"/>
<path d="M40.6 253.2V400.5H159.5" fill="none" stroke="#1a1a1a" stroke-width="0.6"/>
<line x1="45.70" y1="400.5" x2="45.70" y2="402.3" stroke="#1a1a1a" stroke-width="0.5"/>
<text x="0" y="0" text-anchor="end" font-style="italic" transform="translate(48.30 408.8) rotate(-45)">MECOM</text>
<line x1="55.53" y1="400.5" x2="55.53" y2="402.3" stroke="#1a1a1a" stroke-width="0.5"/>
<text x="0" y="0" text-anchor="end" font-style="italic" transform="translate(58.13 408.8) rotate(-45)">FTH1</text>
<line x1="65.36" y1="400.5" x2="65.36" y2="402.3" stroke="#1a1a1a" stroke-width="0.5"/>
<text x="0" y="0" text-anchor="end" font-style="italic" transform="translate(67.96 408.8) rotate(-45)">BMP6</text>
<line x1="75.19" y1="400.5" x2="75.19" y2="402.3" stroke="#1a1a1a" stroke-width="0.5"/>
<text x="0" y="0" text-anchor="end" font-style="italic" transform="translate(77.79 408.8) rotate(-45)">FLT3</text>
<line x1="85.02" y1="400.5" x2="85.02" y2="402.3" stroke="#1a1a1a" stroke-width="0.5"/>
<text x="0" y="0" text-anchor="end" font-style="italic" transform="translate(87.62 408.8) rotate(-45)">CDK6</text>
<line x1="94.85" y1="400.5" x2="94.85" y2="402.3" stroke="#1a1a1a" stroke-width="0.5"/>
<text x="0" y="0" text-anchor="end" font-style="italic" transform="translate(97.45 408.8) rotate(-45)">RPS4X</text>
<line x1="104.68" y1="400.5" x2="104.68" y2="402.3" stroke="#1a1a1a" stroke-width="0.5"/>
<text x="0" y="0" text-anchor="end" font-style="italic" transform="translate(107.28 408.8) rotate(-45)">RPS18</text>
<line x1="114.51" y1="400.5" x2="114.51" y2="402.3" stroke="#1a1a1a" stroke-width="0.5"/>
<text x="0" y="0" text-anchor="end" font-style="italic" transform="translate(117.11 408.8) rotate(-45)">RPL10</text>
<line x1="124.34" y1="400.5" x2="124.34" y2="402.3" stroke="#1a1a1a" stroke-width="0.5"/>
<text x="0" y="0" text-anchor="end" font-style="italic" transform="translate(126.94 408.8) rotate(-45)">ELMO1</text>
<line x1="134.17" y1="400.5" x2="134.17" y2="402.3" stroke="#1a1a1a" stroke-width="0.5"/>
<text x="0" y="0" text-anchor="end" font-style="italic" transform="translate(136.77 408.8) rotate(-45)">JUN</text>
<line x1="144.00" y1="400.5" x2="144.00" y2="402.3" stroke="#1a1a1a" stroke-width="0.5"/>
<text x="0" y="0" text-anchor="end" font-style="italic" transform="translate(146.60 408.8) rotate(-45)">FOS</text>
<line x1="153.83" y1="400.5" x2="153.83" y2="402.3" stroke="#1a1a1a" stroke-width="0.5"/>
<text x="0" y="0" text-anchor="end" font-style="italic" transform="translate(156.43 408.8) rotate(-45)">MED12L</text>
<text x="0" y="0" text-anchor="middle" transform="translate(6.1 326.3) rotate(-90)">HSC subpopulations</text>
<defs><linearGradient id="gRB"><stop offset="0" stop-color="#88a6d0"/><stop offset="0.38" stop-color="#ffffff"/><stop offset="0.48" stop-color="#fde3d8"/><stop offset="1" stop-color="#e6281e"/></linearGradient></defs>
<rect x="44.9" y="438.1" width="23.2" height="4.6" fill="url(#gRB)"/>
<text x="39.5" y="449.8">−2 0 2</text>
<text x="39.8" y="459.9">Rel. expr.</text>
<text x="39.8" y="469.2">(<tspan font-style="italic">z</tspan>-score)</text>
<circle cx="98.3" cy="439" r="0.60" fill="none" stroke="#222" stroke-width="0.62"/>
<text x="96.6" y="449.6" text-anchor="middle">−2</text>
<circle cx="107.9" cy="439" r="1.10" fill="none" stroke="#222" stroke-width="0.62"/>
<text x="107.9" y="449.6" text-anchor="middle">−1</text>
<circle cx="117.4" cy="439" r="1.45" fill="none" stroke="#222" stroke-width="0.62"/>
<text x="117.4" y="449.6" text-anchor="middle">0</text>
<circle cx="126.9" cy="439" r="1.80" fill="none" stroke="#222" stroke-width="0.62"/>
<text x="126.9" y="449.6" text-anchor="middle">1</text>
<circle cx="136.2" cy="439" r="2.10" fill="none" stroke="#222" stroke-width="0.62"/>
<text x="136.2" y="449.6" text-anchor="middle">2</text>
<circle cx="145.6" cy="439" r="2.40" fill="none" stroke="#222" stroke-width="0.62"/>
<text x="145.6" y="449.6" text-anchor="middle">3</text>
<text x="123.9" y="459.9" text-anchor="middle">Expr. of cell no.</text>
<text x="124.2" y="469.2" text-anchor="middle">(<tspan font-style="italic">z</tspan>-score)</text>
<rect x="481.70" y="22" width="1.90" height="11" fill="#c2187a"/>
<rect x="483.55" y="22" width="1.90" height="11" fill="#e8405a"/>
<rect x="485.40" y="22" width="1.90" height="11" fill="#66c2a5"/>
<rect x="487.25" y="22" width="1.90" height="11" fill="#777777"/>
<rect x="489.10" y="22" width="1.90" height="11" fill="#4daf4a"/>
<rect x="490.95" y="22" width="1.90" height="11" fill="#f2d22e"/>
<rect x="492.80" y="22" width="1.90" height="11" fill="#f58a2a"/>
<rect x="494.65" y="22" width="1.90" height="11" fill="#2f5fa8"/>
<rect x="481.7" y="22" width="14.8" height="11" fill="none" stroke="#777" stroke-width="0.5"/>
<text x="500.4" y="30.8">Clone ID</text>
<rect x="535.7" y="22" width="14.4" height="11" fill="#e41a1c" stroke="#888" stroke-width="0.4"/>
<text x="554.7" y="30.8">Time point 1</text>
<rect x="605.3" y="22" width="14.4" height="11" fill="#3a4fa3" stroke="#888" stroke-width="0.4"/>
<text x="624.3" y="30.8">Time point 2</text>
<path d="M669.6 129.6A89.2 89.2 0 0 0 669.6 128.4L666.6 128.4A86.2 86.2 0 0 1 666.6 129.6zM669.6 126.9A89.2 89.2 0 0 0 669.5 125.7L666.5 125.9A86.2 86.2 0 0 1 666.6 127.0zM669.5 125.6A89.2 89.2 0 0 0 669.4 124.4L666.5 124.6A86.2 86.2 0 0 1 666.5 125.7zM669.4 122.9A89.2 89.2 0 0 0 669.3 121.7L666.3 122.0A86.2 86.2 0 0 1 666.4 123.2zM669.2 121.6A89.2 89.2 0 0 0 669.1 120.4L666.1 120.7A86.2 86.2 0 0 1 666.3 121.9zM668.6 116.3A89.2 89.2 0 0 0 668.4 115.1L665.5 115.6A86.2 86.2 0 0 1 665.6 116.8zM668.4 115.0A89.2 89.2 0 0 0 668.2 113.8L665.2 114.3A86.2 86.2 0 0 1 665.4 115.5zM668.2 113.7A89.2 89.2 0 0 0 667.9 112.5L665.0 113.1A86.2 86.2 0 0 1 665.2 114.2zM667.9 112.4A89.2 89.2 0 0 0 667.7 111.2L664.7 111.8A86.2 86.2 0 0 1 665.0 112.9zM667.7 111.1A89.2 89.2 0 0 0 667.4 109.9L664.5 110.5A86.2 86.2 0 0 1 664.7 111.7zM667.4 109.8A89.2 89.2 0 0 0 667.1 108.6L664.2 109.3A86.2 86.2 0 0 1 664.4 110.4zM667.1 108.5A89.2 89.2 0 0 0 666.8 107.3L663.9 108.0A86.2 86.2 0 0 1 664.1 109.2zM666.7 107.2A89.2 89.2 0 0 0 666.4 106.0L663.5 106.8A86.2 86.2 0 0 1 663.8 107.9zM665.6 103.3A89.2 89.2 0 0 0 665.3 102.2L662.4 103.1A86.2 86.2 0 0 1 662.8 104.2zM665.2 102.0A89.2 89.2 0 0 0 664.9 100.9L662.0 101.9A86.2 86.2 0 0 1 662.4 103.0zM663.4 97.0A89.2 89.2 0 0 0 663.0 95.9L660.2 97.0A86.2 86.2 0 0 1 660.6 98.1zM661.9 93.3A89.2 89.2 0 0 0 661.4 92.2L658.7 93.5A86.2 86.2 0 0 1 659.1 94.5zM660.8 90.9A89.2 89.2 0 0 0 660.2 89.8L657.6 91.2A86.2 86.2 0 0 1 658.1 92.2zM659.6 88.5A89.2 89.2 0 0 0 659.0 87.4L656.4 88.9A86.2 86.2 0 0 1 656.9 89.9zM658.9 87.3A89.2 89.2 0 0 0 658.4 86.3L655.8 87.7A86.2 86.2 0 0 1 656.3 88.8zM657.6 85.0A89.2 89.2 0 0 0 657.0 84.0L654.5 85.5A86.2 86.2 0 0 1 655.1 86.5zM657.0 83.8A89.2 89.2 0 0 0 656.4 82.8L653.8 84.4A86.2 86.2 0 0 1 654.4 85.4zM656.3 82.7A89.2 89.2 0 0 0 655.6 81.7L653.1 83.3A86.2 86.2 0 0 1 653.7 84.3zM655.6 81.6A89.2 89.2 0 0 0 654.9 80.6L652.4 82.2A86.2 86.2 0 0 1 653.0 83.2zM654.8 80.5A89.2 89.2 0 0 0 654.2 79.5L651.7 81.1A86.2 86.2 0 0 1 652.3 82.1zM653.3 78.3A89.2 89.2 0 0 0 652.6 77.3L650.2 79.0A86.2 86.2 0 0 1 650.9 80.0zM652.6 77.2A89.2 89.2 0 0 0 651.9 76.2L649.4 78.0A86.2 86.2 0 0 1 650.1 78.9zM651.0 75.0A89.2 89.2 0 0 0 650.2 74.1L647.9 76.0A86.2 86.2 0 0 1 648.6 76.9zM650.1 74.0A89.2 89.2 0 0 0 649.4 73.1L647.1 75.0A86.2 86.2 0 0 1 647.8 75.9zM648.4 71.9A89.2 89.2 0 0 0 647.7 71.0L645.4 73.0A86.2 86.2 0 0 1 646.2 73.9zM647.6 70.9A89.2 89.2 0 0 0 646.8 70.0L644.5 72.0A86.2 86.2 0 0 1 645.3 72.9zM646.7 69.9A89.2 89.2 0 0 0 645.9 69.0L643.7 71.1A86.2 86.2 0 0 1 644.5 71.9zM645.8 68.9A89.2 89.2 0 0 0 645.0 68.1L642.8 70.1A86.2 86.2 0 0 1 643.6 71.0zM643.9 67.0A89.2 89.2 0 0 0 643.1 66.1L641.0 68.3A86.2 86.2 0 0 1 641.8 69.1zM643.0 66.1A89.2 89.2 0 0 0 642.1 65.2L640.1 67.4A86.2 86.2 0 0 1 640.9 68.2zM641.1 64.2A89.2 89.2 0 0 0 640.2 63.4L638.2 65.6A86.2 86.2 0 0 1 639.0 66.4zM639.1 62.4A89.2 89.2 0 0 0 638.2 61.6L636.2 63.9A86.2 86.2 0 0 1 637.1 64.7zM637.1 60.7A89.2 89.2 0 0 0 636.1 59.9L634.2 62.3A86.2 86.2 0 0 1 635.1 63.0zM636.0 59.9A89.2 89.2 0 0 0 635.1 59.1L633.2 61.5A86.2 86.2 0 0 1 634.1 62.2zM635.0 59.0A89.2 89.2 0 0 0 634.0 58.3L632.2 60.7A86.2 86.2 0 0 1 633.1 61.4zM633.9 58.2A89.2 89.2 0 0 0 632.9 57.5L631.2 59.9A86.2 86.2 0 0 1 632.1 60.6zM632.8 57.4A89.2 89.2 0 0 0 631.9 56.7L630.1 59.2A86.2 86.2 0 0 1 631.1 59.9zM631.7 56.7A89.2 89.2 0 0 0 630.8 56.0L629.1 58.5A86.2 86.2 0 0 1 630.0 59.1zM630.6 55.9A89.2 89.2 0 0 0 629.7 55.2L628.0 57.7A86.2 86.2 0 0 1 629.0 58.4zM629.5 55.2A89.2 89.2 0 0 0 628.5 54.5L626.9 57.0A86.2 86.2 0 0 1 627.9 57.7zM626.2 53.0A89.2 89.2 0 0 0 625.1 52.4L623.6 55.0A86.2 86.2 0 0 1 624.6 55.6zM625.0 52.4A89.2 89.2 0 0 0 624.0 51.8L622.5 54.4A86.2 86.2 0 0 1 623.5 54.9zM623.8 51.7A89.2 89.2 0 0 0 622.8 51.1L621.4 53.8A86.2 86.2 0 0 1 622.4 54.3zM622.7 51.1A89.2 89.2 0 0 0 621.6 50.5L620.2 53.1A86.2 86.2 0 0 1 621.2 53.7zM621.5 50.4A89.2 89.2 0 0 0 620.4 49.9L619.1 52.6A86.2 86.2 0 0 1 620.1 53.1zM617.9 48.7A89.2 89.2 0 0 0 616.8 48.2L615.6 50.9A86.2 86.2 0 0 1 616.6 51.4zM616.7 48.1A89.2 89.2 0 0 0 615.6 47.6L614.4 50.4A86.2 86.2 0 0 1 615.5 50.9zM614.2 47.1A89.2 89.2 0 0 0 613.1 46.6L612.0 49.4A86.2 86.2 0 0 1 613.1 49.8zM613.0 46.6A89.2 89.2 0 0 0 611.9 46.1L610.8 48.9A86.2 86.2 0 0 1 611.9 49.4zM611.7 46.1A89.2 89.2 0 0 0 610.6 45.7L609.6 48.5A86.2 86.2 0 0 1 610.7 48.9zM610.5 45.6A89.2 89.2 0 0 0 609.4 45.2L608.4 48.1A86.2 86.2 0 0 1 609.5 48.5zM605.4 44.0A89.2 89.2 0 0 0 604.3 43.7L603.5 46.5A86.2 86.2 0 0 1 604.6 46.9zM602.8 43.3A89.2 89.2 0 0 0 601.7 43.0L601.0 45.9A86.2 86.2 0 0 1 602.1 46.2zM598.9 42.3A89.2 89.2 0 0 0 597.8 42.1L597.2 45.1A86.2 86.2 0 0 1 598.3 45.3zM597.6 42.1A89.2 89.2 0 0 0 596.5 41.9L595.9 44.8A86.2 86.2 0 0 1 597.1 45.0zM592.4 41.2A89.2 89.2 0 0 0 591.2 41.1L590.8 44.0A86.2 86.2 0 0 1 592.0 44.2zM591.0 41.0A89.2 89.2 0 0 0 589.9 40.9L589.5 43.9A86.2 86.2 0 0 1 590.7 44.0zM589.7 40.9A89.2 89.2 0 0 0 588.5 40.8L588.3 43.8A86.2 86.2 0 0 1 589.4 43.9zM588.4 40.8A89.2 89.2 0 0 0 587.2 40.7L587.0 43.7A86.2 86.2 0 0 1 588.1 43.7zM584.4 40.5A89.2 89.2 0 0 0 583.2 40.4L583.1 43.4A86.2 86.2 0 0 1 584.3 43.5zM583.1 40.4A89.2 89.2 0 0 0 581.9 40.4L581.8 43.4A86.2 86.2 0 0 1 583.0 43.4zM581.7 40.4A89.2 89.2 0 0 0 580.5 40.4L580.5 43.4A86.2 86.2 0 0 1 581.7 43.4zM579.1 40.4A89.2 89.2 0 0 0 577.9 40.4L578.0 43.4A86.2 86.2 0 0 1 579.1 43.4zM577.7 40.4A89.2 89.2 0 0 0 576.5 40.5L576.7 43.5A86.2 86.2 0 0 1 577.8 43.4zM576.4 40.5A89.2 89.2 0 0 0 575.2 40.6L575.4 43.5A86.2 86.2 0 0 1 576.5 43.5zM572.4 40.8A89.2 89.2 0 0 0 571.2 40.9L571.5 43.9A86.2 86.2 0 0 1 572.7 43.7zM571.1 40.9A89.2 89.2 0 0 0 569.9 41.0L570.2 44.0A86.2 86.2 0 0 1 571.4 43.9zM567.1 41.4A89.2 89.2 0 0 0 565.9 41.6L566.4 44.5A86.2 86.2 0 0 1 567.6 44.4zM565.8 41.6A89.2 89.2 0 0 0 564.6 41.8L565.1 44.8A86.2 86.2 0 0 1 566.3 44.6zM564.5 41.8A89.2 89.2 0 0 0 563.3 42.1L563.9 45.0A86.2 86.2 0 0 1 565.0 44.8zM561.9 42.3A89.2 89.2 0 0 0 560.7 42.6L561.3 45.5A86.2 86.2 0 0 1 562.5 45.3zM559.3 42.9A89.2 89.2 0 0 0 558.1 43.2L558.8 46.1A86.2 86.2 0 0 1 560.0 45.9zM555.4 44.0A89.2 89.2 0 0 0 554.2 44.3L555.1 47.2A86.2 86.2 0 0 1 556.2 46.9zM554.1 44.4A89.2 89.2 0 0 0 553.0 44.7L553.9 47.6A86.2 86.2 0 0 1 555.0 47.2zM552.8 44.8A89.2 89.2 0 0 0 551.7 45.1L552.7 48.0A86.2 86.2 0 0 1 553.8 47.6zM550.3 45.6A89.2 89.2 0 0 0 549.2 46.0L550.2 48.9A86.2 86.2 0 0 1 551.3 48.5zM544.1 48.1A89.2 89.2 0 0 0 543.0 48.6L544.3 51.3A86.2 86.2 0 0 1 545.3 50.9zM542.9 48.7A89.2 89.2 0 0 0 541.8 49.2L543.1 51.9A86.2 86.2 0 0 1 544.2 51.4zM540.5 49.8A89.2 89.2 0 0 0 539.4 50.4L540.8 53.0A86.2 86.2 0 0 1 541.8 52.5zM537.0 51.7A89.2 89.2 0 0 0 535.9 52.3L537.4 54.9A86.2 86.2 0 0 1 538.4 54.3zM533.5 53.7A89.2 89.2 0 0 0 532.5 54.4L534.1 56.9A86.2 86.2 0 0 1 535.1 56.3zM531.3 55.2A89.2 89.2 0 0 0 530.3 55.8L531.9 58.3A86.2 86.2 0 0 1 532.9 57.7zM524.8 59.9A89.2 89.2 0 0 0 523.9 60.6L525.8 62.9A86.2 86.2 0 0 1 526.7 62.2zM522.7 61.6A89.2 89.2 0 0 0 521.8 62.3L523.8 64.6A86.2 86.2 0 0 1 524.7 63.8zM521.7 62.4A89.2 89.2 0 0 0 520.8 63.2L522.8 65.5A86.2 86.2 0 0 1 523.7 64.7zM519.7 64.2A89.2 89.2 0 0 0 518.9 65.0L520.9 67.2A86.2 86.2 0 0 1 521.8 66.4zM518.8 65.1A89.2 89.2 0 0 0 517.9 66.0L520.0 68.1A86.2 86.2 0 0 1 520.8 67.3zM517.8 66.1A89.2 89.2 0 0 0 516.9 66.9L519.1 69.0A86.2 86.2 0 0 1 519.9 68.2zM515.0 68.9A89.2 89.2 0 0 0 514.2 69.8L516.4 71.8A86.2 86.2 0 0 1 517.2 71.0zM514.1 69.9A89.2 89.2 0 0 0 513.3 70.8L515.6 72.8A86.2 86.2 0 0 1 516.3 71.9zM513.2 70.9A89.2 89.2 0 0 0 512.4 71.8L514.7 73.8A86.2 86.2 0 0 1 515.5 72.9zM509.8 75.0A89.2 89.2 0 0 0 509.1 76.0L511.5 77.8A86.2 86.2 0 0 1 512.2 76.9zM509.0 76.1A89.2 89.2 0 0 0 508.3 77.1L510.7 78.8A86.2 86.2 0 0 1 511.4 77.9zM506.7 79.4A89.2 89.2 0 0 0 506.0 80.3L508.5 82.0A86.2 86.2 0 0 1 509.2 81.0zM505.2 81.6A89.2 89.2 0 0 0 504.6 82.6L507.1 84.2A86.2 86.2 0 0 1 507.8 83.2zM503.8 83.8A89.2 89.2 0 0 0 503.2 84.9L505.8 86.4A86.2 86.2 0 0 1 506.4 85.4zM503.2 85.0A89.2 89.2 0 0 0 502.6 86.0L505.2 87.5A86.2 86.2 0 0 1 505.7 86.5zM501.2 88.5A89.2 89.2 0 0 0 500.7 89.6L503.4 90.9A86.2 86.2 0 0 1 503.9 89.9zM500.6 89.7A89.2 89.2 0 0 0 500.1 90.8L502.8 92.1A86.2 86.2 0 0 1 503.3 91.0zM499.5 92.1A89.2 89.2 0 0 0 499.0 93.2L501.7 94.4A86.2 86.2 0 0 1 502.2 93.4zM498.4 94.5A89.2 89.2 0 0 0 497.9 95.6L500.7 96.8A86.2 86.2 0 0 1 501.1 95.7zM497.9 95.8A89.2 89.2 0 0 0 497.4 96.9L500.2 98.0A86.2 86.2 0 0 1 500.6 96.9zM496.9 98.3A89.2 89.2 0 0 0 496.5 99.4L499.3 100.4A86.2 86.2 0 0 1 499.7 99.3zM496.4 99.5A89.2 89.2 0 0 0 496.0 100.6L498.9 101.6A86.2 86.2 0 0 1 499.3 100.5zM495.2 103.3A89.2 89.2 0 0 0 494.8 104.5L497.7 105.3A86.2 86.2 0 0 1 498.0 104.2zM494.4 105.9A89.2 89.2 0 0 0 494.1 107.0L497.0 107.8A86.2 86.2 0 0 1 497.3 106.7zM494.1 107.2A89.2 89.2 0 0 0 493.8 108.3L496.7 109.0A86.2 86.2 0 0 1 497.0 107.9zM493.7 108.5A89.2 89.2 0 0 0 493.5 109.6L496.4 110.3A86.2 86.2 0 0 1 496.7 109.2zM493.4 109.8A89.2 89.2 0 0 0 493.2 110.9L496.1 111.6A86.2 86.2 0 0 1 496.4 110.4zM493.1 111.1A89.2 89.2 0 0 0 492.9 112.2L495.9 112.8A86.2 86.2 0 0 1 496.1 111.7zM492.9 112.4A89.2 89.2 0 0 0 492.7 113.5L495.6 114.1A86.2 86.2 0 0 1 495.8 112.9zM492.6 113.7A89.2 89.2 0 0 0 492.4 114.9L495.4 115.4A86.2 86.2 0 0 1 495.6 114.2zM492.4 115.0A89.2 89.2 0 0 0 492.2 116.2L495.2 116.6A86.2 86.2 0 0 1 495.4 115.5zM491.4 122.9A89.2 89.2 0 0 0 491.4 124.1L494.4 124.3A86.2 86.2 0 0 1 494.4 123.2zM491.4 124.3A89.2 89.2 0 0 0 491.3 125.5L494.3 125.6A86.2 86.2 0 0 1 494.4 124.4zM491.2 126.9A89.2 89.2 0 0 0 491.2 128.1L494.2 128.2A86.2 86.2 0 0 1 494.2 127.0zM491.2 128.3A89.2 89.2 0 0 0 491.2 129.5L494.2 129.5A86.2 86.2 0 0 1 494.2 128.3zM491.2 132.3A89.2 89.2 0 0 0 491.3 133.5L494.3 133.3A86.2 86.2 0 0 1 494.2 132.2zM491.3 133.6A89.2 89.2 0 0 0 491.4 134.8L494.3 134.6A86.2 86.2 0 0 1 494.3 133.5zM491.6 137.6A89.2 89.2 0 0 0 491.7 138.8L494.7 138.5A86.2 86.2 0 0 1 494.5 137.3zM491.7 138.9A89.2 89.2 0 0 0 491.8 140.1L494.8 139.8A86.2 86.2 0 0 1 494.7 138.6zM491.8 140.2A89.2 89.2 0 0 0 492.0 141.4L495.0 141.0A86.2 86.2 0 0 1 494.8 139.9zM492.0 141.6A89.2 89.2 0 0 0 492.2 142.8L495.1 142.3A86.2 86.2 0 0 1 495.0 141.2zM492.2 142.9A89.2 89.2 0 0 0 492.4 144.1L495.3 143.6A86.2 86.2 0 0 1 495.2 142.4zM492.4 144.2A89.2 89.2 0 0 0 492.6 145.4L495.6 144.9A86.2 86.2 0 0 1 495.4 143.7zM492.6 145.5A89.2 89.2 0 0 0 492.9 146.7L495.8 146.1A86.2 86.2 0 0 1 495.6 145.0zM493.4 149.4A89.2 89.2 0 0 0 493.7 150.6L496.6 149.9A86.2 86.2 0 0 1 496.4 148.8zM493.7 150.7A89.2 89.2 0 0 0 494.0 151.9L496.9 151.2A86.2 86.2 0 0 1 496.7 150.0zM494.1 152.0A89.2 89.2 0 0 0 494.4 153.2L497.3 152.4A86.2 86.2 0 0 1 497.0 151.3zM494.4 153.3A89.2 89.2 0 0 0 494.7 154.5L497.6 153.6A86.2 86.2 0 0 1 497.3 152.5zM495.6 157.2A89.2 89.2 0 0 0 495.9 158.3L498.8 157.3A86.2 86.2 0 0 1 498.4 156.2zM496.4 159.7A89.2 89.2 0 0 0 496.8 160.8L499.7 159.8A86.2 86.2 0 0 1 499.3 158.7zM496.9 160.9A89.2 89.2 0 0 0 497.3 162.1L500.1 161.0A86.2 86.2 0 0 1 499.7 159.9zM498.9 165.9A89.2 89.2 0 0 0 499.4 167.0L502.1 165.7A86.2 86.2 0 0 1 501.7 164.7zM500.0 168.3A89.2 89.2 0 0 0 500.6 169.4L503.2 168.0A86.2 86.2 0 0 1 502.7 167.0zM504.5 176.5A89.2 89.2 0 0 0 505.2 177.5L507.7 175.9A86.2 86.2 0 0 1 507.1 174.9zM505.2 177.6A89.2 89.2 0 0 0 505.9 178.6L508.4 177.0A86.2 86.2 0 0 1 507.8 176.0zM506.7 179.8A89.2 89.2 0 0 0 507.4 180.8L509.8 179.1A86.2 86.2 0 0 1 509.2 178.2zM509.0 183.1A89.2 89.2 0 0 0 509.8 184.1L512.1 182.2A86.2 86.2 0 0 1 511.4 181.3zM513.2 188.3A89.2 89.2 0 0 0 514.0 189.2L516.3 187.2A86.2 86.2 0 0 1 515.5 186.3zM514.1 189.3A89.2 89.2 0 0 0 514.9 190.2L517.1 188.1A86.2 86.2 0 0 1 516.3 187.3zM515.0 190.3A89.2 89.2 0 0 0 515.8 191.1L518.0 189.1A86.2 86.2 0 0 1 517.2 188.2zM515.9 191.2A89.2 89.2 0 0 0 516.8 192.1L518.9 190.0A86.2 86.2 0 0 1 518.1 189.2zM516.9 192.2A89.2 89.2 0 0 0 517.7 193.1L519.8 190.9A86.2 86.2 0 0 1 519.0 190.1zM520.7 195.9A89.2 89.2 0 0 0 521.6 196.7L523.6 194.4A86.2 86.2 0 0 1 522.7 193.7zM521.7 196.8A89.2 89.2 0 0 0 522.6 197.6L524.6 195.3A86.2 86.2 0 0 1 523.7 194.5zM522.7 197.6A89.2 89.2 0 0 0 523.6 198.4L525.6 196.1A86.2 86.2 0 0 1 524.7 195.4zM523.7 198.5A89.2 89.2 0 0 0 524.7 199.3L526.6 196.9A86.2 86.2 0 0 1 525.7 196.2zM526.9 201.0A89.2 89.2 0 0 0 527.9 201.7L529.6 199.3A86.2 86.2 0 0 1 528.7 198.6zM528.0 201.8A89.2 89.2 0 0 0 528.9 202.5L530.7 200.0A86.2 86.2 0 0 1 529.7 199.3zM530.2 203.3A89.2 89.2 0 0 0 531.1 204.0L532.8 201.5A86.2 86.2 0 0 1 531.8 200.8zM531.3 204.0A89.2 89.2 0 0 0 532.3 204.7L533.9 202.2A86.2 86.2 0 0 1 532.9 201.5zM532.4 204.8A89.2 89.2 0 0 0 533.4 205.4L535.0 202.9A86.2 86.2 0 0 1 534.0 202.2zM533.5 205.5A89.2 89.2 0 0 0 534.5 206.1L536.1 203.5A86.2 86.2 0 0 1 535.1 202.9zM534.6 206.2A89.2 89.2 0 0 0 535.7 206.8L537.2 204.2A86.2 86.2 0 0 1 536.2 203.6zM538.1 208.1A89.2 89.2 0 0 0 539.2 208.7L540.6 206.1A86.2 86.2 0 0 1 539.6 205.5zM539.3 208.8A89.2 89.2 0 0 0 540.4 209.3L541.7 206.6A86.2 86.2 0 0 1 540.7 206.1zM541.7 210.0A89.2 89.2 0 0 0 542.8 210.5L544.0 207.8A86.2 86.2 0 0 1 543.0 207.3zM547.8 212.6A89.2 89.2 0 0 0 548.9 213.1L550.0 210.3A86.2 86.2 0 0 1 548.9 209.8zM549.1 213.1A89.2 89.2 0 0 0 550.2 213.5L551.2 210.7A86.2 86.2 0 0 1 550.1 210.3zM550.3 213.6A89.2 89.2 0 0 0 551.4 214.0L552.4 211.1A86.2 86.2 0 0 1 551.3 210.7zM551.6 214.0A89.2 89.2 0 0 0 552.7 214.4L553.6 211.5A86.2 86.2 0 0 1 552.5 211.2zM552.8 214.4A89.2 89.2 0 0 0 554.0 214.8L554.9 211.9A86.2 86.2 0 0 1 553.8 211.6zM558.0 215.9A89.2 89.2 0 0 0 559.1 216.2L559.8 213.3A86.2 86.2 0 0 1 558.7 213.0zM560.6 216.6A89.2 89.2 0 0 0 561.7 216.8L562.4 213.9A86.2 86.2 0 0 1 561.2 213.6zM563.2 217.1A89.2 89.2 0 0 0 564.3 217.3L564.9 214.4A86.2 86.2 0 0 1 563.7 214.2zM565.8 217.6A89.2 89.2 0 0 0 567.0 217.8L567.4 214.8A86.2 86.2 0 0 1 566.3 214.6zM568.4 218.0A89.2 89.2 0 0 0 569.6 218.1L570.0 215.2A86.2 86.2 0 0 1 568.8 215.0zM569.8 218.2A89.2 89.2 0 0 0 570.9 218.3L571.3 215.3A86.2 86.2 0 0 1 570.1 215.2zM572.4 218.4A89.2 89.2 0 0 0 573.6 218.5L573.8 215.5A86.2 86.2 0 0 1 572.7 215.5zM573.7 218.6A89.2 89.2 0 0 0 574.9 218.6L575.1 215.6A86.2 86.2 0 0 1 574.0 215.6zM575.1 218.6A89.2 89.2 0 0 0 576.3 218.7L576.4 215.7A86.2 86.2 0 0 1 575.2 215.6zM576.4 218.7A89.2 89.2 0 0 0 577.6 218.8L577.7 215.8A86.2 86.2 0 0 1 576.5 215.7zM577.7 218.8A89.2 89.2 0 0 0 578.9 218.8L579.0 215.8A86.2 86.2 0 0 1 577.8 215.8zM580.4 218.8A89.2 89.2 0 0 0 581.6 218.8L581.6 215.8A86.2 86.2 0 0 1 580.4 215.8zM584.4 218.7A89.2 89.2 0 0 0 585.6 218.6L585.4 215.7A86.2 86.2 0 0 1 584.3 215.7zM588.4 218.4A89.2 89.2 0 0 0 589.6 218.3L589.3 215.3A86.2 86.2 0 0 1 588.1 215.5zM591.0 218.2A89.2 89.2 0 0 0 592.2 218.0L591.8 215.0A86.2 86.2 0 0 1 590.7 215.2zM592.4 218.0A89.2 89.2 0 0 0 593.6 217.8L593.1 214.9A86.2 86.2 0 0 1 592.0 215.0zM593.7 217.8A89.2 89.2 0 0 0 594.9 217.6L594.4 214.7A86.2 86.2 0 0 1 593.2 214.8zM595.0 217.6A89.2 89.2 0 0 0 596.2 217.4L595.7 214.4A86.2 86.2 0 0 1 594.5 214.6zM598.9 216.9A89.2 89.2 0 0 0 600.1 216.6L599.5 213.7A86.2 86.2 0 0 1 598.3 213.9zM600.2 216.6A89.2 89.2 0 0 0 601.4 216.3L600.7 213.4A86.2 86.2 0 0 1 599.6 213.6zM602.8 215.9A89.2 89.2 0 0 0 604.0 215.6L603.2 212.7A86.2 86.2 0 0 1 602.1 213.0zM604.1 215.6A89.2 89.2 0 0 0 605.3 215.3L604.4 212.4A86.2 86.2 0 0 1 603.3 212.7zM605.4 215.2A89.2 89.2 0 0 0 606.6 214.9L605.7 212.0A86.2 86.2 0 0 1 604.6 212.3zM611.7 213.1A89.2 89.2 0 0 0 612.9 212.7L611.8 209.9A86.2 86.2 0 0 1 610.7 210.3zM614.2 212.1A89.2 89.2 0 0 0 615.3 211.7L614.2 208.9A86.2 86.2 0 0 1 613.1 209.4zM615.5 211.6A89.2 89.2 0 0 0 616.6 211.1L615.3 208.4A86.2 86.2 0 0 1 614.3 208.9zM616.7 211.1A89.2 89.2 0 0 0 617.8 210.6L616.5 207.9A86.2 86.2 0 0 1 615.5 208.3zM617.9 210.5A89.2 89.2 0 0 0 619.0 210.0L617.7 207.3A86.2 86.2 0 0 1 616.6 207.8zM621.5 208.8A89.2 89.2 0 0 0 622.6 208.2L621.1 205.6A86.2 86.2 0 0 1 620.1 206.1zM623.8 207.5A89.2 89.2 0 0 0 624.9 206.9L623.4 204.3A86.2 86.2 0 0 1 622.4 204.9zM625.0 206.8A89.2 89.2 0 0 0 626.0 206.2L624.5 203.7A86.2 86.2 0 0 1 623.5 204.3zM628.4 204.8A89.2 89.2 0 0 0 629.4 204.1L627.8 201.6A86.2 86.2 0 0 1 626.8 202.2zM629.5 204.0A89.2 89.2 0 0 0 630.5 203.4L628.9 200.9A86.2 86.2 0 0 1 627.9 201.5zM631.7 202.5A89.2 89.2 0 0 0 632.7 201.8L631.0 199.4A86.2 86.2 0 0 1 630.0 200.1zM632.8 201.8A89.2 89.2 0 0 0 633.8 201.1L632.0 198.6A86.2 86.2 0 0 1 631.1 199.3zM635.0 200.2A89.2 89.2 0 0 0 635.9 199.4L634.0 197.1A86.2 86.2 0 0 1 633.1 197.8zM636.0 199.3A89.2 89.2 0 0 0 636.9 198.6L635.0 196.3A86.2 86.2 0 0 1 634.1 197.0zM637.1 198.5A89.2 89.2 0 0 0 638.0 197.7L636.0 195.4A86.2 86.2 0 0 1 635.1 196.2zM639.1 196.8A89.2 89.2 0 0 0 640.0 196.0L638.0 193.7A86.2 86.2 0 0 1 637.1 194.5zM645.8 190.3A89.2 89.2 0 0 0 646.6 189.4L644.4 187.4A86.2 86.2 0 0 1 643.6 188.2zM647.6 188.3A89.2 89.2 0 0 0 648.4 187.4L646.1 185.4A86.2 86.2 0 0 1 645.3 186.3zM649.3 186.3A89.2 89.2 0 0 0 650.1 185.3L647.7 183.4A86.2 86.2 0 0 1 647.0 184.3zM650.1 185.2A89.2 89.2 0 0 0 650.9 184.3L648.5 182.4A86.2 86.2 0 0 1 647.8 183.3zM651.0 184.2A89.2 89.2 0 0 0 651.7 183.2L649.3 181.4A86.2 86.2 0 0 1 648.6 182.3zM651.8 183.1A89.2 89.2 0 0 0 652.5 182.1L650.1 180.4A86.2 86.2 0 0 1 649.4 181.3zM652.6 182.0A89.2 89.2 0 0 0 653.3 181.1L650.8 179.3A86.2 86.2 0 0 1 650.1 180.3zM654.1 179.8A89.2 89.2 0 0 0 654.8 178.9L652.3 177.2A86.2 86.2 0 0 1 651.6 178.2zM654.8 178.7A89.2 89.2 0 0 0 655.5 177.7L653.0 176.1A86.2 86.2 0 0 1 652.3 177.1zM655.6 177.6A89.2 89.2 0 0 0 656.2 176.6L653.7 175.0A86.2 86.2 0 0 1 653.0 176.0zM656.3 176.5A89.2 89.2 0 0 0 656.9 175.5L654.3 173.9A86.2 86.2 0 0 1 653.7 174.9zM657.0 175.4A89.2 89.2 0 0 0 657.6 174.3L655.0 172.8A86.2 86.2 0 0 1 654.4 173.8zM657.6 174.2A89.2 89.2 0 0 0 658.2 173.2L655.6 171.7A86.2 86.2 0 0 1 655.1 172.7zM658.3 173.0A89.2 89.2 0 0 0 658.9 172.0L656.2 170.6A86.2 86.2 0 0 1 655.7 171.6zM658.9 171.9A89.2 89.2 0 0 0 659.5 170.8L656.9 169.4A86.2 86.2 0 0 1 656.3 170.4zM659.6 170.7A89.2 89.2 0 0 0 660.1 169.6L657.4 168.3A86.2 86.2 0 0 1 656.9 169.3zM660.8 168.3A89.2 89.2 0 0 0 661.3 167.2L658.6 166.0A86.2 86.2 0 0 1 658.1 167.0zM661.9 165.9A89.2 89.2 0 0 0 662.4 164.8L659.6 163.6A86.2 86.2 0 0 1 659.1 164.7zM662.4 164.7A89.2 89.2 0 0 0 662.9 163.6L660.1 162.4A86.2 86.2 0 0 1 659.7 163.5zM662.9 163.4A89.2 89.2 0 0 0 663.4 162.3L660.6 161.2A86.2 86.2 0 0 1 660.2 162.3zM663.9 160.9A89.2 89.2 0 0 0 664.3 159.8L661.5 158.8A86.2 86.2 0 0 1 661.1 159.9zM664.4 159.7A89.2 89.2 0 0 0 664.8 158.6L661.9 157.6A86.2 86.2 0 0 1 661.5 158.7zM665.2 157.2A89.2 89.2 0 0 0 665.6 156.0L662.7 155.1A86.2 86.2 0 0 1 662.4 156.2zM665.6 155.9A89.2 89.2 0 0 0 666.0 154.7L663.1 153.9A86.2 86.2 0 0 1 662.8 155.0zM666.4 153.3A89.2 89.2 0 0 0 666.7 152.2L663.8 151.4A86.2 86.2 0 0 1 663.5 152.5zM666.7 152.0A89.2 89.2 0 0 0 667.0 150.9L664.1 150.2A86.2 86.2 0 0 1 663.8 151.3zM667.7 148.1A89.2 89.2 0 0 0 667.9 147.0L664.9 146.4A86.2 86.2 0 0 1 664.7 147.5zM667.9 146.8A89.2 89.2 0 0 0 668.1 145.7L665.2 145.1A86.2 86.2 0 0 1 665.0 146.3zM668.2 145.5A89.2 89.2 0 0 0 668.4 144.3L665.4 143.8A86.2 86.2 0 0 1 665.2 145.0zM668.6 142.9A89.2 89.2 0 0 0 668.8 141.7L665.8 141.3A86.2 86.2 0 0 1 665.6 142.4zM669.0 140.2A89.2 89.2 0 0 0 669.1 139.1L666.1 138.7A86.2 86.2 0 0 1 666.0 139.9zM669.6 132.3A89.2 89.2 0 0 0 669.6 131.1L666.6 131.0A86.2 86.2 0 0 1 666.6 132.2zM669.6 130.9A89.2 89.2 0 0 0 669.6 129.7L666.6 129.7A86.2 86.2 0 0 1 666.6 130.9z" fill="#4d64b2"/>
<path d="M669.6 128.3A89.2 89.2 0 0 0 669.6 127.1L666.6 127.2A86.2 86.2 0 0 1 666.6 128.3zM669.0 119.0A89.2 89.2 0 0 0 668.8 117.8L665.8 118.2A86.2 86.2 0 0 1 666.0 119.3zM666.4 105.9A89.2 89.2 0 0 0 666.1 104.7L663.2 105.6A86.2 86.2 0 0 1 663.5 106.7zM663.9 98.3A89.2 89.2 0 0 0 663.5 97.1L660.7 98.2A86.2 86.2 0 0 1 661.1 99.3zM662.4 94.5A89.2 89.2 0 0 0 661.9 93.4L659.2 94.7A86.2 86.2 0 0 1 659.7 95.7zM660.2 89.7A89.2 89.2 0 0 0 659.6 88.6L657.0 90.0A86.2 86.2 0 0 1 657.5 91.0zM654.1 79.4A89.2 89.2 0 0 0 653.4 78.4L651.0 80.1A86.2 86.2 0 0 1 651.6 81.0zM644.9 68.0A89.2 89.2 0 0 0 644.0 67.1L641.9 69.2A86.2 86.2 0 0 1 642.7 70.0zM620.3 49.8A89.2 89.2 0 0 0 619.2 49.3L617.9 52.0A86.2 86.2 0 0 1 619.0 52.5zM596.3 41.8A89.2 89.2 0 0 0 595.1 41.6L594.6 44.6A86.2 86.2 0 0 1 595.8 44.8zM560.6 42.6A89.2 89.2 0 0 0 559.4 42.9L560.1 45.8A86.2 86.2 0 0 1 561.2 45.6zM534.6 53.0A89.2 89.2 0 0 0 533.6 53.6L535.2 56.2A86.2 86.2 0 0 1 536.2 55.6zM529.1 56.7A89.2 89.2 0 0 0 528.1 57.4L529.8 59.8A86.2 86.2 0 0 1 530.8 59.1zM523.7 60.7A89.2 89.2 0 0 0 522.8 61.5L524.8 63.8A86.2 86.2 0 0 1 525.7 63.0zM511.5 72.9A89.2 89.2 0 0 0 510.7 73.9L513.1 75.8A86.2 86.2 0 0 1 513.8 74.9zM510.7 74.0A89.2 89.2 0 0 0 509.9 74.9L512.3 76.8A86.2 86.2 0 0 1 513.0 75.9zM504.5 82.7A89.2 89.2 0 0 0 503.9 83.7L506.5 85.3A86.2 86.2 0 0 1 507.1 84.3zM501.9 87.3A89.2 89.2 0 0 0 501.3 88.4L503.9 89.8A86.2 86.2 0 0 1 504.5 88.8zM498.9 93.3A89.2 89.2 0 0 0 498.4 94.4L501.2 95.6A86.2 86.2 0 0 1 501.7 94.5zM496.0 100.8A89.2 89.2 0 0 0 495.6 101.9L498.5 102.8A86.2 86.2 0 0 1 498.8 101.7zM491.4 136.3A89.2 89.2 0 0 0 491.5 137.5L494.5 137.2A86.2 86.2 0 0 1 494.4 136.0zM493.1 148.1A89.2 89.2 0 0 0 493.4 149.3L496.3 148.7A86.2 86.2 0 0 1 496.1 147.5zM499.5 167.1A89.2 89.2 0 0 0 500.0 168.2L502.7 166.9A86.2 86.2 0 0 1 502.2 165.8zM509.8 184.2A89.2 89.2 0 0 0 510.6 185.1L512.9 183.2A86.2 86.2 0 0 1 512.2 182.3zM511.5 186.3A89.2 89.2 0 0 0 512.3 187.2L514.6 185.2A86.2 86.2 0 0 1 513.8 184.3zM517.8 193.1A89.2 89.2 0 0 0 518.7 194.0L520.7 191.8A86.2 86.2 0 0 1 519.9 191.0zM518.8 194.1A89.2 89.2 0 0 0 519.6 194.9L521.7 192.7A86.2 86.2 0 0 1 520.8 191.9zM525.8 200.2A89.2 89.2 0 0 0 526.8 200.9L528.6 198.5A86.2 86.2 0 0 1 527.7 197.8zM537.0 207.5A89.2 89.2 0 0 0 538.0 208.1L539.4 205.4A86.2 86.2 0 0 1 538.4 204.9zM540.5 209.4A89.2 89.2 0 0 0 541.6 209.9L542.9 207.2A86.2 86.2 0 0 1 541.8 206.7zM544.1 211.1A89.2 89.2 0 0 0 545.2 211.6L546.4 208.8A86.2 86.2 0 0 1 545.3 208.3zM555.4 215.2A89.2 89.2 0 0 0 556.5 215.5L557.3 212.7A86.2 86.2 0 0 1 556.2 212.3zM613.0 212.6A89.2 89.2 0 0 0 614.1 212.2L613.0 209.4A86.2 86.2 0 0 1 611.9 209.8zM626.2 206.2A89.2 89.2 0 0 0 627.2 205.6L625.6 203.0A86.2 86.2 0 0 1 624.6 203.6zM638.1 197.6A89.2 89.2 0 0 0 639.0 196.9L637.0 194.6A86.2 86.2 0 0 1 636.1 195.4zM644.9 191.2A89.2 89.2 0 0 0 645.7 190.4L643.5 188.3A86.2 86.2 0 0 1 642.7 189.2zM669.1 138.9A89.2 89.2 0 0 0 669.2 137.7L666.2 137.5A86.2 86.2 0 0 1 666.1 138.6z" fill="#e3e7f4"/>
<path d="M669.4 124.3A89.2 89.2 0 0 0 669.4 123.1L666.4 123.3A86.2 86.2 0 0 1 666.4 124.4zM669.1 120.3A89.2 89.2 0 0 0 669.0 119.1L666.0 119.4A86.2 86.2 0 0 1 666.1 120.6zM668.8 117.6A89.2 89.2 0 0 0 668.6 116.4L665.7 116.9A86.2 86.2 0 0 1 665.8 118.0zM666.0 104.6A89.2 89.2 0 0 0 665.7 103.4L662.8 104.3A86.2 86.2 0 0 1 663.1 105.4zM664.8 100.8A89.2 89.2 0 0 0 664.4 99.6L661.6 100.6A86.2 86.2 0 0 1 662.0 101.7zM664.4 99.5A89.2 89.2 0 0 0 664.0 98.4L661.1 99.4A86.2 86.2 0 0 1 661.5 100.5zM662.9 95.8A89.2 89.2 0 0 0 662.5 94.7L659.7 95.8A86.2 86.2 0 0 1 660.2 96.9zM661.3 92.1A89.2 89.2 0 0 0 660.8 91.0L658.1 92.3A86.2 86.2 0 0 1 658.6 93.4zM658.3 86.2A89.2 89.2 0 0 0 657.7 85.1L655.1 86.6A86.2 86.2 0 0 1 655.7 87.6zM651.8 76.1A89.2 89.2 0 0 0 651.0 75.1L648.7 77.0A86.2 86.2 0 0 1 649.4 77.9zM649.3 72.9A89.2 89.2 0 0 0 648.5 72.0L646.2 74.0A86.2 86.2 0 0 1 647.0 74.9zM642.0 65.1A89.2 89.2 0 0 0 641.2 64.3L639.1 66.5A86.2 86.2 0 0 1 640.0 67.3zM640.1 63.3A89.2 89.2 0 0 0 639.2 62.5L637.2 64.8A86.2 86.2 0 0 1 638.1 65.5zM638.1 61.6A89.2 89.2 0 0 0 637.2 60.8L635.2 63.1A86.2 86.2 0 0 1 636.1 63.8zM628.4 54.4A89.2 89.2 0 0 0 627.4 53.8L625.8 56.3A86.2 86.2 0 0 1 626.8 57.0zM627.3 53.7A89.2 89.2 0 0 0 626.3 53.1L624.7 55.7A86.2 86.2 0 0 1 625.7 56.3zM619.1 49.2A89.2 89.2 0 0 0 618.0 48.7L616.8 51.4A86.2 86.2 0 0 1 617.8 51.9zM615.5 47.6A89.2 89.2 0 0 0 614.4 47.1L613.2 49.9A86.2 86.2 0 0 1 614.3 50.3zM609.2 45.2A89.2 89.2 0 0 0 608.1 44.8L607.2 47.7A86.2 86.2 0 0 1 608.3 48.0zM608.0 44.8A89.2 89.2 0 0 0 606.8 44.4L605.9 47.3A86.2 86.2 0 0 1 607.0 47.6zM606.7 44.4A89.2 89.2 0 0 0 605.5 44.0L604.7 46.9A86.2 86.2 0 0 1 605.8 47.2zM604.1 43.6A89.2 89.2 0 0 0 603.0 43.3L602.2 46.2A86.2 86.2 0 0 1 603.3 46.5zM601.5 42.9A89.2 89.2 0 0 0 600.4 42.7L599.7 45.6A86.2 86.2 0 0 1 600.8 45.9zM600.2 42.6A89.2 89.2 0 0 0 599.1 42.4L598.4 45.3A86.2 86.2 0 0 1 599.6 45.6zM595.0 41.6A89.2 89.2 0 0 0 593.8 41.4L593.4 44.4A86.2 86.2 0 0 1 594.5 44.6zM593.7 41.4A89.2 89.2 0 0 0 592.5 41.2L592.1 44.2A86.2 86.2 0 0 1 593.2 44.4zM587.1 40.6A89.2 89.2 0 0 0 585.9 40.6L585.7 43.6A86.2 86.2 0 0 1 586.8 43.6zM585.7 40.6A89.2 89.2 0 0 0 584.5 40.5L584.4 43.5A86.2 86.2 0 0 1 585.6 43.6zM580.4 40.4A89.2 89.2 0 0 0 579.2 40.4L579.2 43.4A86.2 86.2 0 0 1 580.4 43.4zM575.1 40.6A89.2 89.2 0 0 0 573.9 40.6L574.1 43.6A86.2 86.2 0 0 1 575.2 43.6zM573.7 40.6A89.2 89.2 0 0 0 572.5 40.7L572.8 43.7A86.2 86.2 0 0 1 574.0 43.6zM569.8 41.0A89.2 89.2 0 0 0 568.6 41.2L569.0 44.2A86.2 86.2 0 0 1 570.1 44.0zM568.4 41.2A89.2 89.2 0 0 0 567.2 41.4L567.7 44.3A86.2 86.2 0 0 1 568.8 44.2zM563.2 42.1A89.2 89.2 0 0 0 562.0 42.3L562.6 45.3A86.2 86.2 0 0 1 563.7 45.0zM558.0 43.3A89.2 89.2 0 0 0 556.8 43.6L557.6 46.5A86.2 86.2 0 0 1 558.7 46.2zM556.7 43.6A89.2 89.2 0 0 0 555.5 43.9L556.4 46.8A86.2 86.2 0 0 1 557.5 46.5zM551.6 45.2A89.2 89.2 0 0 0 550.4 45.6L551.4 48.4A86.2 86.2 0 0 1 552.5 48.0zM549.1 46.1A89.2 89.2 0 0 0 547.9 46.5L549.0 49.3A86.2 86.2 0 0 1 550.1 48.9zM547.8 46.6A89.2 89.2 0 0 0 546.7 47.0L547.8 49.8A86.2 86.2 0 0 1 548.9 49.4zM546.6 47.1A89.2 89.2 0 0 0 545.5 47.5L546.6 50.3A86.2 86.2 0 0 1 547.7 49.8zM545.3 47.6A89.2 89.2 0 0 0 544.2 48.1L545.5 50.8A86.2 86.2 0 0 1 546.5 50.3zM541.7 49.2A89.2 89.2 0 0 0 540.6 49.8L542.0 52.4A86.2 86.2 0 0 1 543.0 51.9zM539.3 50.4A89.2 89.2 0 0 0 538.2 51.0L539.7 53.6A86.2 86.2 0 0 1 540.7 53.1zM538.1 51.1A89.2 89.2 0 0 0 537.1 51.6L538.5 54.2A86.2 86.2 0 0 1 539.6 53.7zM535.8 52.4A89.2 89.2 0 0 0 534.8 53.0L536.3 55.5A86.2 86.2 0 0 1 537.3 54.9zM532.4 54.4A89.2 89.2 0 0 0 531.4 55.1L533.0 57.6A86.2 86.2 0 0 1 534.0 57.0zM530.2 55.9A89.2 89.2 0 0 0 529.2 56.6L530.9 59.0A86.2 86.2 0 0 1 531.8 58.4zM528.0 57.4A89.2 89.2 0 0 0 527.0 58.1L528.8 60.6A86.2 86.2 0 0 1 529.7 59.9zM526.9 58.2A89.2 89.2 0 0 0 525.9 59.0L527.8 61.3A86.2 86.2 0 0 1 528.7 60.6zM525.8 59.0A89.2 89.2 0 0 0 524.9 59.8L526.8 62.1A86.2 86.2 0 0 1 527.7 61.4zM520.7 63.3A89.2 89.2 0 0 0 519.8 64.1L521.9 66.3A86.2 86.2 0 0 1 522.7 65.5zM516.9 67.0A89.2 89.2 0 0 0 516.0 67.9L518.2 69.9A86.2 86.2 0 0 1 519.0 69.1zM515.9 68.0A89.2 89.2 0 0 0 515.1 68.8L517.3 70.9A86.2 86.2 0 0 1 518.1 70.0zM512.4 71.9A89.2 89.2 0 0 0 511.6 72.8L513.9 74.8A86.2 86.2 0 0 1 514.6 73.9zM508.2 77.2A89.2 89.2 0 0 0 507.5 78.1L510.0 79.9A86.2 86.2 0 0 1 510.7 78.9zM507.5 78.3A89.2 89.2 0 0 0 506.8 79.2L509.3 80.9A86.2 86.2 0 0 1 509.9 80.0zM506.0 80.5A89.2 89.2 0 0 0 505.3 81.5L507.8 83.1A86.2 86.2 0 0 1 508.5 82.1zM502.5 86.2A89.2 89.2 0 0 0 501.9 87.2L504.6 88.6A86.2 86.2 0 0 1 505.1 87.6zM500.0 90.9A89.2 89.2 0 0 0 499.5 92.0L502.2 93.2A86.2 86.2 0 0 1 502.7 92.2zM497.4 97.0A89.2 89.2 0 0 0 496.9 98.1L499.7 99.2A86.2 86.2 0 0 1 500.2 98.1zM495.6 102.0A89.2 89.2 0 0 0 495.2 103.2L498.1 104.1A86.2 86.2 0 0 1 498.4 103.0zM494.8 104.6A89.2 89.2 0 0 0 494.5 105.7L497.3 106.5A86.2 86.2 0 0 1 497.7 105.4zM492.2 116.3A89.2 89.2 0 0 0 492.0 117.5L495.0 117.9A86.2 86.2 0 0 1 495.2 116.8zM492.0 117.6A89.2 89.2 0 0 0 491.9 118.8L494.8 119.2A86.2 86.2 0 0 1 495.0 118.0zM491.8 119.0A89.2 89.2 0 0 0 491.7 120.1L494.7 120.5A86.2 86.2 0 0 1 494.8 119.3zM491.7 120.3A89.2 89.2 0 0 0 491.6 121.5L494.6 121.7A86.2 86.2 0 0 1 494.7 120.6zM491.6 121.6A89.2 89.2 0 0 0 491.5 122.8L494.5 123.0A86.2 86.2 0 0 1 494.5 121.9zM491.3 125.6A89.2 89.2 0 0 0 491.2 126.8L494.2 126.9A86.2 86.2 0 0 1 494.3 125.7zM491.2 129.6A89.2 89.2 0 0 0 491.2 130.8L494.2 130.8A86.2 86.2 0 0 1 494.2 129.6zM491.2 130.9A89.2 89.2 0 0 0 491.2 132.1L494.2 132.0A86.2 86.2 0 0 1 494.2 130.9zM491.4 134.9A89.2 89.2 0 0 0 491.4 136.1L494.4 135.9A86.2 86.2 0 0 1 494.4 134.8zM492.9 146.8A89.2 89.2 0 0 0 493.1 148.0L496.1 147.4A86.2 86.2 0 0 1 495.8 146.3zM494.8 154.6A89.2 89.2 0 0 0 495.1 155.8L498.0 154.9A86.2 86.2 0 0 1 497.7 153.8zM495.2 155.9A89.2 89.2 0 0 0 495.5 157.0L498.4 156.1A86.2 86.2 0 0 1 498.0 155.0zM496.0 158.4A89.2 89.2 0 0 0 496.4 159.6L499.2 158.6A86.2 86.2 0 0 1 498.8 157.5zM497.4 162.2A89.2 89.2 0 0 0 497.8 163.3L500.6 162.2A86.2 86.2 0 0 1 500.2 161.1zM497.9 163.4A89.2 89.2 0 0 0 498.3 164.5L501.1 163.4A86.2 86.2 0 0 1 500.6 162.3zM498.4 164.7A89.2 89.2 0 0 0 498.9 165.8L501.6 164.5A86.2 86.2 0 0 1 501.1 163.5zM500.6 169.5A89.2 89.2 0 0 0 501.2 170.6L503.8 169.2A86.2 86.2 0 0 1 503.3 168.2zM501.2 170.7A89.2 89.2 0 0 0 501.8 171.8L504.4 170.3A86.2 86.2 0 0 1 503.9 169.3zM501.9 171.9A89.2 89.2 0 0 0 502.4 172.9L505.0 171.5A86.2 86.2 0 0 1 504.5 170.4zM502.5 173.0A89.2 89.2 0 0 0 503.1 174.1L505.7 172.6A86.2 86.2 0 0 1 505.1 171.6zM503.2 174.2A89.2 89.2 0 0 0 503.8 175.2L506.3 173.7A86.2 86.2 0 0 1 505.7 172.7zM503.8 175.4A89.2 89.2 0 0 0 504.4 176.4L507.0 174.8A86.2 86.2 0 0 1 506.4 173.8zM506.0 178.7A89.2 89.2 0 0 0 506.6 179.7L509.1 178.1A86.2 86.2 0 0 1 508.5 177.1zM507.5 180.9A89.2 89.2 0 0 0 508.2 181.9L510.6 180.2A86.2 86.2 0 0 1 509.9 179.2zM508.2 182.0A89.2 89.2 0 0 0 508.9 183.0L511.4 181.2A86.2 86.2 0 0 1 510.7 180.3zM510.7 185.2A89.2 89.2 0 0 0 511.4 186.1L513.7 184.2A86.2 86.2 0 0 1 513.0 183.3zM512.4 187.3A89.2 89.2 0 0 0 513.1 188.2L515.4 186.2A86.2 86.2 0 0 1 514.6 185.3zM519.7 195.0A89.2 89.2 0 0 0 520.6 195.8L522.6 193.6A86.2 86.2 0 0 1 521.8 192.8zM524.8 199.3A89.2 89.2 0 0 0 525.7 200.1L527.6 197.7A86.2 86.2 0 0 1 526.7 197.0zM529.1 202.5A89.2 89.2 0 0 0 530.0 203.2L531.7 200.7A86.2 86.2 0 0 1 530.8 200.1zM535.8 206.8A89.2 89.2 0 0 0 536.8 207.4L538.3 204.8A86.2 86.2 0 0 1 537.3 204.3zM542.9 210.5A89.2 89.2 0 0 0 544.0 211.0L545.2 208.3A86.2 86.2 0 0 1 544.2 207.8zM545.3 211.6A89.2 89.2 0 0 0 546.4 212.1L547.6 209.3A86.2 86.2 0 0 1 546.5 208.9zM546.6 212.1A89.2 89.2 0 0 0 547.7 212.6L548.8 209.8A86.2 86.2 0 0 1 547.7 209.4zM554.1 214.8A89.2 89.2 0 0 0 555.3 215.2L556.1 212.3A86.2 86.2 0 0 1 555.0 212.0zM556.7 215.6A89.2 89.2 0 0 0 557.8 215.9L558.6 213.0A86.2 86.2 0 0 1 557.5 212.7zM559.3 216.3A89.2 89.2 0 0 0 560.4 216.5L561.1 213.6A86.2 86.2 0 0 1 560.0 213.3zM561.9 216.9A89.2 89.2 0 0 0 563.0 217.1L563.6 214.1A86.2 86.2 0 0 1 562.5 213.9zM564.5 217.4A89.2 89.2 0 0 0 565.7 217.6L566.2 214.6A86.2 86.2 0 0 1 565.0 214.4zM567.1 217.8A89.2 89.2 0 0 0 568.3 218.0L568.7 215.0A86.2 86.2 0 0 1 567.6 214.8zM571.1 218.3A89.2 89.2 0 0 0 572.3 218.4L572.5 215.4A86.2 86.2 0 0 1 571.4 215.3zM579.1 218.8A89.2 89.2 0 0 0 580.3 218.8L580.3 215.8A86.2 86.2 0 0 1 579.1 215.8zM581.7 218.8A89.2 89.2 0 0 0 582.9 218.8L582.8 215.8A86.2 86.2 0 0 1 581.7 215.8zM583.1 218.8A89.2 89.2 0 0 0 584.3 218.7L584.1 215.7A86.2 86.2 0 0 1 583.0 215.8zM585.7 218.6A89.2 89.2 0 0 0 586.9 218.6L586.7 215.6A86.2 86.2 0 0 1 585.6 215.6zM587.1 218.6A89.2 89.2 0 0 0 588.3 218.5L588.0 215.5A86.2 86.2 0 0 1 586.8 215.6zM589.7 218.3A89.2 89.2 0 0 0 590.9 218.2L590.6 215.2A86.2 86.2 0 0 1 589.4 215.3zM596.3 217.4A89.2 89.2 0 0 0 597.5 217.1L596.9 214.2A86.2 86.2 0 0 1 595.8 214.4zM597.6 217.1A89.2 89.2 0 0 0 598.8 216.9L598.2 213.9A86.2 86.2 0 0 1 597.1 214.2zM601.5 216.3A89.2 89.2 0 0 0 602.7 216.0L602.0 213.1A86.2 86.2 0 0 1 600.8 213.3zM606.7 214.8A89.2 89.2 0 0 0 607.8 214.5L606.9 211.6A86.2 86.2 0 0 1 605.8 212.0zM608.0 214.4A89.2 89.2 0 0 0 609.1 214.1L608.1 211.2A86.2 86.2 0 0 1 607.0 211.6zM609.2 214.0A89.2 89.2 0 0 0 610.4 213.6L609.4 210.8A86.2 86.2 0 0 1 608.3 211.2zM610.5 213.6A89.2 89.2 0 0 0 611.6 213.2L610.6 210.3A86.2 86.2 0 0 1 609.5 210.7zM619.1 210.0A89.2 89.2 0 0 0 620.2 209.4L618.8 206.8A86.2 86.2 0 0 1 617.8 207.3zM620.3 209.4A89.2 89.2 0 0 0 621.4 208.8L620.0 206.2A86.2 86.2 0 0 1 619.0 206.7zM622.7 208.1A89.2 89.2 0 0 0 623.7 207.6L622.3 205.0A86.2 86.2 0 0 1 621.2 205.5zM627.3 205.5A89.2 89.2 0 0 0 628.3 204.8L626.7 202.3A86.2 86.2 0 0 1 625.7 202.9zM630.6 203.3A89.2 89.2 0 0 0 631.6 202.6L629.9 200.2A86.2 86.2 0 0 1 629.0 200.8zM633.9 201.0A89.2 89.2 0 0 0 634.9 200.2L633.0 197.9A86.2 86.2 0 0 1 632.1 198.6zM640.1 195.9A89.2 89.2 0 0 0 641.0 195.1L638.9 192.9A86.2 86.2 0 0 1 638.1 193.7zM641.1 195.0A89.2 89.2 0 0 0 641.9 194.2L639.9 192.0A86.2 86.2 0 0 1 639.0 192.8zM642.0 194.1A89.2 89.2 0 0 0 642.9 193.2L640.8 191.1A86.2 86.2 0 0 1 640.0 191.9zM643.0 193.1A89.2 89.2 0 0 0 643.9 192.3L641.7 190.2A86.2 86.2 0 0 1 640.9 191.0zM643.9 192.2A89.2 89.2 0 0 0 644.8 191.3L642.6 189.3A86.2 86.2 0 0 1 641.8 190.1zM646.7 189.3A89.2 89.2 0 0 0 647.5 188.4L645.2 186.4A86.2 86.2 0 0 1 644.5 187.3zM648.4 187.3A89.2 89.2 0 0 0 649.2 186.4L646.9 184.4A86.2 86.2 0 0 1 646.2 185.3zM653.3 180.9A89.2 89.2 0 0 0 654.0 180.0L651.5 178.3A86.2 86.2 0 0 1 650.9 179.2zM660.2 169.5A89.2 89.2 0 0 0 660.7 168.4L658.0 167.1A86.2 86.2 0 0 1 657.5 168.2zM661.3 167.1A89.2 89.2 0 0 0 661.8 166.0L659.1 164.8A86.2 86.2 0 0 1 658.6 165.8zM663.4 162.2A89.2 89.2 0 0 0 663.9 161.1L661.1 160.0A86.2 86.2 0 0 1 660.6 161.1zM664.8 158.4A89.2 89.2 0 0 0 665.2 157.3L662.3 156.4A86.2 86.2 0 0 1 662.0 157.5zM666.0 154.6A89.2 89.2 0 0 0 666.3 153.5L663.5 152.7A86.2 86.2 0 0 1 663.1 153.8zM667.1 150.7A89.2 89.2 0 0 0 667.3 149.6L664.4 148.9A86.2 86.2 0 0 1 664.1 150.0zM667.4 149.4A89.2 89.2 0 0 0 667.6 148.3L664.7 147.6A86.2 86.2 0 0 1 664.4 148.8zM668.4 144.2A89.2 89.2 0 0 0 668.6 143.0L665.6 142.6A86.2 86.2 0 0 1 665.4 143.7zM668.8 141.6A89.2 89.2 0 0 0 668.9 140.4L666.0 140.0A86.2 86.2 0 0 1 665.8 141.2zM669.2 137.6A89.2 89.2 0 0 0 669.3 136.4L666.3 136.2A86.2 86.2 0 0 1 666.3 137.3zM669.4 136.3A89.2 89.2 0 0 0 669.4 135.1L666.4 134.9A86.2 86.2 0 0 1 666.4 136.0zM669.4 134.9A89.2 89.2 0 0 0 669.5 133.7L666.5 133.6A86.2 86.2 0 0 1 666.4 134.8zM669.5 133.6A89.2 89.2 0 0 0 669.6 132.4L666.6 132.3A86.2 86.2 0 0 1 666.5 133.5z" fill="#a9b5df"/>
<path d="M665.7 129.0A85.3 85.3 0 0 0 665.7 127.9L663.0 127.9A82.6 82.6 0 0 1 663.0 129.0zM665.7 127.7A85.3 85.3 0 0 0 665.6 126.6L662.9 126.7A82.6 82.6 0 0 1 663.0 127.8zM665.6 126.5A85.3 85.3 0 0 0 665.6 125.3L662.9 125.4A82.6 82.6 0 0 1 662.9 126.6zM665.6 125.2A85.3 85.3 0 0 0 665.5 124.0L662.8 124.2A82.6 82.6 0 0 1 662.9 125.3zM665.4 122.6A85.3 85.3 0 0 0 665.3 121.5L662.6 121.7A82.6 82.6 0 0 1 662.7 122.9zM665.2 120.1A85.3 85.3 0 0 0 665.0 119.0L662.4 119.3A82.6 82.6 0 0 1 662.5 120.4zM664.8 117.6A85.3 85.3 0 0 0 664.7 116.4L662.0 116.8A82.6 82.6 0 0 1 662.2 117.9zM664.7 116.3A85.3 85.3 0 0 0 664.5 115.2L661.8 115.6A82.6 82.6 0 0 1 662.0 116.7zM664.4 115.0A85.3 85.3 0 0 0 664.2 113.9L661.6 114.4A82.6 82.6 0 0 1 661.8 115.5zM664.2 113.8A85.3 85.3 0 0 0 664.0 112.7L661.4 113.2A82.6 82.6 0 0 1 661.6 114.3zM664.0 112.5A85.3 85.3 0 0 0 663.7 111.4L661.1 112.0A82.6 82.6 0 0 1 661.3 113.1zM663.4 110.0A85.3 85.3 0 0 0 663.2 108.9L660.5 109.6A82.6 82.6 0 0 1 660.8 110.7zM662.8 107.6A85.3 85.3 0 0 0 662.5 106.5L659.9 107.2A82.6 82.6 0 0 1 660.2 108.3zM661.7 103.9A85.3 85.3 0 0 0 661.4 102.8L658.8 103.6A82.6 82.6 0 0 1 659.2 104.7zM661.3 102.7A85.3 85.3 0 0 0 661.0 101.6L658.4 102.5A82.6 82.6 0 0 1 658.8 103.5zM660.9 101.5A85.3 85.3 0 0 0 660.5 100.4L658.0 101.3A82.6 82.6 0 0 1 658.4 102.4zM660.5 100.3A85.3 85.3 0 0 0 660.1 99.2L657.6 100.2A82.6 82.6 0 0 1 658.0 101.2zM659.6 97.9A85.3 85.3 0 0 0 659.1 96.8L656.7 97.9A82.6 82.6 0 0 1 657.1 98.9zM659.1 96.7A85.3 85.3 0 0 0 658.7 95.6L656.2 96.7A82.6 82.6 0 0 1 656.6 97.7zM658.6 95.5A85.3 85.3 0 0 0 658.1 94.5L655.7 95.6A82.6 82.6 0 0 1 656.1 96.6zM658.1 94.4A85.3 85.3 0 0 0 657.6 93.3L655.2 94.5A82.6 82.6 0 0 1 655.6 95.5zM657.5 93.2A85.3 85.3 0 0 0 657.0 92.2L654.6 93.4A82.6 82.6 0 0 1 655.1 94.4zM657.0 92.1A85.3 85.3 0 0 0 656.5 91.0L654.1 92.2A82.6 82.6 0 0 1 654.6 93.2zM655.8 89.8A85.3 85.3 0 0 0 655.3 88.8L652.9 90.1A82.6 82.6 0 0 1 653.4 91.0zM655.2 88.7A85.3 85.3 0 0 0 654.7 87.7L652.3 89.0A82.6 82.6 0 0 1 652.9 90.0zM654.6 87.5A85.3 85.3 0 0 0 654.0 86.5L651.7 87.9A82.6 82.6 0 0 1 652.3 88.9zM654.0 86.4A85.3 85.3 0 0 0 653.4 85.4L651.1 86.8A82.6 82.6 0 0 1 651.6 87.8zM652.6 84.3A85.3 85.3 0 0 0 652.0 83.3L649.8 84.8A82.6 82.6 0 0 1 650.4 85.7zM652.0 83.2A85.3 85.3 0 0 0 651.3 82.2L649.1 83.7A82.6 82.6 0 0 1 649.7 84.6zM651.3 82.1A85.3 85.3 0 0 0 650.6 81.2L648.4 82.7A82.6 82.6 0 0 1 649.0 83.6zM649.1 79.0A85.3 85.3 0 0 0 648.4 78.1L646.2 79.7A82.6 82.6 0 0 1 646.9 80.6zM648.3 78.0A85.3 85.3 0 0 0 647.6 77.1L645.5 78.7A82.6 82.6 0 0 1 646.1 79.6zM646.7 76.0A85.3 85.3 0 0 0 646.0 75.1L643.9 76.8A82.6 82.6 0 0 1 644.6 77.7zM645.9 75.0A85.3 85.3 0 0 0 645.2 74.1L643.1 75.8A82.6 82.6 0 0 1 643.8 76.7zM645.1 74.0A85.3 85.3 0 0 0 644.3 73.1L642.3 74.9A82.6 82.6 0 0 1 643.0 75.8zM644.2 73.0A85.3 85.3 0 0 0 643.5 72.2L641.5 74.0A82.6 82.6 0 0 1 642.2 74.8zM643.4 72.1A85.3 85.3 0 0 0 642.6 71.2L640.6 73.1A82.6 82.6 0 0 1 641.4 73.9zM642.5 71.1A85.3 85.3 0 0 0 641.7 70.3L639.8 72.2A82.6 82.6 0 0 1 640.6 73.0zM641.6 70.2A85.3 85.3 0 0 0 640.8 69.4L638.9 71.3A82.6 82.6 0 0 1 639.7 72.1zM639.8 68.4A85.3 85.3 0 0 0 639.0 67.6L637.2 69.6A82.6 82.6 0 0 1 638.0 70.4zM638.0 66.7A85.3 85.3 0 0 0 637.1 65.9L635.3 67.9A82.6 82.6 0 0 1 636.2 68.7zM635.1 64.1A85.3 85.3 0 0 0 634.2 63.4L632.5 65.5A82.6 82.6 0 0 1 633.4 66.2zM634.1 63.3A85.3 85.3 0 0 0 633.2 62.6L631.5 64.7A82.6 82.6 0 0 1 632.4 65.4zM630.1 60.2A85.3 85.3 0 0 0 629.1 59.6L627.6 61.8A82.6 82.6 0 0 1 628.5 62.4zM628.0 58.8A85.3 85.3 0 0 0 627.0 58.2L625.5 60.4A82.6 82.6 0 0 1 626.5 61.0zM625.8 57.4A85.3 85.3 0 0 0 624.8 56.8L623.4 59.1A82.6 82.6 0 0 1 624.4 59.7zM624.7 56.7A85.3 85.3 0 0 0 623.7 56.1L622.4 58.5A82.6 82.6 0 0 1 623.3 59.0zM623.6 56.1A85.3 85.3 0 0 0 622.6 55.5L621.3 57.8A82.6 82.6 0 0 1 622.3 58.4zM622.5 55.4A85.3 85.3 0 0 0 621.5 54.9L620.2 57.2A82.6 82.6 0 0 1 621.2 57.8zM621.4 54.8A85.3 85.3 0 0 0 620.4 54.3L619.1 56.6A82.6 82.6 0 0 1 620.1 57.2zM620.3 54.2A85.3 85.3 0 0 0 619.3 53.7L618.0 56.1A82.6 82.6 0 0 1 619.0 56.6zM616.9 52.5A85.3 85.3 0 0 0 615.8 52.0L614.7 54.5A82.6 82.6 0 0 1 615.7 54.9zM615.7 52.0A85.3 85.3 0 0 0 614.7 51.5L613.6 54.0A82.6 82.6 0 0 1 614.6 54.4zM612.2 50.4A85.3 85.3 0 0 0 611.1 50.0L610.2 52.5A82.6 82.6 0 0 1 611.2 53.0zM608.6 49.1A85.3 85.3 0 0 0 607.5 48.7L606.7 51.3A82.6 82.6 0 0 1 607.7 51.6zM600.0 46.6A85.3 85.3 0 0 0 598.9 46.3L598.3 49.0A82.6 82.6 0 0 1 599.4 49.2zM598.8 46.3A85.3 85.3 0 0 0 597.7 46.1L597.1 48.7A82.6 82.6 0 0 1 598.2 48.9zM597.6 46.0A85.3 85.3 0 0 0 596.4 45.8L595.9 48.5A82.6 82.6 0 0 1 597.0 48.7zM596.3 45.8A85.3 85.3 0 0 0 595.2 45.6L594.7 48.2A82.6 82.6 0 0 1 595.8 48.4zM593.8 45.4A85.3 85.3 0 0 0 592.7 45.2L592.3 47.9A82.6 82.6 0 0 1 593.4 48.0zM592.5 45.2A85.3 85.3 0 0 0 591.4 45.0L591.0 47.7A82.6 82.6 0 0 1 592.1 47.8zM588.7 44.7A85.3 85.3 0 0 0 587.6 44.6L587.4 47.3A82.6 82.6 0 0 1 588.5 47.4zM587.5 44.6A85.3 85.3 0 0 0 586.3 44.5L586.1 47.2A82.6 82.6 0 0 1 587.2 47.3zM586.2 44.5A85.3 85.3 0 0 0 585.0 44.4L584.9 47.1A82.6 82.6 0 0 1 586.0 47.2zM583.6 44.4A85.3 85.3 0 0 0 582.5 44.3L582.4 47.0A82.6 82.6 0 0 1 583.5 47.1zM581.1 44.3A85.3 85.3 0 0 0 579.9 44.3L579.9 47.0A82.6 82.6 0 0 1 581.1 47.0zM576.0 44.4A85.3 85.3 0 0 0 574.8 44.5L575.0 47.2A82.6 82.6 0 0 1 576.1 47.1zM573.4 44.6A85.3 85.3 0 0 0 572.3 44.7L572.5 47.4A82.6 82.6 0 0 1 573.7 47.3zM572.2 44.7A85.3 85.3 0 0 0 571.0 44.8L571.3 47.5A82.6 82.6 0 0 1 572.4 47.4zM570.9 44.8A85.3 85.3 0 0 0 569.8 45.0L570.1 47.6A82.6 82.6 0 0 1 571.2 47.5zM567.1 45.3A85.3 85.3 0 0 0 566.0 45.5L566.4 48.2A82.6 82.6 0 0 1 567.5 48.0zM565.8 45.6A85.3 85.3 0 0 0 564.7 45.8L565.2 48.4A82.6 82.6 0 0 1 566.3 48.2zM564.6 45.8A85.3 85.3 0 0 0 563.5 46.0L564.0 48.6A82.6 82.6 0 0 1 565.1 48.4zM563.3 46.0A85.3 85.3 0 0 0 562.2 46.3L562.8 48.9A82.6 82.6 0 0 1 563.9 48.7zM560.8 46.6A85.3 85.3 0 0 0 559.7 46.8L560.4 49.5A82.6 82.6 0 0 1 561.5 49.2zM559.6 46.9A85.3 85.3 0 0 0 558.5 47.2L559.2 49.8A82.6 82.6 0 0 1 560.3 49.5zM558.4 47.2A85.3 85.3 0 0 0 557.3 47.5L558.0 50.1A82.6 82.6 0 0 1 559.1 49.8zM557.1 47.5A85.3 85.3 0 0 0 556.0 47.9L556.8 50.4A82.6 82.6 0 0 1 557.9 50.1zM554.7 48.3A85.3 85.3 0 0 0 553.6 48.6L554.4 51.2A82.6 82.6 0 0 1 555.5 50.8zM553.5 48.7A85.3 85.3 0 0 0 552.4 49.0L553.3 51.6A82.6 82.6 0 0 1 554.3 51.2zM552.3 49.1A85.3 85.3 0 0 0 551.2 49.5L552.1 52.0A82.6 82.6 0 0 1 553.2 51.6zM551.1 49.5A85.3 85.3 0 0 0 550.0 49.9L551.0 52.4A82.6 82.6 0 0 1 552.0 52.0zM549.9 50.0A85.3 85.3 0 0 0 548.8 50.4L549.8 52.9A82.6 82.6 0 0 1 550.8 52.5zM546.3 51.4A85.3 85.3 0 0 0 545.3 51.9L546.4 54.3A82.6 82.6 0 0 1 547.4 53.9zM545.2 51.9A85.3 85.3 0 0 0 544.1 52.4L545.3 54.8A82.6 82.6 0 0 1 546.3 54.4zM544.0 52.5A85.3 85.3 0 0 0 543.0 53.0L544.2 55.4A82.6 82.6 0 0 1 545.2 54.9zM542.9 53.0A85.3 85.3 0 0 0 541.8 53.5L543.0 55.9A82.6 82.6 0 0 1 544.0 55.4zM541.7 53.6A85.3 85.3 0 0 0 540.7 54.1L541.9 56.5A82.6 82.6 0 0 1 542.9 56.0zM540.6 54.2A85.3 85.3 0 0 0 539.6 54.7L540.9 57.1A82.6 82.6 0 0 1 541.8 56.6zM537.2 56.0A85.3 85.3 0 0 0 536.2 56.6L537.6 58.9A82.6 82.6 0 0 1 538.6 58.4zM535.1 57.4A85.3 85.3 0 0 0 534.1 58.0L535.6 60.2A82.6 82.6 0 0 1 536.5 59.6zM532.9 58.7A85.3 85.3 0 0 0 532.0 59.4L533.5 61.6A82.6 82.6 0 0 1 534.4 61.0zM530.8 60.2A85.3 85.3 0 0 0 529.9 60.9L531.5 63.0A82.6 82.6 0 0 1 532.4 62.4zM529.8 60.9A85.3 85.3 0 0 0 528.9 61.6L530.5 63.8A82.6 82.6 0 0 1 531.4 63.1zM522.9 66.6A85.3 85.3 0 0 0 522.0 67.4L523.9 69.4A82.6 82.6 0 0 1 524.7 68.6zM521.9 67.5A85.3 85.3 0 0 0 521.1 68.3L523.0 70.2A82.6 82.6 0 0 1 523.8 69.4zM520.1 69.3A85.3 85.3 0 0 0 519.3 70.1L521.2 72.0A82.6 82.6 0 0 1 522.0 71.2zM519.2 70.2A85.3 85.3 0 0 0 518.4 71.0L520.4 72.8A82.6 82.6 0 0 1 521.2 72.0zM518.3 71.1A85.3 85.3 0 0 0 517.6 71.9L519.5 73.8A82.6 82.6 0 0 1 520.3 72.9zM516.6 73.0A85.3 85.3 0 0 0 515.9 73.8L517.9 75.6A82.6 82.6 0 0 1 518.6 74.8zM514.1 75.9A85.3 85.3 0 0 0 513.4 76.8L515.5 78.5A82.6 82.6 0 0 1 516.2 77.6zM513.3 76.9A85.3 85.3 0 0 0 512.6 77.8L514.8 79.4A82.6 82.6 0 0 1 515.5 78.6zM512.6 77.9A85.3 85.3 0 0 0 511.9 78.8L514.0 80.4A82.6 82.6 0 0 1 514.7 79.5zM511.0 79.9A85.3 85.3 0 0 0 510.4 80.9L512.6 82.4A82.6 82.6 0 0 1 513.2 81.5zM510.3 81.0A85.3 85.3 0 0 0 509.7 81.9L511.9 83.4A82.6 82.6 0 0 1 512.5 82.5zM509.6 82.0A85.3 85.3 0 0 0 509.0 83.0L511.2 84.5A82.6 82.6 0 0 1 511.8 83.5zM507.5 85.3A85.3 85.3 0 0 0 506.9 86.3L509.3 87.6A82.6 82.6 0 0 1 509.8 86.7zM506.9 86.4A85.3 85.3 0 0 0 506.3 87.4L508.6 88.7A82.6 82.6 0 0 1 509.2 87.7zM506.2 87.5A85.3 85.3 0 0 0 505.7 88.5L508.0 89.8A82.6 82.6 0 0 1 508.6 88.8zM505.6 88.6A85.3 85.3 0 0 0 505.1 89.6L507.4 90.9A82.6 82.6 0 0 1 508.0 89.9zM505.0 89.7A85.3 85.3 0 0 0 504.5 90.7L506.9 92.0A82.6 82.6 0 0 1 507.4 91.0zM503.8 92.0A85.3 85.3 0 0 0 503.3 93.0L505.8 94.2A82.6 82.6 0 0 1 506.3 93.2zM503.3 93.1A85.3 85.3 0 0 0 502.8 94.2L505.3 95.3A82.6 82.6 0 0 1 505.7 94.3zM502.8 94.3A85.3 85.3 0 0 0 502.3 95.3L504.8 96.4A82.6 82.6 0 0 1 505.2 95.4zM501.7 96.6A85.3 85.3 0 0 0 501.3 97.7L503.8 98.7A82.6 82.6 0 0 1 504.2 97.7zM501.2 97.8A85.3 85.3 0 0 0 500.8 98.9L503.3 99.8A82.6 82.6 0 0 1 503.8 98.8zM500.3 100.2A85.3 85.3 0 0 0 499.9 101.3L502.5 102.2A82.6 82.6 0 0 1 502.9 101.1zM499.9 101.4A85.3 85.3 0 0 0 499.5 102.5L502.1 103.3A82.6 82.6 0 0 1 502.4 102.3zM499.5 102.6A85.3 85.3 0 0 0 499.1 103.7L501.7 104.5A82.6 82.6 0 0 1 502.0 103.4zM499.1 103.8A85.3 85.3 0 0 0 498.8 104.9L501.3 105.7A82.6 82.6 0 0 1 501.7 104.6zM498.7 105.0A85.3 85.3 0 0 0 498.4 106.1L501.0 106.9A82.6 82.6 0 0 1 501.3 105.8zM498.4 106.3A85.3 85.3 0 0 0 498.1 107.4L500.7 108.1A82.6 82.6 0 0 1 501.0 107.0zM498.0 107.5A85.3 85.3 0 0 0 497.7 108.6L500.3 109.3A82.6 82.6 0 0 1 500.6 108.2zM497.4 110.0A85.3 85.3 0 0 0 497.1 111.1L499.8 111.7A82.6 82.6 0 0 1 500.0 110.6zM497.1 111.2A85.3 85.3 0 0 0 496.9 112.3L499.5 112.9A82.6 82.6 0 0 1 499.7 111.8zM496.8 112.4A85.3 85.3 0 0 0 496.6 113.6L499.3 114.1A82.6 82.6 0 0 1 499.5 113.0zM496.6 113.7A85.3 85.3 0 0 0 496.4 114.8L499.0 115.3A82.6 82.6 0 0 1 499.2 114.2zM496.4 115.0A85.3 85.3 0 0 0 496.2 116.1L498.8 116.5A82.6 82.6 0 0 1 499.0 115.4zM496.2 116.2A85.3 85.3 0 0 0 496.0 117.3L498.7 117.7A82.6 82.6 0 0 1 498.8 116.6zM496.0 117.5A85.3 85.3 0 0 0 495.8 118.6L498.5 119.0A82.6 82.6 0 0 1 498.6 117.9zM495.8 118.7A85.3 85.3 0 0 0 495.7 119.9L498.3 120.2A82.6 82.6 0 0 1 498.5 119.1zM495.6 120.0A85.3 85.3 0 0 0 495.5 121.1L498.2 121.4A82.6 82.6 0 0 1 498.3 120.3zM495.4 122.5A85.3 85.3 0 0 0 495.3 123.7L498.0 123.9A82.6 82.6 0 0 1 498.1 122.8zM495.2 126.4A85.3 85.3 0 0 0 495.1 127.5L497.8 127.6A82.6 82.6 0 0 1 497.9 126.5zM495.1 128.9A85.3 85.3 0 0 0 495.1 130.1L497.8 130.1A82.6 82.6 0 0 1 497.8 128.9zM495.1 130.2A85.3 85.3 0 0 0 495.1 131.3L497.8 131.3A82.6 82.6 0 0 1 497.8 130.2zM495.1 131.5A85.3 85.3 0 0 0 495.2 132.6L497.9 132.5A82.6 82.6 0 0 1 497.8 131.4zM495.2 134.0A85.3 85.3 0 0 0 495.3 135.2L498.0 135.0A82.6 82.6 0 0 1 497.9 133.9zM495.4 136.6A85.3 85.3 0 0 0 495.5 137.7L498.2 137.5A82.6 82.6 0 0 1 498.1 136.3zM495.8 140.4A85.3 85.3 0 0 0 495.9 141.5L498.6 141.1A82.6 82.6 0 0 1 498.5 140.0zM496.0 141.6A85.3 85.3 0 0 0 496.1 142.8L498.8 142.4A82.6 82.6 0 0 1 498.6 141.3zM496.1 142.9A85.3 85.3 0 0 0 496.3 144.0L499.0 143.6A82.6 82.6 0 0 1 498.8 142.5zM496.4 144.2A85.3 85.3 0 0 0 496.6 145.3L499.2 144.8A82.6 82.6 0 0 1 499.0 143.7zM496.6 145.4A85.3 85.3 0 0 0 496.8 146.5L499.4 146.0A82.6 82.6 0 0 1 499.2 144.9zM497.1 147.9A85.3 85.3 0 0 0 497.3 149.0L500.0 148.4A82.6 82.6 0 0 1 499.7 147.3zM498.0 151.6A85.3 85.3 0 0 0 498.3 152.7L500.9 152.0A82.6 82.6 0 0 1 500.6 150.9zM498.3 152.9A85.3 85.3 0 0 0 498.7 154.0L501.2 153.2A82.6 82.6 0 0 1 500.9 152.1zM498.7 154.1A85.3 85.3 0 0 0 499.0 155.2L501.6 154.4A82.6 82.6 0 0 1 501.3 153.3zM499.5 156.5A85.3 85.3 0 0 0 499.8 157.6L502.4 156.7A82.6 82.6 0 0 1 502.0 155.7zM499.9 157.7A85.3 85.3 0 0 0 500.3 158.8L502.8 157.9A82.6 82.6 0 0 1 502.4 156.8zM500.3 158.9A85.3 85.3 0 0 0 500.7 160.0L503.2 159.0A82.6 82.6 0 0 1 502.8 158.0zM500.8 160.1A85.3 85.3 0 0 0 501.2 161.2L503.7 160.2A82.6 82.6 0 0 1 503.3 159.2zM502.2 163.7A85.3 85.3 0 0 0 502.7 164.7L505.1 163.6A82.6 82.6 0 0 1 504.7 162.6zM502.7 164.8A85.3 85.3 0 0 0 503.2 165.9L505.6 164.7A82.6 82.6 0 0 1 505.2 163.7zM505.0 169.4A85.3 85.3 0 0 0 505.5 170.4L507.9 169.1A82.6 82.6 0 0 1 507.4 168.2zM506.8 172.8A85.3 85.3 0 0 0 507.4 173.8L509.7 172.4A82.6 82.6 0 0 1 509.2 171.4zM507.5 173.9A85.3 85.3 0 0 0 508.1 174.8L510.4 173.4A82.6 82.6 0 0 1 509.8 172.5zM508.2 174.9A85.3 85.3 0 0 0 508.8 175.9L511.0 174.4A82.6 82.6 0 0 1 510.4 173.5zM508.8 176.0A85.3 85.3 0 0 0 509.5 177.0L511.7 175.5A82.6 82.6 0 0 1 511.1 174.6zM509.5 177.1A85.3 85.3 0 0 0 510.2 178.0L512.4 176.5A82.6 82.6 0 0 1 511.8 175.6zM511.0 179.2A85.3 85.3 0 0 0 511.7 180.1L513.8 178.5A82.6 82.6 0 0 1 513.2 177.6zM511.7 180.2A85.3 85.3 0 0 0 512.4 181.1L514.6 179.5A82.6 82.6 0 0 1 513.9 178.6zM512.5 181.2A85.3 85.3 0 0 0 513.2 182.1L515.3 180.5A82.6 82.6 0 0 1 514.7 179.6zM513.3 182.2A85.3 85.3 0 0 0 514.0 183.1L516.1 181.5A82.6 82.6 0 0 1 515.4 180.6zM514.9 184.2A85.3 85.3 0 0 0 515.6 185.1L517.7 183.4A82.6 82.6 0 0 1 517.0 182.5zM516.6 186.2A85.3 85.3 0 0 0 517.3 187.0L519.3 185.2A82.6 82.6 0 0 1 518.6 184.4zM517.4 187.1A85.3 85.3 0 0 0 518.2 188.0L520.2 186.1A82.6 82.6 0 0 1 519.4 185.3zM518.3 188.1A85.3 85.3 0 0 0 519.1 188.9L521.0 187.0A82.6 82.6 0 0 1 520.2 186.2zM520.1 189.9A85.3 85.3 0 0 0 520.9 190.7L522.8 188.8A82.6 82.6 0 0 1 522.0 188.0zM521.0 190.8A85.3 85.3 0 0 0 521.8 191.6L523.6 189.6A82.6 82.6 0 0 1 522.8 188.8zM521.9 191.7A85.3 85.3 0 0 0 522.7 192.4L524.6 190.5A82.6 82.6 0 0 1 523.7 189.7zM522.8 192.5A85.3 85.3 0 0 0 523.7 193.3L525.5 191.3A82.6 82.6 0 0 1 524.6 190.5zM525.7 195.1A85.3 85.3 0 0 0 526.6 195.8L528.3 193.7A82.6 82.6 0 0 1 527.4 193.0zM526.7 195.9A85.3 85.3 0 0 0 527.6 196.6L529.3 194.5A82.6 82.6 0 0 1 528.4 193.8zM527.7 196.7A85.3 85.3 0 0 0 528.6 197.4L530.2 195.2A82.6 82.6 0 0 1 529.4 194.5zM528.7 197.4A85.3 85.3 0 0 0 529.6 198.1L531.2 196.0A82.6 82.6 0 0 1 530.3 195.3zM529.7 198.2A85.3 85.3 0 0 0 530.6 198.9L532.2 196.7A82.6 82.6 0 0 1 531.3 196.0zM530.7 199.0A85.3 85.3 0 0 0 531.7 199.6L533.2 197.4A82.6 82.6 0 0 1 532.3 196.8zM531.8 199.7A85.3 85.3 0 0 0 532.7 200.3L534.2 198.1A82.6 82.6 0 0 1 533.3 197.5zM533.9 201.1A85.3 85.3 0 0 0 534.9 201.7L536.3 199.5A82.6 82.6 0 0 1 535.4 198.9zM535.0 201.8A85.3 85.3 0 0 0 536.0 202.4L537.4 200.1A82.6 82.6 0 0 1 536.4 199.5zM538.3 203.8A85.3 85.3 0 0 0 539.3 204.3L540.6 202.0A82.6 82.6 0 0 1 539.6 201.4zM541.6 205.6A85.3 85.3 0 0 0 542.7 206.1L543.9 203.7A82.6 82.6 0 0 1 542.9 203.2zM542.8 206.2A85.3 85.3 0 0 0 543.8 206.7L545.0 204.2A82.6 82.6 0 0 1 544.0 203.7zM545.1 207.2A85.3 85.3 0 0 0 546.1 207.7L547.2 205.2A82.6 82.6 0 0 1 546.2 204.8zM547.4 208.3A85.3 85.3 0 0 0 548.5 208.7L549.5 206.2A82.6 82.6 0 0 1 548.5 205.8zM548.6 208.8A85.3 85.3 0 0 0 549.7 209.2L550.6 206.7A82.6 82.6 0 0 1 549.6 206.2zM549.8 209.2A85.3 85.3 0 0 0 550.9 209.6L551.8 207.1A82.6 82.6 0 0 1 550.8 206.7zM551.0 209.7A85.3 85.3 0 0 0 552.1 210.1L553.0 207.5A82.6 82.6 0 0 1 551.9 207.1zM553.4 210.5A85.3 85.3 0 0 0 554.5 210.9L555.3 208.3A82.6 82.6 0 0 1 554.2 208.0zM554.6 210.9A85.3 85.3 0 0 0 555.7 211.2L556.5 208.7A82.6 82.6 0 0 1 555.4 208.3zM555.8 211.3A85.3 85.3 0 0 0 556.9 211.6L557.7 209.0A82.6 82.6 0 0 1 556.6 208.7zM558.3 212.0A85.3 85.3 0 0 0 559.4 212.3L560.1 209.7A82.6 82.6 0 0 1 559.0 209.4zM560.8 212.6A85.3 85.3 0 0 0 561.9 212.9L562.5 210.2A82.6 82.6 0 0 1 561.4 210.0zM562.0 212.9A85.3 85.3 0 0 0 563.1 213.1L563.7 210.5A82.6 82.6 0 0 1 562.6 210.3zM563.2 213.2A85.3 85.3 0 0 0 564.4 213.4L564.9 210.7A82.6 82.6 0 0 1 563.8 210.5zM564.5 213.4A85.3 85.3 0 0 0 565.6 213.6L566.1 211.0A82.6 82.6 0 0 1 565.0 210.8zM565.8 213.6A85.3 85.3 0 0 0 566.9 213.8L567.3 211.2A82.6 82.6 0 0 1 566.2 211.0zM569.5 214.2A85.3 85.3 0 0 0 570.7 214.3L571.0 211.7A82.6 82.6 0 0 1 569.9 211.5zM570.8 214.4A85.3 85.3 0 0 0 571.9 214.5L572.2 211.8A82.6 82.6 0 0 1 571.1 211.7zM572.1 214.5A85.3 85.3 0 0 0 573.2 214.6L573.4 211.9A82.6 82.6 0 0 1 572.3 211.8zM573.3 214.6A85.3 85.3 0 0 0 574.5 214.7L574.7 212.0A82.6 82.6 0 0 1 573.6 211.9zM575.9 214.8A85.3 85.3 0 0 0 577.0 214.8L577.1 212.1A82.6 82.6 0 0 1 576.0 212.1zM577.2 214.8A85.3 85.3 0 0 0 578.3 214.9L578.4 212.2A82.6 82.6 0 0 1 577.3 212.1zM578.4 214.9A85.3 85.3 0 0 0 579.6 214.9L579.6 212.2A82.6 82.6 0 0 1 578.5 212.2zM581.0 214.9A85.3 85.3 0 0 0 582.1 214.9L582.1 212.2A82.6 82.6 0 0 1 581.0 212.2zM582.3 214.9A85.3 85.3 0 0 0 583.4 214.8L583.3 212.1A82.6 82.6 0 0 1 582.2 212.2zM583.5 214.8A85.3 85.3 0 0 0 584.7 214.8L584.6 212.1A82.6 82.6 0 0 1 583.4 212.1zM584.8 214.8A85.3 85.3 0 0 0 586.0 214.7L585.8 212.0A82.6 82.6 0 0 1 584.7 212.1zM586.1 214.7A85.3 85.3 0 0 0 587.2 214.6L587.0 211.9A82.6 82.6 0 0 1 585.9 212.0zM588.6 214.5A85.3 85.3 0 0 0 589.8 214.4L589.5 211.7A82.6 82.6 0 0 1 588.4 211.8zM591.2 214.2A85.3 85.3 0 0 0 592.3 214.1L591.9 211.4A82.6 82.6 0 0 1 590.8 211.5zM593.7 213.9A85.3 85.3 0 0 0 594.8 213.7L594.4 211.0A82.6 82.6 0 0 1 593.3 211.2zM595.0 213.6A85.3 85.3 0 0 0 596.1 213.4L595.6 210.8A82.6 82.6 0 0 1 594.5 211.0zM596.2 213.4A85.3 85.3 0 0 0 597.3 213.2L596.8 210.6A82.6 82.6 0 0 1 595.7 210.8zM597.5 213.2A85.3 85.3 0 0 0 598.6 212.9L598.0 210.3A82.6 82.6 0 0 1 596.9 210.5zM600.0 212.6A85.3 85.3 0 0 0 601.1 212.4L600.4 209.7A82.6 82.6 0 0 1 599.3 210.0zM602.4 212.0A85.3 85.3 0 0 0 603.5 211.7L602.8 209.1A82.6 82.6 0 0 1 601.7 209.4zM604.9 211.3A85.3 85.3 0 0 0 606.0 211.0L605.2 208.4A82.6 82.6 0 0 1 604.1 208.7zM606.1 210.9A85.3 85.3 0 0 0 607.2 210.6L606.4 208.0A82.6 82.6 0 0 1 605.3 208.4zM608.5 210.1A85.3 85.3 0 0 0 609.6 209.7L608.7 207.2A82.6 82.6 0 0 1 607.6 207.6zM609.7 209.7A85.3 85.3 0 0 0 610.8 209.3L609.8 206.8A82.6 82.6 0 0 1 608.8 207.2zM610.9 209.2A85.3 85.3 0 0 0 612.0 208.8L611.0 206.3A82.6 82.6 0 0 1 610.0 206.7zM613.3 208.3A85.3 85.3 0 0 0 614.4 207.9L613.3 205.4A82.6 82.6 0 0 1 612.3 205.8zM614.5 207.8A85.3 85.3 0 0 0 615.5 207.3L614.4 204.9A82.6 82.6 0 0 1 613.4 205.3zM615.6 207.3A85.3 85.3 0 0 0 616.7 206.8L615.5 204.4A82.6 82.6 0 0 1 614.5 204.8zM616.8 206.7A85.3 85.3 0 0 0 617.8 206.2L616.6 203.8A82.6 82.6 0 0 1 615.6 204.3zM617.9 206.2A85.3 85.3 0 0 0 619.0 205.7L617.8 203.3A82.6 82.6 0 0 1 616.8 203.8zM619.1 205.6A85.3 85.3 0 0 0 620.1 205.1L618.9 202.7A82.6 82.6 0 0 1 617.9 203.2zM621.3 204.4A85.3 85.3 0 0 0 622.3 203.9L621.0 201.5A82.6 82.6 0 0 1 620.0 202.1zM622.5 203.8A85.3 85.3 0 0 0 623.5 203.2L622.1 200.9A82.6 82.6 0 0 1 621.1 201.5zM623.6 203.2A85.3 85.3 0 0 0 624.6 202.6L623.2 200.3A82.6 82.6 0 0 1 622.2 200.8zM625.7 201.8A85.3 85.3 0 0 0 626.7 201.2L625.2 199.0A82.6 82.6 0 0 1 624.3 199.6zM627.9 200.5A85.3 85.3 0 0 0 628.8 199.8L627.3 197.6A82.6 82.6 0 0 1 626.4 198.2zM630.0 199.0A85.3 85.3 0 0 0 630.9 198.3L629.3 196.2A82.6 82.6 0 0 1 628.4 196.8zM632.0 197.5A85.3 85.3 0 0 0 632.9 196.8L631.3 194.7A82.6 82.6 0 0 1 630.4 195.3zM635.0 195.1A85.3 85.3 0 0 0 635.9 194.4L634.2 192.3A82.6 82.6 0 0 1 633.3 193.0zM637.0 193.4A85.3 85.3 0 0 0 637.8 192.7L636.0 190.7A82.6 82.6 0 0 1 635.2 191.4zM638.9 191.7A85.3 85.3 0 0 0 639.7 190.9L637.8 189.0A82.6 82.6 0 0 1 637.0 189.8zM642.5 188.1A85.3 85.3 0 0 0 643.2 187.3L641.3 185.4A82.6 82.6 0 0 1 640.5 186.3zM644.2 186.2A85.3 85.3 0 0 0 644.9 185.4L642.9 183.6A82.6 82.6 0 0 1 642.2 184.4zM645.0 185.3A85.3 85.3 0 0 0 645.8 184.4L643.7 182.7A82.6 82.6 0 0 1 643.0 183.5zM646.7 183.3A85.3 85.3 0 0 0 647.4 182.4L645.3 180.7A82.6 82.6 0 0 1 644.6 181.6zM647.5 182.3A85.3 85.3 0 0 0 648.2 181.4L646.0 179.8A82.6 82.6 0 0 1 645.3 180.6zM649.0 180.3A85.3 85.3 0 0 0 649.7 179.4L647.5 177.8A82.6 82.6 0 0 1 646.8 178.7zM649.8 179.3A85.3 85.3 0 0 0 650.4 178.3L648.2 176.8A82.6 82.6 0 0 1 647.6 177.7zM650.5 178.2A85.3 85.3 0 0 0 651.1 177.3L648.9 175.8A82.6 82.6 0 0 1 648.3 176.7zM651.2 177.2A85.3 85.3 0 0 0 651.8 176.2L649.6 174.7A82.6 82.6 0 0 1 649.0 175.7zM652.6 175.0A85.3 85.3 0 0 0 653.2 174.0L650.9 172.6A82.6 82.6 0 0 1 650.3 173.6zM653.3 173.9A85.3 85.3 0 0 0 653.9 172.9L651.5 171.6A82.6 82.6 0 0 1 651.0 172.5zM654.6 171.7A85.3 85.3 0 0 0 655.1 170.7L652.8 169.4A82.6 82.6 0 0 1 652.2 170.4zM655.2 170.6A85.3 85.3 0 0 0 655.7 169.6L653.4 168.3A82.6 82.6 0 0 1 652.8 169.3zM656.4 168.4A85.3 85.3 0 0 0 656.9 167.3L654.5 166.1A82.6 82.6 0 0 1 654.0 167.1zM657.0 167.2A85.3 85.3 0 0 0 657.5 166.2L655.0 165.0A82.6 82.6 0 0 1 654.5 166.0zM658.0 164.9A85.3 85.3 0 0 0 658.5 163.9L656.0 162.8A82.6 82.6 0 0 1 655.6 163.8zM659.1 162.6A85.3 85.3 0 0 0 659.5 161.5L657.0 160.5A82.6 82.6 0 0 1 656.6 161.5zM660.0 160.2A85.3 85.3 0 0 0 660.4 159.1L657.9 158.2A82.6 82.6 0 0 1 657.5 159.2zM660.5 159.0A85.3 85.3 0 0 0 660.9 157.9L658.3 157.0A82.6 82.6 0 0 1 657.9 158.1zM661.3 156.6A85.3 85.3 0 0 0 661.7 155.5L659.1 154.7A82.6 82.6 0 0 1 658.8 155.8zM661.7 155.4A85.3 85.3 0 0 0 662.0 154.3L659.5 153.5A82.6 82.6 0 0 1 659.1 154.6zM662.4 152.9A85.3 85.3 0 0 0 662.7 151.8L660.1 151.1A82.6 82.6 0 0 1 659.8 152.2zM662.8 151.7A85.3 85.3 0 0 0 663.1 150.6L660.5 149.9A82.6 82.6 0 0 1 660.2 151.0zM663.1 150.5A85.3 85.3 0 0 0 663.4 149.4L660.8 148.7A82.6 82.6 0 0 1 660.5 149.8zM663.4 149.2A85.3 85.3 0 0 0 663.7 148.1L661.0 147.5A82.6 82.6 0 0 1 660.8 148.6zM664.0 146.8A85.3 85.3 0 0 0 664.2 145.6L661.5 145.1A82.6 82.6 0 0 1 661.3 146.2zM664.8 141.7A85.3 85.3 0 0 0 665.0 140.6L662.3 140.2A82.6 82.6 0 0 1 662.2 141.3zM665.0 140.5A85.3 85.3 0 0 0 665.1 139.3L662.5 139.0A82.6 82.6 0 0 1 662.3 140.1zM665.2 139.2A85.3 85.3 0 0 0 665.3 138.1L662.6 137.8A82.6 82.6 0 0 1 662.5 138.9zM665.3 137.9A85.3 85.3 0 0 0 665.4 136.8L662.7 136.6A82.6 82.6 0 0 1 662.6 137.7zM665.4 136.7A85.3 85.3 0 0 0 665.5 135.5L662.8 135.3A82.6 82.6 0 0 1 662.7 136.4zM665.5 135.4A85.3 85.3 0 0 0 665.6 134.2L662.9 134.1A82.6 82.6 0 0 1 662.8 135.2zM665.6 134.1A85.3 85.3 0 0 0 665.6 133.0L662.9 132.9A82.6 82.6 0 0 1 662.9 134.0zM665.6 132.8A85.3 85.3 0 0 0 665.7 131.7L663.0 131.6A82.6 82.6 0 0 1 662.9 132.7zM665.7 131.6A85.3 85.3 0 0 0 665.7 130.4L663.0 130.4A82.6 82.6 0 0 1 663.0 131.5z" fill="#e42a32"/>
<path d="M665.5 123.9A85.3 85.3 0 0 0 665.4 122.8L662.7 123.0A82.6 82.6 0 0 1 662.8 124.1zM665.3 121.4A85.3 85.3 0 0 0 665.2 120.2L662.5 120.5A82.6 82.6 0 0 1 662.6 121.6zM663.7 111.3A85.3 85.3 0 0 0 663.5 110.2L660.8 110.8A82.6 82.6 0 0 1 661.1 111.9zM663.1 108.8A85.3 85.3 0 0 0 662.8 107.7L660.2 108.4A82.6 82.6 0 0 1 660.5 109.5zM662.1 105.1A85.3 85.3 0 0 0 661.8 104.0L659.2 104.8A82.6 82.6 0 0 1 659.5 105.9zM660.0 99.1A85.3 85.3 0 0 0 659.6 98.0L657.1 99.0A82.6 82.6 0 0 1 657.5 100.0zM656.4 90.9A85.3 85.3 0 0 0 655.9 89.9L653.5 91.1A82.6 82.6 0 0 1 654.0 92.1zM653.3 85.3A85.3 85.3 0 0 0 652.7 84.4L650.4 85.8A82.6 82.6 0 0 1 651.0 86.7zM650.5 81.1A85.3 85.3 0 0 0 649.9 80.1L647.7 81.7A82.6 82.6 0 0 1 648.3 82.6zM649.8 80.0A85.3 85.3 0 0 0 649.1 79.1L647.0 80.7A82.6 82.6 0 0 1 647.6 81.6zM640.7 69.3A85.3 85.3 0 0 0 639.9 68.5L638.0 70.4A82.6 82.6 0 0 1 638.8 71.2zM638.9 67.5A85.3 85.3 0 0 0 638.1 66.8L636.2 68.7A82.6 82.6 0 0 1 637.1 69.5zM632.1 61.8A85.3 85.3 0 0 0 631.2 61.1L629.6 63.2A82.6 82.6 0 0 1 630.5 63.9zM631.1 61.0A85.3 85.3 0 0 0 630.2 60.3L628.6 62.5A82.6 82.6 0 0 1 629.5 63.2zM629.0 59.5A85.3 85.3 0 0 0 628.1 58.9L626.6 61.1A82.6 82.6 0 0 1 627.5 61.7zM626.9 58.1A85.3 85.3 0 0 0 625.9 57.5L624.5 59.7A82.6 82.6 0 0 1 625.4 60.3zM619.2 53.6A85.3 85.3 0 0 0 618.1 53.1L616.9 55.5A82.6 82.6 0 0 1 617.9 56.0zM618.0 53.0A85.3 85.3 0 0 0 617.0 52.5L615.8 55.0A82.6 82.6 0 0 1 616.8 55.5zM614.5 51.4A85.3 85.3 0 0 0 613.5 51.0L612.4 53.5A82.6 82.6 0 0 1 613.5 53.9zM611.0 50.0A85.3 85.3 0 0 0 609.9 49.6L609.0 52.1A82.6 82.6 0 0 1 610.0 52.5zM607.4 48.7A85.3 85.3 0 0 0 606.3 48.3L605.5 50.9A82.6 82.6 0 0 1 606.6 51.2zM606.2 48.3A85.3 85.3 0 0 0 605.1 48.0L604.3 50.5A82.6 82.6 0 0 1 605.4 50.9zM605.0 47.9A85.3 85.3 0 0 0 603.9 47.6L603.1 50.2A82.6 82.6 0 0 1 604.2 50.5zM603.7 47.6A85.3 85.3 0 0 0 602.6 47.3L601.9 49.9A82.6 82.6 0 0 1 603.0 50.2zM602.5 47.2A85.3 85.3 0 0 0 601.4 46.9L600.7 49.5A82.6 82.6 0 0 1 601.8 49.8zM601.3 46.9A85.3 85.3 0 0 0 600.2 46.6L599.5 49.2A82.6 82.6 0 0 1 600.6 49.5zM595.0 45.6A85.3 85.3 0 0 0 593.9 45.4L593.5 48.0A82.6 82.6 0 0 1 594.6 48.2zM591.3 45.0A85.3 85.3 0 0 0 590.1 44.9L589.8 47.5A82.6 82.6 0 0 1 590.9 47.7zM590.0 44.8A85.3 85.3 0 0 0 588.9 44.7L588.6 47.4A82.6 82.6 0 0 1 589.7 47.5zM584.9 44.4A85.3 85.3 0 0 0 583.8 44.4L583.7 47.1A82.6 82.6 0 0 1 584.8 47.1zM582.4 44.3A85.3 85.3 0 0 0 581.2 44.3L581.2 47.0A82.6 82.6 0 0 1 582.3 47.0zM579.8 44.3A85.3 85.3 0 0 0 578.7 44.3L578.7 47.0A82.6 82.6 0 0 1 579.8 47.0zM578.5 44.3A85.3 85.3 0 0 0 577.4 44.4L577.5 47.1A82.6 82.6 0 0 1 578.6 47.0zM577.3 44.4A85.3 85.3 0 0 0 576.1 44.4L576.2 47.1A82.6 82.6 0 0 1 577.4 47.1zM574.7 44.5A85.3 85.3 0 0 0 573.6 44.6L573.8 47.3A82.6 82.6 0 0 1 574.9 47.2zM569.6 45.0A85.3 85.3 0 0 0 568.5 45.1L568.9 47.8A82.6 82.6 0 0 1 570.0 47.7zM562.1 46.3A85.3 85.3 0 0 0 561.0 46.5L561.6 49.2A82.6 82.6 0 0 1 562.7 48.9zM555.9 47.9A85.3 85.3 0 0 0 554.8 48.2L555.6 50.8A82.6 82.6 0 0 1 556.7 50.5zM548.7 50.4A85.3 85.3 0 0 0 547.6 50.9L548.7 53.3A82.6 82.6 0 0 1 549.7 52.9zM539.5 54.8A85.3 85.3 0 0 0 538.5 55.3L539.8 57.7A82.6 82.6 0 0 1 540.8 57.1zM538.3 55.4A85.3 85.3 0 0 0 537.3 56.0L538.7 58.3A82.6 82.6 0 0 1 539.7 57.7zM536.1 56.7A85.3 85.3 0 0 0 535.2 57.3L536.6 59.6A82.6 82.6 0 0 1 537.5 59.0zM534.0 58.0A85.3 85.3 0 0 0 533.0 58.7L534.5 60.9A82.6 82.6 0 0 1 535.4 60.3zM531.9 59.5A85.3 85.3 0 0 0 530.9 60.1L532.5 62.3A82.6 82.6 0 0 1 533.4 61.7zM528.8 61.7A85.3 85.3 0 0 0 527.9 62.4L529.5 64.5A82.6 82.6 0 0 1 530.4 63.9zM527.8 62.5A85.3 85.3 0 0 0 526.9 63.2L528.5 65.3A82.6 82.6 0 0 1 529.4 64.6zM526.8 63.3A85.3 85.3 0 0 0 525.9 64.0L527.6 66.1A82.6 82.6 0 0 1 528.5 65.4zM524.8 64.9A85.3 85.3 0 0 0 523.9 65.7L525.7 67.7A82.6 82.6 0 0 1 526.6 67.0zM523.8 65.8A85.3 85.3 0 0 0 523.0 66.5L524.8 68.5A82.6 82.6 0 0 1 525.6 67.8zM521.0 68.4A85.3 85.3 0 0 0 520.2 69.2L522.1 71.1A82.6 82.6 0 0 1 522.9 70.3zM517.5 72.0A85.3 85.3 0 0 0 516.7 72.9L518.7 74.7A82.6 82.6 0 0 1 519.5 73.8zM515.8 73.9A85.3 85.3 0 0 0 515.0 74.8L517.1 76.5A82.6 82.6 0 0 1 517.8 75.7zM514.9 74.9A85.3 85.3 0 0 0 514.2 75.8L516.3 77.5A82.6 82.6 0 0 1 517.0 76.6zM511.8 78.9A85.3 85.3 0 0 0 511.1 79.8L513.3 81.4A82.6 82.6 0 0 1 514.0 80.5zM508.9 83.1A85.3 85.3 0 0 0 508.3 84.1L510.5 85.5A82.6 82.6 0 0 1 511.1 84.6zM508.2 84.2A85.3 85.3 0 0 0 507.6 85.2L509.9 86.6A82.6 82.6 0 0 1 510.5 85.6zM504.4 90.8A85.3 85.3 0 0 0 503.9 91.9L506.3 93.1A82.6 82.6 0 0 1 506.8 92.1zM502.2 95.5A85.3 85.3 0 0 0 501.8 96.5L504.3 97.6A82.6 82.6 0 0 1 504.7 96.5zM500.8 99.0A85.3 85.3 0 0 0 500.4 100.1L502.9 101.0A82.6 82.6 0 0 1 503.3 100.0zM497.7 108.7A85.3 85.3 0 0 0 497.4 109.8L500.0 110.5A82.6 82.6 0 0 1 500.3 109.4zM495.5 121.3A85.3 85.3 0 0 0 495.4 122.4L498.1 122.6A82.6 82.6 0 0 1 498.2 121.5zM495.3 123.8A85.3 85.3 0 0 0 495.2 125.0L497.9 125.1A82.6 82.6 0 0 1 498.0 124.0zM495.1 127.6A85.3 85.3 0 0 0 495.1 128.8L497.8 128.8A82.6 82.6 0 0 1 497.8 127.7zM495.2 132.7A85.3 85.3 0 0 0 495.2 133.9L497.9 133.8A82.6 82.6 0 0 1 497.9 132.6zM495.3 135.3A85.3 85.3 0 0 0 495.4 136.4L498.1 136.2A82.6 82.6 0 0 1 498.0 135.1zM495.5 137.8A85.3 85.3 0 0 0 495.6 139.0L498.3 138.7A82.6 82.6 0 0 1 498.2 137.6zM495.6 139.1A85.3 85.3 0 0 0 495.8 140.2L498.4 139.9A82.6 82.6 0 0 1 498.3 138.8zM497.7 150.4A85.3 85.3 0 0 0 498.0 151.5L500.6 150.8A82.6 82.6 0 0 1 500.3 149.7zM499.1 155.3A85.3 85.3 0 0 0 499.4 156.4L502.0 155.6A82.6 82.6 0 0 1 501.6 154.5zM501.2 161.3A85.3 85.3 0 0 0 501.7 162.4L504.1 161.3A82.6 82.6 0 0 1 503.7 160.3zM501.7 162.5A85.3 85.3 0 0 0 502.1 163.6L504.6 162.5A82.6 82.6 0 0 1 504.2 161.5zM503.3 166.0A85.3 85.3 0 0 0 503.8 167.0L506.2 165.8A82.6 82.6 0 0 1 505.7 164.8zM503.8 167.1A85.3 85.3 0 0 0 504.3 168.2L506.7 167.0A82.6 82.6 0 0 1 506.2 166.0zM504.4 168.3A85.3 85.3 0 0 0 504.9 169.3L507.3 168.1A82.6 82.6 0 0 1 506.8 167.1zM505.6 170.5A85.3 85.3 0 0 0 506.1 171.5L508.5 170.2A82.6 82.6 0 0 1 507.9 169.2zM506.2 171.7A85.3 85.3 0 0 0 506.8 172.7L509.1 171.3A82.6 82.6 0 0 1 508.5 170.3zM514.1 183.2A85.3 85.3 0 0 0 514.8 184.1L516.9 182.4A82.6 82.6 0 0 1 516.2 181.5zM515.7 185.2A85.3 85.3 0 0 0 516.5 186.1L518.5 184.3A82.6 82.6 0 0 1 517.8 183.4zM519.2 189.0A85.3 85.3 0 0 0 520.0 189.8L521.9 187.9A82.6 82.6 0 0 1 521.1 187.1zM523.8 193.4A85.3 85.3 0 0 0 524.6 194.1L526.4 192.1A82.6 82.6 0 0 1 525.6 191.4zM532.8 200.4A85.3 85.3 0 0 0 533.8 201.0L535.3 198.8A82.6 82.6 0 0 1 534.3 198.2zM536.1 202.5A85.3 85.3 0 0 0 537.1 203.1L538.4 200.7A82.6 82.6 0 0 1 537.5 200.2zM537.2 203.1A85.3 85.3 0 0 0 538.2 203.7L539.5 201.4A82.6 82.6 0 0 1 538.5 200.8zM540.5 205.0A85.3 85.3 0 0 0 541.5 205.5L542.8 203.1A82.6 82.6 0 0 1 541.8 202.6zM546.3 207.8A85.3 85.3 0 0 0 547.3 208.2L548.4 205.7A82.6 82.6 0 0 1 547.3 205.3zM552.2 210.1A85.3 85.3 0 0 0 553.3 210.5L554.1 207.9A82.6 82.6 0 0 1 553.1 207.6zM559.5 212.3A85.3 85.3 0 0 0 560.6 212.6L561.3 210.0A82.6 82.6 0 0 1 560.2 209.7zM568.3 214.0A85.3 85.3 0 0 0 569.4 214.2L569.8 211.5A82.6 82.6 0 0 1 568.7 211.4zM574.6 214.7A85.3 85.3 0 0 0 575.8 214.8L575.9 212.1A82.6 82.6 0 0 1 574.8 212.0zM579.7 214.9A85.3 85.3 0 0 0 580.9 214.9L580.9 212.2A82.6 82.6 0 0 1 579.7 212.2zM589.9 214.4A85.3 85.3 0 0 0 591.0 214.2L590.7 211.6A82.6 82.6 0 0 1 589.6 211.7zM592.4 214.0A85.3 85.3 0 0 0 593.6 213.9L593.2 211.2A82.6 82.6 0 0 1 592.1 211.4zM598.7 212.9A85.3 85.3 0 0 0 599.8 212.7L599.2 210.0A82.6 82.6 0 0 1 598.1 210.3zM601.2 212.3A85.3 85.3 0 0 0 602.3 212.0L601.6 209.4A82.6 82.6 0 0 1 600.5 209.7zM603.7 211.7A85.3 85.3 0 0 0 604.8 211.3L604.0 208.8A82.6 82.6 0 0 1 602.9 209.1zM612.1 208.8A85.3 85.3 0 0 0 613.2 208.3L612.1 205.9A82.6 82.6 0 0 1 611.1 206.3zM620.2 205.0A85.3 85.3 0 0 0 621.2 204.5L619.9 202.1A82.6 82.6 0 0 1 619.0 202.6zM624.7 202.5A85.3 85.3 0 0 0 625.6 201.9L624.2 199.6A82.6 82.6 0 0 1 623.3 200.2zM626.8 201.2A85.3 85.3 0 0 0 627.8 200.5L626.3 198.3A82.6 82.6 0 0 1 625.4 198.9zM628.9 199.7A85.3 85.3 0 0 0 629.9 199.1L628.3 196.9A82.6 82.6 0 0 1 627.4 197.5zM631.0 198.3A85.3 85.3 0 0 0 631.9 197.6L630.3 195.4A82.6 82.6 0 0 1 629.4 196.1zM633.0 196.7A85.3 85.3 0 0 0 633.9 196.0L632.3 193.9A82.6 82.6 0 0 1 631.4 194.6zM634.0 195.9A85.3 85.3 0 0 0 634.9 195.2L633.2 193.1A82.6 82.6 0 0 1 632.3 193.8zM636.0 194.3A85.3 85.3 0 0 0 636.9 193.5L635.1 191.5A82.6 82.6 0 0 1 634.2 192.2zM637.9 192.6A85.3 85.3 0 0 0 638.8 191.8L636.9 189.8A82.6 82.6 0 0 1 636.1 190.6zM639.8 190.8A85.3 85.3 0 0 0 640.6 190.0L638.7 188.1A82.6 82.6 0 0 1 637.9 188.9zM640.7 189.9A85.3 85.3 0 0 0 641.5 189.1L639.6 187.2A82.6 82.6 0 0 1 638.8 188.0zM641.6 189.0A85.3 85.3 0 0 0 642.4 188.2L640.4 186.4A82.6 82.6 0 0 1 639.6 187.2zM643.3 187.2A85.3 85.3 0 0 0 644.1 186.3L642.1 184.5A82.6 82.6 0 0 1 641.3 185.4zM651.9 176.1A85.3 85.3 0 0 0 652.5 175.1L650.3 173.7A82.6 82.6 0 0 1 649.7 174.6zM653.9 172.8A85.3 85.3 0 0 0 654.5 171.8L652.2 170.5A82.6 82.6 0 0 1 651.6 171.5zM655.8 169.5A85.3 85.3 0 0 0 656.3 168.5L653.9 167.2A82.6 82.6 0 0 1 653.4 168.2zM657.5 166.1A85.3 85.3 0 0 0 658.0 165.0L655.5 163.9A82.6 82.6 0 0 1 655.1 164.9zM662.1 154.2A85.3 85.3 0 0 0 662.4 153.1L659.8 152.3A82.6 82.6 0 0 1 659.5 153.4zM664.2 145.5A85.3 85.3 0 0 0 664.4 144.4L661.8 143.9A82.6 82.6 0 0 1 661.6 145.0zM664.4 144.2A85.3 85.3 0 0 0 664.6 143.1L662.0 142.7A82.6 82.6 0 0 1 661.8 143.8zM664.6 143.0A85.3 85.3 0 0 0 664.8 141.9L662.1 141.5A82.6 82.6 0 0 1 662.0 142.6zM665.7 130.3A85.3 85.3 0 0 0 665.7 129.1L663.0 129.1A82.6 82.6 0 0 1 663.0 130.3z" fill="#f2a4a8"/>
<path d="M665.0 118.8A85.3 85.3 0 0 0 664.9 117.7L662.2 118.1A82.6 82.6 0 0 1 662.3 119.2zM662.5 106.3A85.3 85.3 0 0 0 662.1 105.2L659.6 106.0A82.6 82.6 0 0 1 659.9 107.1zM647.5 77.0A85.3 85.3 0 0 0 646.8 76.1L644.7 77.7A82.6 82.6 0 0 1 645.4 78.6zM637.0 65.8A85.3 85.3 0 0 0 636.2 65.1L634.4 67.1A82.6 82.6 0 0 1 635.2 67.8zM636.1 65.0A85.3 85.3 0 0 0 635.2 64.2L633.5 66.3A82.6 82.6 0 0 1 634.3 67.0zM633.1 62.5A85.3 85.3 0 0 0 632.2 61.8L630.6 64.0A82.6 82.6 0 0 1 631.4 64.7zM613.4 50.9A85.3 85.3 0 0 0 612.3 50.5L611.3 53.0A82.6 82.6 0 0 1 612.3 53.4zM609.8 49.5A85.3 85.3 0 0 0 608.7 49.1L607.8 51.7A82.6 82.6 0 0 1 608.9 52.1zM568.4 45.2A85.3 85.3 0 0 0 567.2 45.3L567.6 48.0A82.6 82.6 0 0 1 568.7 47.8zM547.5 50.9A85.3 85.3 0 0 0 546.4 51.3L547.5 53.8A82.6 82.6 0 0 1 548.5 53.4zM525.8 64.1A85.3 85.3 0 0 0 524.9 64.8L526.6 66.9A82.6 82.6 0 0 1 527.5 66.2zM495.2 125.1A85.3 85.3 0 0 0 495.2 126.2L497.9 126.3A82.6 82.6 0 0 1 497.9 125.2zM496.8 146.7A85.3 85.3 0 0 0 497.1 147.8L499.7 147.2A82.6 82.6 0 0 1 499.5 146.1zM497.4 149.2A85.3 85.3 0 0 0 497.6 150.3L500.3 149.6A82.6 82.6 0 0 1 500.0 148.5zM510.3 178.1A85.3 85.3 0 0 0 510.9 179.1L513.1 177.5A82.6 82.6 0 0 1 512.5 176.6zM524.7 194.2A85.3 85.3 0 0 0 525.6 195.0L527.3 192.9A82.6 82.6 0 0 1 526.5 192.2zM539.4 204.4A85.3 85.3 0 0 0 540.4 204.9L541.7 202.6A82.6 82.6 0 0 1 540.7 202.0zM543.9 206.7A85.3 85.3 0 0 0 545.0 207.2L546.1 204.7A82.6 82.6 0 0 1 545.1 204.3zM557.1 211.6A85.3 85.3 0 0 0 558.2 211.9L558.9 209.3A82.6 82.6 0 0 1 557.8 209.0zM567.0 213.8A85.3 85.3 0 0 0 568.1 214.0L568.5 211.3A82.6 82.6 0 0 1 567.4 211.2zM587.4 214.6A85.3 85.3 0 0 0 588.5 214.5L588.3 211.8A82.6 82.6 0 0 1 587.1 211.9zM607.3 210.5A85.3 85.3 0 0 0 608.4 210.2L607.5 207.6A82.6 82.6 0 0 1 606.5 208.0zM645.9 184.3A85.3 85.3 0 0 0 646.6 183.4L644.5 181.7A82.6 82.6 0 0 1 643.8 182.6zM648.2 181.3A85.3 85.3 0 0 0 648.9 180.4L646.8 178.8A82.6 82.6 0 0 1 646.1 179.7zM658.6 163.7A85.3 85.3 0 0 0 659.0 162.7L656.5 161.6A82.6 82.6 0 0 1 656.1 162.7zM659.6 161.4A85.3 85.3 0 0 0 660.0 160.3L657.5 159.4A82.6 82.6 0 0 1 657.0 160.4zM660.9 157.8A85.3 85.3 0 0 0 661.3 156.7L658.7 155.9A82.6 82.6 0 0 1 658.4 156.9zM663.7 148.0A85.3 85.3 0 0 0 663.9 146.9L661.3 146.3A82.6 82.6 0 0 1 661.1 147.4z" fill="#f9dadc"/>
<path d="M662.0 129.6A81.6 81.6 0 0 0 661.8 123.9L658.2 124.2A78.0 78.0 0 0 1 658.4 129.6zM651.8 90.0A81.6 81.6 0 0 0 650.0 87.0L646.9 88.8A78.0 78.0 0 0 1 648.6 91.8zM641.5 75.5A81.6 81.6 0 0 0 637.6 71.4L635.1 74.0A78.0 78.0 0 0 1 638.8 77.9zM498.8 126.8A81.6 81.6 0 0 0 498.8 132.4L502.4 132.3A78.0 78.0 0 0 1 502.4 126.9zM558.6 208.2A81.6 81.6 0 0 0 562.7 209.3L563.5 205.8A78.0 78.0 0 0 1 559.6 204.8zM564.8 209.7A81.6 81.6 0 0 0 569.0 210.4L569.5 206.8A78.0 78.0 0 0 1 565.5 206.2zM612.3 204.7A81.6 81.6 0 0 0 622.4 199.5L620.6 196.5A78.0 78.0 0 0 1 610.9 201.4z" fill="#b2df8a"/>
<path d="M661.8 123.9A81.6 81.6 0 0 0 661.6 121.1L658.0 121.4A78.0 78.0 0 0 1 658.2 124.2zM661.2 118.2A81.6 81.6 0 0 0 660.8 115.4L657.2 116.1A78.0 78.0 0 0 1 657.6 118.7zM563.4 49.8A81.6 81.6 0 0 0 556.5 51.6L557.6 55.0A78.0 78.0 0 0 1 564.2 53.3zM555.9 207.4A81.6 81.6 0 0 0 558.6 208.2L559.6 204.8A78.0 78.0 0 0 1 556.9 204.0zM605.6 207.2A81.6 81.6 0 0 0 612.3 204.7L610.9 201.4A78.0 78.0 0 0 1 604.5 203.8zM625.4 197.6A81.6 81.6 0 0 0 627.2 196.4L625.1 193.5A78.0 78.0 0 0 1 623.5 194.6zM659.6 149.3A81.6 81.6 0 0 0 660.4 145.9L656.8 145.2A78.0 78.0 0 0 1 656.1 148.5z" fill="#fdbf6f"/>
<path d="M661.6 121.1A81.6 81.6 0 0 0 661.2 118.2L657.6 118.7A78.0 78.0 0 0 1 658.0 121.4zM584.0 48.1A81.6 81.6 0 0 0 580.4 48.0L580.4 51.6A78.0 78.0 0 0 1 583.8 51.7zM533.6 62.8A81.6 81.6 0 0 0 530.2 65.3L532.4 68.1A78.0 78.0 0 0 1 535.7 65.7zM499.1 123.2A81.6 81.6 0 0 0 498.8 126.8L502.4 126.9A78.0 78.0 0 0 1 502.6 123.5z" fill="#fed9a6"/>
<path d="M660.8 115.4A81.6 81.6 0 0 0 660.2 112.6L656.7 113.4A78.0 78.0 0 0 1 657.2 116.1zM537.2 60.4A81.6 81.6 0 0 0 533.6 62.8L535.7 65.7A78.0 78.0 0 0 1 539.1 63.5zM601.5 208.4A81.6 81.6 0 0 0 605.6 207.2L604.5 203.8A78.0 78.0 0 0 1 600.6 204.9z" fill="#fbb4ae"/>
<path d="M660.2 112.6A81.6 81.6 0 0 0 658.0 104.4L654.6 105.5A78.0 78.0 0 0 1 656.7 113.4zM508.0 167.3A81.6 81.6 0 0 0 509.7 170.4L512.9 168.6A78.0 78.0 0 0 1 511.2 165.6zM511.2 172.8A81.6 81.6 0 0 0 516.1 179.8L518.9 177.6A78.0 78.0 0 0 1 514.3 170.9zM627.2 196.4A81.6 81.6 0 0 0 632.9 192.1L630.5 189.4A78.0 78.0 0 0 1 625.1 193.5z" fill="#cab2d6"/>
<path d="M658.0 104.4A81.6 81.6 0 0 0 656.6 100.4L653.2 101.6A78.0 78.0 0 0 1 654.6 105.5zM616.8 56.6A81.6 81.6 0 0 0 614.2 55.3L612.7 58.6A78.0 78.0 0 0 1 615.2 59.8zM553.8 52.4A81.6 81.6 0 0 0 547.2 55.1L548.7 58.3A78.0 78.0 0 0 1 555.0 55.8zM521.7 72.9A81.6 81.6 0 0 0 517.9 77.1L520.6 79.5A78.0 78.0 0 0 1 524.3 75.4zM506.1 95.8A81.6 81.6 0 0 0 503.5 102.4L506.9 103.6A78.0 78.0 0 0 1 509.4 97.3zM562.7 209.3A81.6 81.6 0 0 0 564.8 209.7L565.5 206.2A78.0 78.0 0 0 1 563.5 205.8z" fill="#decbe4"/>
<path d="M656.6 100.4A81.6 81.6 0 0 0 651.8 90.0L648.6 91.8A78.0 78.0 0 0 1 653.2 101.6zM565.5 49.4A81.6 81.6 0 0 0 563.4 49.8L564.2 53.3A78.0 78.0 0 0 1 566.2 52.9zM556.5 51.6A81.6 81.6 0 0 0 553.8 52.4L555.0 55.8A78.0 78.0 0 0 1 557.6 55.0zM540.2 58.6A81.6 81.6 0 0 0 537.2 60.4L539.1 63.5A78.0 78.0 0 0 1 542.0 61.7z" fill="#e5d8bd"/>
<path d="M650.0 87.0A81.6 81.6 0 0 0 646.8 82.2L643.9 84.3A78.0 78.0 0 0 1 646.9 88.8zM632.9 192.1A81.6 81.6 0 0 0 635.5 189.8L633.1 187.1A78.0 78.0 0 0 1 630.5 189.4z" fill="#d95f02"/>
<path d="M646.8 82.2A81.6 81.6 0 0 0 641.5 75.5L638.8 77.9A78.0 78.0 0 0 1 643.9 84.3zM607.6 52.7A81.6 81.6 0 0 0 596.7 49.6L596.0 53.2A78.0 78.0 0 0 1 606.4 56.1zM593.9 49.1A81.6 81.6 0 0 0 591.1 48.7L590.6 52.3A78.0 78.0 0 0 1 593.3 52.7zM501.6 108.5A81.6 81.6 0 0 0 500.7 111.9L504.2 112.7A78.0 78.0 0 0 1 505.1 109.4z" fill="#ccebc5"/>
<path d="M637.6 71.4A81.6 81.6 0 0 0 635.5 69.4L633.1 72.1A78.0 78.0 0 0 1 635.1 74.0zM509.0 90.0A81.6 81.6 0 0 0 507.7 92.6L510.9 94.2A78.0 78.0 0 0 1 512.2 91.8z" fill="#f2f2f2"/>
<path d="M635.5 69.4A81.6 81.6 0 0 0 626.6 62.4L624.6 65.3A78.0 78.0 0 0 1 633.1 72.1zM571.9 48.4A81.6 81.6 0 0 0 569.7 48.7L570.2 52.3A78.0 78.0 0 0 1 572.2 52.0zM505.6 162.1A81.6 81.6 0 0 0 507.1 165.4L510.3 163.8A78.0 78.0 0 0 1 508.9 160.7zM657.1 157.5A81.6 81.6 0 0 0 658.0 154.8L654.6 153.7A78.0 78.0 0 0 1 653.7 156.3z" fill="#999999"/>
<path d="M626.6 62.4A81.6 81.6 0 0 0 616.8 56.6L615.2 59.8A78.0 78.0 0 0 1 624.6 65.3zM523.7 188.3A81.6 81.6 0 0 0 530.2 193.9L532.4 191.1A78.0 78.0 0 0 1 526.2 185.7zM584.0 211.1A81.6 81.6 0 0 0 586.8 210.9L586.5 207.4A78.0 78.0 0 0 1 583.8 207.5zM661.6 137.4A81.6 81.6 0 0 0 661.9 133.2L658.3 133.0A78.0 78.0 0 0 1 658.0 137.1z" fill="#4daf4a"/>
<path d="M614.2 55.3A81.6 81.6 0 0 0 611.0 53.9L609.6 57.3A78.0 78.0 0 0 1 612.7 58.6zM596.7 49.6A81.6 81.6 0 0 0 593.9 49.1L593.3 52.7A78.0 78.0 0 0 1 596.0 53.2z" fill="#ffffcc"/>
<path d="M611.0 53.9A81.6 81.6 0 0 0 607.6 52.7L606.4 56.1A78.0 78.0 0 0 1 609.6 57.3zM507.1 165.4A81.6 81.6 0 0 0 508.0 167.3L511.2 165.6A78.0 78.0 0 0 1 510.3 163.8z" fill="#b3cde3"/>
<path d="M591.1 48.7A81.6 81.6 0 0 0 584.0 48.1L583.8 51.7A78.0 78.0 0 0 1 590.6 52.3zM573.3 210.9A81.6 81.6 0 0 0 580.4 211.2L580.4 207.6A78.0 78.0 0 0 1 573.6 207.3z" fill="#377eb8"/>
<path d="M580.4 48.0A81.6 81.6 0 0 0 571.9 48.4L572.2 52.0A78.0 78.0 0 0 1 580.4 51.6zM530.2 65.3A81.6 81.6 0 0 0 526.9 68.0L529.2 70.7A78.0 78.0 0 0 1 532.4 68.1zM498.8 132.4A81.6 81.6 0 0 0 499.0 134.6L502.5 134.4A78.0 78.0 0 0 1 502.4 132.3zM509.7 170.4A81.6 81.6 0 0 0 511.2 172.8L514.3 170.9A78.0 78.0 0 0 1 512.9 168.6zM532.4 195.6A81.6 81.6 0 0 0 538.4 199.5L540.2 196.5A78.0 78.0 0 0 1 534.6 192.7zM545.9 203.6A81.6 81.6 0 0 0 547.9 204.4L549.3 201.1A78.0 78.0 0 0 1 547.4 200.3zM580.4 211.2A81.6 81.6 0 0 0 584.0 211.1L583.8 207.5A78.0 78.0 0 0 1 580.4 207.6z" fill="#fb9a99"/>
<path d="M569.7 48.7A81.6 81.6 0 0 0 565.5 49.4L566.2 52.9A78.0 78.0 0 0 1 570.2 52.3zM544.0 56.6A81.6 81.6 0 0 0 540.2 58.6L542.0 61.7A78.0 78.0 0 0 1 545.6 59.8zM502.6 154.1A81.6 81.6 0 0 0 505.6 162.1L508.9 160.7A78.0 78.0 0 0 1 506.0 153.1z" fill="#ffff99"/>
<path d="M547.2 55.1A81.6 81.6 0 0 0 544.0 56.6L545.6 59.8A78.0 78.0 0 0 1 548.7 58.3zM547.9 204.4A81.6 81.6 0 0 0 555.9 207.4L556.9 204.0A78.0 78.0 0 0 1 549.3 201.1z" fill="#cccccc"/>
<path d="M526.9 68.0A81.6 81.6 0 0 0 521.7 72.9L524.3 75.4A78.0 78.0 0 0 1 529.2 70.7zM503.5 102.4A81.6 81.6 0 0 0 501.6 108.5L505.1 109.4A78.0 78.0 0 0 1 506.9 103.6zM646.8 177.0A81.6 81.6 0 0 0 648.0 175.2L645.1 173.2A78.0 78.0 0 0 1 643.9 174.9z" fill="#a6cee3"/>
<path d="M517.9 77.1A81.6 81.6 0 0 0 511.2 86.4L514.3 88.3A78.0 78.0 0 0 1 520.6 79.5z" fill="#984ea3"/>
<path d="M511.2 86.4A81.6 81.6 0 0 0 509.0 90.0L512.2 91.8A78.0 78.0 0 0 1 514.3 88.3zM530.2 193.9A81.6 81.6 0 0 0 532.4 195.6L534.6 192.7A78.0 78.0 0 0 1 532.4 191.1z" fill="#66a61e"/>
<path d="M507.7 92.6A81.6 81.6 0 0 0 506.1 95.8L509.4 97.3A78.0 78.0 0 0 1 510.9 94.2zM516.1 179.8A81.6 81.6 0 0 0 523.7 188.3L526.2 185.7A78.0 78.0 0 0 1 518.9 177.6z" fill="#777777"/>
<path d="M500.7 111.9A81.6 81.6 0 0 0 499.1 123.2L502.6 123.5A78.0 78.0 0 0 1 504.2 112.7zM499.0 134.6A81.6 81.6 0 0 0 502.6 154.1L506.0 153.1A78.0 78.0 0 0 1 502.5 134.4zM586.8 210.9A81.6 81.6 0 0 0 601.5 208.4L600.6 204.9A78.0 78.0 0 0 1 586.5 207.4zM648.0 175.2A81.6 81.6 0 0 0 653.7 165.4L650.5 163.8A78.0 78.0 0 0 1 645.1 173.2zM660.4 145.9A81.6 81.6 0 0 0 661.6 137.4L658.0 137.1A78.0 78.0 0 0 1 656.8 145.2z" fill="#f0f0f0"/>
<path d="M538.4 199.5A81.6 81.6 0 0 0 545.9 203.6L547.4 200.3A78.0 78.0 0 0 1 540.2 196.5z" fill="#f781bf"/>
<path d="M569.0 210.4A81.6 81.6 0 0 0 573.3 210.9L573.6 207.3A78.0 78.0 0 0 1 569.5 206.8zM643.4 181.5A81.6 81.6 0 0 0 646.8 177.0L643.9 174.9A78.0 78.0 0 0 1 640.6 179.2zM658.0 154.8A81.6 81.6 0 0 0 659.6 149.3L656.1 148.5A78.0 78.0 0 0 1 654.6 153.7z" fill="#7570b3"/>
<path d="M622.4 199.5A81.6 81.6 0 0 0 625.4 197.6L623.5 194.6A78.0 78.0 0 0 1 620.6 196.5zM653.7 165.4A81.6 81.6 0 0 0 655.5 161.5L652.2 160.1A78.0 78.0 0 0 1 650.5 163.8zM661.9 133.2A81.6 81.6 0 0 0 662.0 129.6L658.4 129.6A78.0 78.0 0 0 1 658.3 133.0z" fill="#fddaec"/>
<path d="M635.5 189.8A81.6 81.6 0 0 0 643.4 181.5L640.6 179.2A78.0 78.0 0 0 1 633.1 187.1z" fill="#ff7f00"/>
<path d="M655.5 161.5A81.6 81.6 0 0 0 657.1 157.5L653.7 156.3A78.0 78.0 0 0 1 652.2 160.1z" fill="#e41a1c"/>
<path d="M580.4 129.6L580.6 129.4M580.7 129.5L580.9 129.3M581.0 129.6L631.3 130.3M581.0 129.6L643.3 128.7M581.0 129.5L612.3 125.0M612.6 128.2L634.1 127.3M611.7 121.8L621.0 119.5M621.6 122.1L630.4 120.6M630.9 124.1L631.6 124.0M631.7 125.0L631.9 124.9M631.5 123.1L632.4 123.0M629.6 117.0L631.0 116.7M620.2 116.9L630.5 113.6M580.9 129.4L618.6 112.4M619.0 113.5L624.5 111.2M618.1 111.4L631.0 105.2M580.8 129.2L601.9 105.8M604.9 109.0L611.9 103.1M616.1 109.1L621.4 106.1M622.5 108.2L624.1 107.4M620.1 104.0L620.3 103.9M622.2 107.0L624.5 105.7M618.3 100.9L619.5 100.0M621.2 102.3L621.7 102.0M617.8 97.8L619.4 96.4M621.1 98.5L623.1 97.0M617.6 94.3L618.4 93.5M619.2 94.3L619.4 94.1M617.6 92.7L618.0 92.4M606.7 97.9L609.9 94.2M611.4 95.5L612.6 94.1M608.3 93.0L608.4 92.8M598.5 103.1L609.4 87.3M580.7 129.1L613.9 79.0M580.7 129.1L592.8 109.5M593.3 109.8L614.0 78.0M592.3 109.2L603.5 89.9M604.7 90.6L606.5 87.7M602.2 89.2L602.8 88.2M603.6 88.7L606.6 83.4M601.9 87.8L604.0 83.6M580.5 129.3L583.9 117.1M584.8 117.4L599.2 77.8M583.0 116.9L583.4 115.3M584.1 115.5L592.3 84.5M582.6 115.1L582.8 113.9M583.4 114.0L591.6 71.6M582.1 113.8L582.2 112.8M583.2 112.9L587.9 85.3M581.2 112.7L581.3 111.7M582.5 111.8L585.7 84.6M580.1 111.6L580.1 110.7M581.9 110.7L584.0 85.8M578.2 110.8L578.1 109.9M580.8 109.8L581.2 85.8M582.7 85.8L583.5 70.4M579.8 85.8L579.7 82.2M581.8 82.3L581.9 77.5M577.6 82.3L577.5 79.9M575.4 110.4L575.2 109.5M578.0 109.0L575.4 86.0M572.4 110.4L572.1 109.6M576.3 108.4L572.0 86.1M568.2 111.7L567.8 111.0M572.9 108.4L565.8 88.1M568.6 87.2L567.5 83.2M563.0 89.2L562.0 86.9M564.9 85.7L562.9 80.0M559.2 88.2L558.7 87.2M560.8 86.2L559.2 82.7M556.6 88.3L555.5 86.5M563.4 114.8L562.8 114.3M565.8 111.4L558.0 101.7M560.9 99.6L548.6 80.5M555.3 104.1L549.0 97.8M552.5 94.7L551.3 93.1M553.2 91.7L550.6 87.9M551.9 87.0L538.0 66.3M549.3 88.9L548.5 87.8M549.5 87.0L549.0 86.3M547.4 88.6L546.8 87.9M549.4 94.7L529.8 72.6M545.9 101.3L542.6 98.6M543.9 97.1L541.1 94.6M542.8 92.8L542.8 92.8M544.2 91.3L542.9 90.0M541.4 94.3L540.1 93.1M539.6 96.5L536.8 94.3M541.4 100.2L530.1 91.6M560.4 117.6L559.7 117.2M560.5 116.0L539.9 102.0M559.0 118.5L558.3 118.1M559.0 116.8L530.6 99.7M557.6 119.5L556.9 119.1M557.8 117.3L532.6 103.7M556.2 121.0L555.4 120.7M556.7 117.7L525.9 102.3M554.5 123.9L553.8 123.7M555.5 118.6L543.0 113.1M553.1 129.1L552.4 129.0M553.2 123.0L541.5 120.2M542.0 118.5L531.9 115.6M541.2 121.8L540.1 121.6M552.9 135.1L552.2 135.3M551.6 129.5L546.7 129.5M546.9 126.5L527.5 124.6M527.7 123.2L527.3 123.1M527.4 126.1L525.2 126.0M546.9 132.6L535.5 133.6M535.3 129.3L533.1 129.3M536.1 137.8L534.6 138.1M534.1 134.0L533.6 134.0M533.5 132.3L530.2 132.5M533.8 135.8L530.2 136.3M530.0 134.1L527.9 134.3M530.6 138.4L530.3 138.5M530.0 136.6L529.5 136.7M530.7 140.3L528.6 140.7M535.6 142.1L528.0 144.3M553.9 140.8L553.2 141.1M552.4 139.0L534.6 145.0M554.2 143.1L553.5 143.5M552.4 141.1L530.6 150.1M554.8 145.7L554.2 146.1M552.1 142.1L533.3 150.4M556.9 149.8L556.4 150.2M552.6 144.8L551.3 145.6M550.5 144.2L537.8 150.4M552.1 147.0L539.0 155.0M537.9 153.0L533.8 155.2M540.3 157.0L537.2 159.2M561.1 154.7L560.7 155.3M556.3 151.2L548.7 158.0M547.3 156.3L537.5 164.2M550.1 159.5L543.6 166.0M542.4 164.8L540.1 166.9M544.8 167.2L544.2 167.9M565.8 158.5L565.5 159.1M561.8 157.0L555.6 166.1M554.3 165.2L553.2 166.7M551.6 165.5L547.5 170.5M554.9 167.9L549.6 175.7M557.0 167.0L552.8 173.8M569.4 160.8L569.1 161.4M563.5 158.9L553.9 175.6M575.1 163.0L575.0 163.6M570.0 162.4L568.0 168.5M565.8 167.7L564.5 171.1M561.7 170.0L560.0 173.8M558.2 172.9L557.5 174.2M561.9 174.6L561.4 175.8M567.2 172.1L565.2 178.6M570.3 169.2L567.7 179.3M580.2 164.1L580.2 164.7M573.4 164.0L570.6 178.2M587.0 164.1L587.2 164.8M579.8 165.4L579.8 170.2M576.1 170.0L575.9 171.8M573.8 171.5L572.1 182.1M578.1 171.9L577.8 176.3M583.4 170.1L583.5 170.9M580.8 171.0L580.9 174.3M586.1 170.6L586.4 172.4M585.0 172.5L585.1 173.5M587.7 172.2L589.6 183.2M594.2 162.7L594.4 163.3M588.7 165.1L590.1 171.3M599.8 160.5L600.2 161.1M593.5 164.4L595.1 168.5M593.3 169.1L597.0 180.6M596.8 167.8L597.4 169.1M595.0 170.0L597.8 177.8M599.7 168.0L601.2 171.1M606.1 156.5L606.5 157.0M601.4 161.1L603.4 164.1M601.2 165.4L602.9 168.4M605.5 162.6L606.1 163.4M603.4 165.2L609.3 174.3M608.6 174.7L613.2 182.1M610.0 173.8L610.3 174.4M609.4 175.0L612.8 180.3M611.3 173.7L612.0 174.7M610.3 175.8L611.9 178.3M613.6 173.6L613.7 173.8M612.4 174.7L613.0 175.5M615.0 172.8L616.1 174.2M608.6 161.4L616.4 170.2M610.9 152.0L611.4 152.4M609.3 155.1L611.5 157.0M610.4 158.3L613.8 161.6M612.6 155.8L621.4 162.9M613.3 149.6L613.8 150.0M611.7 153.2L615.3 156.0M615.7 146.5L616.3 146.8M614.5 150.2L614.9 150.5M614.3 151.4L617.5 153.4M615.5 149.5L621.2 152.8M617.8 143.3L618.4 143.5M616.8 147.3L618.5 148.2M617.9 149.4L632.0 156.9M619.1 146.9L621.0 147.8M619.6 139.5L620.2 139.7M619.6 141.9L622.8 142.9M620.7 137.5L621.4 137.6M621.0 139.3L635.0 142.7M621.7 135.8L622.3 135.9M621.9 138.0L637.0 141.1M622.6 133.8L623.2 133.9M623.1 134.6L623.8 134.6M623.2 133.2L636.4 134.4M581.0 129.6A0.6 0.6 0 0 0 580.7 129.1M612.6 128.2A32.2 32.2 0 0 0 611.7 121.8M621.6 122.1A41.8 41.8 0 0 0 620.2 116.9M630.9 124.1A50.8 50.8 0 0 0 629.6 117.0M631.7 125.0A51.5 51.5 0 0 0 631.5 123.1M619.0 113.5A41.9 41.9 0 0 0 618.1 111.4M604.9 109.0A32.1 32.1 0 0 0 598.5 103.1M616.1 109.1A41.2 41.2 0 0 0 606.7 97.9M622.5 108.2A47.3 47.3 0 0 0 620.1 104.0M622.2 107.0A47.5 47.5 0 0 0 618.3 100.9M621.2 102.3A49.1 49.1 0 0 0 617.8 97.8M621.1 98.5A51.2 51.2 0 0 0 617.6 94.3M619.2 94.3A52.4 52.4 0 0 0 617.6 92.7M611.4 95.5A46.1 46.1 0 0 0 608.3 93.0M593.3 109.8A23.6 23.6 0 0 0 592.3 109.2M604.7 90.6A45.9 45.9 0 0 0 602.2 89.2M603.6 88.7A47.0 47.0 0 0 0 601.9 87.8M584.8 117.4A13.0 13.0 0 0 0 583.0 116.9M584.1 115.5A14.6 14.6 0 0 0 582.6 115.1M583.4 114.0A15.8 15.8 0 0 0 582.1 113.8M583.2 112.9A16.9 16.9 0 0 0 581.2 112.7M582.5 111.8A18.0 18.0 0 0 0 580.1 111.6M581.9 110.7A18.9 18.9 0 0 0 578.2 110.8M580.8 109.8A19.9 19.9 0 0 0 575.4 110.4M582.7 85.8A43.8 43.8 0 0 0 579.8 85.8M581.8 82.3A47.4 47.4 0 0 0 577.6 82.3M578.0 109.0A20.8 20.8 0 0 0 572.4 110.4M576.3 108.4A21.6 21.6 0 0 0 568.2 111.7M572.9 108.4A22.5 22.5 0 0 0 563.4 114.8M568.6 87.2A44.0 44.0 0 0 0 563.0 89.2M564.9 85.7A46.5 46.5 0 0 0 559.2 88.2M560.8 86.2A47.6 47.6 0 0 0 556.6 88.3M565.8 111.4A23.3 23.3 0 0 0 560.4 117.6M560.9 99.6A35.8 35.8 0 0 0 555.3 104.1M552.5 94.7A44.7 44.7 0 0 0 545.9 101.3M553.2 91.7A46.7 46.7 0 0 0 549.4 94.7M551.9 87.0A51.3 51.3 0 0 0 549.3 88.9M549.5 87.0A52.6 52.6 0 0 0 547.4 88.6M543.9 97.1A48.9 48.9 0 0 0 541.4 100.2M542.8 92.8A52.6 52.6 0 0 0 539.6 96.5M544.2 91.3A52.6 52.6 0 0 0 541.4 94.3M560.5 116.0A24.1 24.1 0 0 0 559.0 118.5M559.0 116.8A24.9 24.9 0 0 0 557.6 119.5M557.8 117.3A25.7 25.7 0 0 0 556.2 121.0M556.7 117.7A26.5 26.5 0 0 0 554.5 123.9M555.5 118.6A27.3 27.3 0 0 0 553.1 129.1M553.2 123.0A28.0 28.0 0 0 0 552.9 135.1M542.0 118.5A40.0 40.0 0 0 0 541.2 121.8M551.6 129.5A28.8 28.8 0 0 0 553.9 140.8M546.9 126.5A33.7 33.7 0 0 0 546.9 132.6M527.7 123.2A53.1 53.1 0 0 0 527.4 126.1M535.3 129.3A45.1 45.1 0 0 0 536.1 137.8M534.1 134.0A46.6 46.6 0 0 0 535.6 142.1M533.5 132.3A47.0 47.0 0 0 0 533.8 135.8M530.0 134.1A50.6 50.6 0 0 0 530.6 138.4M530.0 136.6A50.9 50.9 0 0 0 530.7 140.3M552.4 139.0A29.5 29.5 0 0 0 554.2 143.1M552.4 141.1A30.2 30.2 0 0 0 554.8 145.7M552.1 142.1A31.0 31.0 0 0 0 556.9 149.8M552.6 144.8A31.7 31.7 0 0 0 561.1 154.7M550.5 144.2A33.2 33.2 0 0 0 552.1 147.0M537.9 153.0A48.5 48.5 0 0 0 540.3 157.0M556.3 151.2A32.4 32.4 0 0 0 565.8 158.5M547.3 156.3A42.6 42.6 0 0 0 550.1 159.5M542.4 164.8A51.8 51.8 0 0 0 544.8 167.2M561.8 157.0A33.1 33.1 0 0 0 569.4 160.8M554.3 165.2A44.1 44.1 0 0 0 557.0 167.0M551.6 165.5A46.0 46.0 0 0 0 554.9 167.9M563.5 158.9A33.8 33.8 0 0 0 575.1 163.0M570.0 162.4A34.5 34.5 0 0 0 580.2 164.1M565.8 167.7A40.8 40.8 0 0 0 570.3 169.2M561.7 170.0A44.5 44.5 0 0 0 567.2 172.1M558.2 172.9A48.6 48.6 0 0 0 561.9 174.6M573.4 164.0A35.1 35.1 0 0 0 587.0 164.1M579.8 165.4A35.8 35.8 0 0 0 594.2 162.7M576.1 170.0A40.6 40.6 0 0 0 583.4 170.1M573.8 171.5A42.4 42.4 0 0 0 578.1 171.9M580.8 171.0A41.4 41.4 0 0 0 586.1 170.6M585.0 172.5A43.2 43.2 0 0 0 587.7 172.2M588.7 165.1A36.5 36.5 0 0 0 599.8 160.5M593.5 164.4A37.2 37.2 0 0 0 606.1 156.5M593.3 169.1A41.6 41.6 0 0 0 596.8 167.8M595.0 170.0A43.0 43.0 0 0 0 599.7 168.0M601.4 161.1A37.8 37.8 0 0 0 610.9 152.0M601.2 165.4A41.4 41.4 0 0 0 605.5 162.6M603.4 165.2A42.4 42.4 0 0 0 608.6 161.4M608.6 174.7A53.2 53.2 0 0 0 610.0 173.8M609.4 175.0A53.9 53.9 0 0 0 611.3 173.7M610.3 175.8A55.1 55.1 0 0 0 613.6 173.6M612.4 174.7A55.3 55.3 0 0 0 615.0 172.8M609.3 155.1A38.5 38.5 0 0 0 613.3 149.6M610.4 158.3A41.5 41.5 0 0 0 612.6 155.8M611.7 153.2A39.1 39.1 0 0 0 615.7 146.5M614.5 150.2A39.8 39.8 0 0 0 617.8 143.3M614.3 151.4A40.3 40.3 0 0 0 615.5 149.5M616.8 147.3A40.4 40.4 0 0 0 619.6 139.5M617.9 149.4A42.4 42.4 0 0 0 619.1 146.9M619.6 141.9A41.1 41.1 0 0 0 620.7 137.5M621.0 139.3A41.7 41.7 0 0 0 621.7 135.8M621.9 138.0A42.4 42.4 0 0 0 622.6 133.8M623.1 134.6A43.0 43.0 0 0 0 623.2 133.2" fill="none" stroke="#000" stroke-width="0.42"/>
<path d="M631.3 130.3L640.1 131.7L648.9 132.8L656.5 133.7L656.6 128.5L649.0 129.0L640.1 129.5zM643.3 128.7L647.9 128.8L652.6 128.8L656.6 128.8L656.6 128.2L652.6 128.3L647.9 128.5zM634.1 127.3L642.0 127.9L649.9 128.2L656.6 128.5L656.4 123.4L649.7 124.5L641.9 125.7zM631.9 124.9L640.5 124.6L649.0 124.1L656.4 123.8L656.1 121.2L648.9 122.3L640.4 123.5zM632.4 123.0L640.7 122.6L649.0 122.0L656.2 121.5L655.5 116.9L654.6 112.3L648.0 115.3L640.1 118.7zM631.0 116.7L639.3 115.4L647.6 113.9L654.7 112.6L653.4 107.9L646.7 110.4L638.8 113.4zM630.5 113.6L638.6 111.8L646.6 109.8L653.5 108.2L652.3 104.2L645.7 107.0L638.1 110.1zM624.5 111.2L634.4 109.1L644.1 106.6L652.4 104.5L649.4 97.3L641.9 101.4L633.2 106.2zM631.0 105.2L637.5 102.6L644.0 99.9L649.6 97.6L648.3 95.1L643.1 98.0L637.0 101.5zM624.1 107.4L632.6 103.2L641.1 99.0L648.5 95.3L648.1 94.6L640.9 98.4L632.5 102.9zM624.5 105.7L632.9 102.1L641.1 98.2L648.2 94.9L645.8 90.5L639.4 95.0L631.8 100.2zM621.7 102.0L630.3 98.2L638.7 94.2L645.9 90.7L643.7 87.2L641.3 83.8L635.3 89.1L628.4 95.4zM623.1 97.0L629.6 92.5L636.0 87.9L641.5 84.0L640.6 82.9L635.3 87.1L629.2 92.0zM619.4 94.1L627.2 90.6L634.5 86.6L640.8 83.1L638.1 79.8L635.2 76.6L630.4 81.8L624.8 87.9zM618.0 92.4L624.1 87.0L630.2 81.6L635.4 76.9L633.8 75.3L629.1 80.4L623.5 86.4zM612.6 94.1L620.3 87.7L627.7 81.1L634.1 75.5L631.1 72.7L625.5 79.1L619.0 86.6zM608.4 92.8L616.7 86.0L624.5 78.9L631.3 72.9L627.6 69.8L623.7 66.9L619.1 74.6L613.6 83.7zM609.4 87.3L614.5 80.2L619.6 73.1L624.0 67.1L622.5 66.1L618.6 72.4L613.9 79.8zM613.9 79.0L617.0 74.6L620.1 70.1L622.8 66.3L622.1 65.8L619.6 69.8L616.7 74.4zM614.0 78.0L617.0 73.8L619.9 69.6L622.4 66.0L621.6 65.5L619.3 69.2L616.6 73.6zM606.5 87.7L612.0 80.0L617.3 72.3L621.9 65.7L618.3 63.5L614.7 70.7L610.5 79.1zM606.6 83.4L610.9 76.5L615.0 69.6L618.6 63.7L617.6 63.1L614.3 69.2L610.5 76.3zM604.0 83.6L609.1 76.6L613.8 69.4L617.9 63.3L613.8 61.1L609.5 59.2L607.7 66.4L605.6 74.8zM599.2 77.8L603.2 71.4L606.8 64.9L609.8 59.3L602.3 56.6L601.2 62.9L600.0 70.2zM592.3 84.5L596.1 74.8L599.6 65.1L602.6 56.7L596.3 55.1L595.1 63.9L593.6 74.1zM591.6 71.6L593.6 65.9L595.2 60.1L596.6 55.2L593.7 54.6L593.0 59.7L592.2 65.6zM587.9 85.3L590.1 74.5L592.2 63.8L594.0 54.6L590.6 54.1L589.7 63.4L588.7 74.3zM585.7 84.6L587.6 73.9L589.3 63.3L590.9 54.1L587.6 53.7L587.0 63.0L586.3 73.8zM584.0 85.8L585.4 74.6L586.7 63.4L587.9 53.8L585.2 53.6L584.8 63.2L584.3 74.5zM583.5 70.4L584.3 64.5L585.0 58.6L585.5 53.6L583.6 53.5L583.5 58.6L583.4 64.5zM581.9 77.5L582.7 69.1L583.4 60.7L583.9 53.5L579.9 53.4L580.5 60.6L581.0 69.0zM577.5 79.9L578.7 70.6L579.5 61.3L580.3 53.4L573.0 53.8L574.2 61.6L575.7 70.8zM575.4 86.0L574.7 74.7L573.9 63.4L573.3 53.7L568.2 54.4L570.4 63.8L572.7 74.9zM572.0 86.1L570.9 75.0L569.6 63.9L568.6 54.3L565.0 55.0L567.1 64.3L569.5 75.2zM567.5 83.2L567.0 73.2L566.0 63.3L565.3 54.9L561.0 55.9L556.8 57.1L560.0 65.0L563.6 74.1zM562.9 80.0L561.0 71.9L558.9 63.9L557.1 57.0L553.0 58.5L555.9 65.0L559.2 72.5zM559.2 82.7L557.4 74.0L555.1 65.6L553.3 58.4L549.3 60.0L545.4 61.9L549.4 68.2L554.1 75.5zM555.5 86.5L552.3 77.7L548.7 69.1L545.7 61.8L539.5 65.3L544.2 71.7L549.7 79.2zM548.6 80.5L545.6 75.0L542.5 69.7L539.8 65.1L537.9 66.3L541.1 70.6L544.7 75.6zM549.0 86.3L545.4 79.1L541.4 72.2L538.1 66.3L533.2 69.8L537.8 74.8L543.3 80.6zM546.8 87.9L542.2 81.4L537.5 75.1L533.4 69.6L529.8 72.7L534.8 77.3L540.6 82.7zM542.9 90.0L538.5 83.7L533.9 77.7L529.9 72.5L525.5 76.7L530.7 80.8L536.6 85.5zM540.1 93.1L535.2 87.1L530.1 81.4L525.8 76.5L522.2 80.4L527.5 84.3L533.7 88.8zM536.8 94.3L531.9 89.2L526.8 84.3L522.4 80.1L519.7 83.6L524.7 86.9L530.7 90.7zM530.1 91.6L526.5 88.7L522.9 85.8L519.8 83.3L519.4 84.0L522.6 86.3L526.3 89.0zM539.9 102.0L532.9 95.4L525.7 89.1L519.6 83.7L515.2 90.2L522.6 93.8L531.1 98.1zM530.6 99.7L525.3 96.2L519.9 92.8L515.4 89.9L514.6 91.3L519.3 93.8L524.9 96.9zM532.6 103.7L526.5 99.0L520.1 94.7L514.7 91.0L512.6 94.9L518.6 97.6L525.5 100.7zM525.9 102.3L521.3 99.5L516.7 96.9L512.7 94.6L511.8 96.4L516.0 98.3L520.9 100.4zM543.0 113.1L532.1 107.1L521.2 101.2L511.9 96.2L510.2 100.1L508.6 104.0L518.9 106.7L530.9 110.0zM531.9 115.6L523.8 111.1L515.7 107.2L508.7 103.8L507.3 108.0L506.2 112.4L513.8 113.5L522.8 114.7zM540.1 121.6L528.2 118.2L516.4 115.0L506.2 112.1L504.9 119.0L515.5 119.8L527.8 120.8zM527.3 123.1L519.5 121.4L511.7 119.9L505.0 118.7L504.6 122.0L511.4 122.4L519.4 122.9zM525.2 126.0L518.0 124.2L510.8 122.8L504.6 121.7L504.2 128.6L510.5 128.0L517.8 127.3zM533.1 129.3L523.0 128.9L512.9 128.6L504.2 128.3L504.2 130.1L512.9 129.8L523.0 129.6zM530.2 132.5L521.1 131.2L512.0 130.5L504.2 129.7L504.5 135.9L512.2 134.9L521.2 133.8zM527.9 134.3L519.7 134.7L511.5 135.2L504.4 135.6L504.5 136.9L511.6 136.1L519.7 135.2zM529.5 136.7L520.7 136.4L512.0 136.5L504.5 136.6L505.2 141.8L512.5 140.3L521.0 138.6zM528.6 140.7L520.3 140.7L512.1 141.1L505.1 141.4L506.3 147.4L513.0 145.4L520.8 143.2zM528.0 144.3L520.3 145.0L512.7 146.1L506.2 147.0L507.6 151.9L513.7 149.7L520.9 147.1zM534.6 145.0L525.1 147.2L515.6 149.6L507.5 151.6L509.5 157.5L517.0 153.8L525.9 149.5zM530.6 150.1L523.1 152.5L515.7 155.0L509.4 157.2L510.4 159.7L516.5 156.9L523.6 153.5zM533.3 150.4L525.2 153.5L517.2 156.7L510.3 159.4L511.1 161.3L517.8 158.1L525.6 154.3zM537.8 150.4L528.3 154.0L519.0 157.8L511.0 161.0L512.3 163.9L520.0 159.8L528.9 155.1zM533.8 155.2L526.1 157.9L518.6 161.0L512.2 163.6L515.6 169.7L521.1 165.5L527.6 160.5zM537.2 159.2L529.4 162.5L521.9 166.2L515.4 169.4L519.9 175.9L525.2 171.0L531.3 165.3zM537.5 164.2L531.2 168.1L525.0 172.2L519.7 175.7L521.8 178.3L526.5 174.1L532.1 169.2zM540.1 166.9L533.4 170.5L527.0 174.6L521.6 178.1L525.8 182.8L530.2 178.1L535.2 172.6zM544.2 167.9L537.5 172.9L531.1 178.1L525.6 182.6L528.5 185.4L531.5 188.1L535.4 182.1L540.0 175.2zM547.5 170.5L541.7 176.5L536.1 182.6L531.3 187.9L535.7 191.3L539.3 185.1L543.6 178.0zM549.6 175.7L544.4 181.0L539.6 186.4L535.4 191.1L539.3 193.8L542.5 188.4L546.1 182.1zM552.8 173.8L547.9 180.7L543.2 187.6L539.1 193.6L541.9 195.4L545.2 188.9L549.1 181.4zM553.9 175.6L549.5 182.4L545.3 189.3L541.6 195.2L543.2 196.1L546.4 190.0L550.2 182.8zM557.5 174.2L552.2 181.7L547.2 189.4L542.9 195.9L548.1 198.6L551.0 191.3L554.4 182.8zM561.4 175.8L556.4 183.7L551.8 191.7L547.8 198.5L553.7 201.0L556.0 193.4L558.8 184.7zM565.2 178.6L560.8 186.3L556.8 194.1L553.4 200.8L558.9 202.7L560.8 195.5L563.1 187.1zM567.7 179.3L564.3 187.4L561.3 195.6L558.6 202.6L563.4 203.9L564.7 196.5L566.3 188.0zM570.6 178.2L567.8 187.1L565.3 196.1L563.1 203.8L566.8 204.6L568.0 196.7L569.3 187.5zM572.1 182.1L570.0 189.9L568.1 197.8L566.5 204.5L569.9 205.1L570.6 198.2L571.5 190.2zM577.8 176.3L574.6 186.4L572.0 196.5L569.6 205.0L574.4 205.6L579.3 205.8L578.9 197.0L578.5 186.7zM580.9 174.3L580.1 185.3L579.5 196.3L579.0 205.8L584.7 205.7L583.5 196.3L582.3 185.3zM585.1 173.5L584.7 184.8L584.6 196.1L584.3 205.7L592.1 204.9L590.0 195.5L587.7 184.5zM589.6 183.2L590.2 190.8L591.1 198.4L591.8 204.9L596.8 204.0L594.8 197.7L592.4 190.4zM590.1 171.3L592.3 182.8L594.5 194.2L596.4 204.1L603.8 202.1L599.7 192.9L595.1 182.1zM597.0 180.6L599.3 188.2L601.5 195.7L603.5 202.2L604.7 201.8L602.4 195.5L599.8 188.0zM597.8 177.8L600.0 186.3L602.4 194.7L604.4 201.9L611.5 199.2L607.6 192.7L603.0 185.2zM601.2 171.1L604.6 181.1L608.2 190.9L611.2 199.3L617.5 196.2L612.6 188.6L607.1 179.8zM602.9 168.4L607.8 178.2L612.9 187.9L617.2 196.3L620.7 194.2L615.4 186.5L609.2 177.4zM613.2 182.1L615.7 186.5L618.3 190.7L620.5 194.4L621.2 194.0L618.8 190.4L616.1 186.3zM612.8 180.3L615.6 185.2L618.4 190.0L620.9 194.2L621.8 193.6L619.1 189.6L616.0 184.9zM611.9 178.3L615.3 183.7L618.7 189.1L621.6 193.7L622.1 193.4L619.1 188.8L615.5 183.6zM613.0 175.5L615.9 182.0L619.1 188.2L621.8 193.6L627.4 189.6L623.2 185.3L618.3 180.3zM616.1 174.2L619.9 179.7L623.8 185.1L627.1 189.8L630.2 187.3L626.1 183.3L621.3 178.6zM616.4 170.2L621.1 176.3L625.9 182.3L630.0 187.5L633.2 184.5L628.3 180.1L622.5 175.0zM613.8 161.6L620.4 169.8L627.2 177.8L633.0 184.7L638.5 178.9L631.1 173.7L622.6 167.5zM621.4 162.9L627.2 168.7L633.2 174.4L638.3 179.2L640.8 176.1L635.0 172.1L628.3 167.4zM615.3 156.0L624.2 163.1L633.0 170.2L640.6 176.4L642.0 174.5L634.0 168.9L624.7 162.4zM617.5 153.4L626.0 161.1L634.5 168.4L641.8 174.7L644.1 171.4L646.2 167.9L637.7 163.6L627.7 158.4zM621.2 152.8L629.9 158.2L638.6 163.6L646.1 168.2L647.3 166.2L639.5 162.1L630.4 157.4zM632.0 156.9L637.2 160.4L642.5 163.6L647.1 166.4L648.3 164.2L643.4 161.9L637.8 159.3zM621.0 147.8L630.4 153.8L640.0 159.5L648.2 164.5L650.1 160.3L651.9 156.0L642.6 153.5L631.9 150.5zM622.8 142.9L632.9 147.8L643.1 152.3L651.8 156.3L654.0 149.2L644.7 147.3L633.8 145.0zM635.0 142.7L641.6 145.3L648.2 147.6L653.9 149.5L654.9 145.4L649.0 144.5L642.0 143.4zM637.0 141.1L643.3 142.8L649.5 144.4L654.9 145.7L655.4 143.2L649.9 142.5L643.5 141.7zM623.8 134.6L634.8 137.9L645.9 140.9L655.3 143.5L656.3 136.8L646.5 136.1L635.2 135.3zM636.4 134.4L643.3 135.4L650.3 136.3L656.2 137.1L656.5 133.4L650.5 133.6L643.5 133.8z" fill="#000" stroke="#000" stroke-width="0.2"/>
<path d="M656.6 129.6A76.2 76.2 0 0 0 504.2 129.6L513.9 129.6A66.5 66.5 0 0 1 646.9 129.6zM504.2 129.6A76.2 76.2 0 0 0 656.6 129.6L646.9 129.6A66.5 66.5 0 0 1 513.9 129.6z" fill="#000"/>
<path d="M640.0 130.5L644.8 130.6M637.9 130.3L647.4 130.4M644.1 127.4L646.1 127.3M639.0 119.2L642.9 118.5M639.4 119.1L646.3 117.9M638.6 121.3L644.4 120.5M636.8 114.7L645.3 112.5M636.8 114.5L642.6 112.9M635.6 105.2L641.8 102.5M633.4 107.3L637.7 105.5M635.1 108.5L640.8 106.3M635.3 102.5L640.5 99.9M634.1 99.9L636.5 98.5M633.3 99.7L635.2 98.6M631.4 101.8L635.8 99.4M628.8 98.5L636.1 93.9M627.6 98.1L635.0 93.1M629.9 94.7L634.1 91.7M629.9 96.4L636.3 92.1M628.2 97.7L632.6 94.8M628.3 90.4L632.3 87.2M626.0 89.9L630.4 86.1M623.3 87.6L628.5 82.4M620.1 86.2L625.3 80.6M617.1 84.5L620.6 80.2M616.9 84.0L620.0 80.2M613.5 83.9L616.2 80.1M615.9 85.4L619.4 81.0M618.1 83.7L622.8 78.1M609.6 80.1L610.9 77.9M610.4 78.9L614.9 71.2M605.9 75.9L608.8 70.0M604.4 75.0L607.1 68.8M605.7 74.7L608.1 69.5M609.1 76.1L612.2 70.3M600.7 71.3L602.3 66.7M595.0 75.2L598.0 64.0M595.7 76.2L598.9 65.4M589.5 75.6L591.2 65.5M589.8 72.0L591.2 63.3M587.3 72.0L588.2 64.5M585.4 71.8L586.0 64.8M582.6 68.2L582.7 63.7M577.3 73.2L576.7 62.5M578.4 68.1L578.3 65.3M579.3 70.7L579.2 66.4M578.4 72.8L578.1 64.7M572.3 73.1L571.5 67.8M573.3 77.7L572.2 69.9M572.7 72.1L571.6 64.2M570.6 75.4L568.9 66.3M571.0 77.1L569.0 65.9M567.3 74.1L565.7 67.4M567.4 75.6L565.7 68.5M565.1 74.8L562.7 65.8M561.1 72.7L560.4 70.7M555.1 77.1L552.8 72.3M553.0 73.3L550.9 69.0M556.0 72.4L555.0 70.2M554.6 73.1L552.1 67.8M557.1 74.0L556.3 72.2M550.1 78.2L547.9 74.5M549.8 77.0L547.3 72.7M551.2 78.7L548.0 73.2M544.9 81.9L542.6 78.8M544.6 80.5L541.8 76.7M542.7 79.5L541.4 77.8M541.5 82.9L540.1 81.1M538.2 84.2L534.2 79.9M538.4 86.2L536.1 83.9M532.4 91.7L530.3 90.0M530.5 97.6L525.6 94.5M531.2 97.7L523.8 92.9M532.5 96.5L529.0 94.1M530.6 96.3L528.8 95.0M525.1 98.6L522.2 97.0M530.3 109.4L521.2 105.7M531.0 110.7L525.4 108.6M532.3 107.8L524.9 104.4M529.8 110.1L526.0 108.7M531.8 107.5L519.9 102.0M523.2 111.2L517.8 109.5M524.1 111.1L517.3 108.8M523.5 112.3L520.6 111.4M524.5 113.0L516.9 110.7M526.9 120.0L516.8 118.1M526.1 121.0L519.5 120.0M524.7 119.3L521.9 118.8M526.5 119.8L519.4 118.5M518.2 122.8L513.8 122.3M516.1 125.4L513.9 125.2M521.8 133.4L517.9 133.6M521.9 144.2L515.8 145.7M527.8 149.4L522.8 151.3M527.6 149.1L520.6 151.7M527.9 147.5L521.2 149.9M525.8 153.9L521.1 156.0M526.3 159.7L523.6 161.2M528.2 160.2L525.5 161.7M526.5 158.9L522.9 160.9M532.2 164.8L528.7 167.3M530.5 165.0L528.5 166.4M532.7 172.2L530.3 174.3M536.0 170.7L531.3 175.0M537.5 175.9L535.9 177.7M539.2 177.0L537.2 179.3M553.0 181.3L549.3 188.3M553.9 181.4L549.8 189.4M558.8 183.1L555.4 191.8M557.5 183.7L555.0 189.5M560.5 185.4L559.8 187.4M561.9 188.5L560.4 193.2M560.5 186.2L559.1 190.2M564.2 187.7L563.5 190.5M566.5 187.2L565.9 189.6M569.0 184.7L567.4 192.2M570.5 188.8L569.8 193.1M570.9 191.0L570.1 195.8M576.5 183.9L576.1 188.4M576.9 187.0L576.6 192.9M576.2 188.0L575.9 191.9M573.8 184.5L572.8 193.1M574.6 185.6L573.9 191.9M582.5 188.0L582.8 196.1M582.5 188.0L582.6 190.1M581.9 184.3L582.1 190.2M584.9 182.8L586.2 197.3M586.0 181.7L587.0 190.6M585.0 188.0L585.5 194.9M587.2 185.6L588.2 194.1M592.1 188.5L593.3 194.8M592.0 190.0L592.7 193.3M594.8 182.0L596.5 188.0M594.0 182.0L596.2 190.3M594.7 185.5L596.3 191.7M596.1 181.9L597.2 185.8M603.2 184.6L604.0 186.6M602.8 183.4L604.1 186.6M601.8 183.8L602.7 186.2M604.6 178.8L607.5 184.7M606.5 181.8L610.0 188.7M603.8 178.7L607.0 185.4M605.6 179.2L609.9 187.8M607.8 175.1L612.4 182.8M608.2 177.0L614.5 187.7M621.2 178.0L622.6 179.7M623.2 168.6L626.9 172.0M624.5 169.7L630.0 174.7M628.6 169.3L630.6 171.0M622.3 160.6L627.4 164.4M627.4 159.9L630.6 162.0M624.1 160.3L629.7 164.2M628.1 159.0L632.2 161.5M627.3 162.5L635.7 168.4M628.5 157.2L635.4 161.1M628.3 151.1L635.9 154.5M631.3 150.8L640.9 154.8M629.5 153.3L640.2 158.5M633.0 151.9L641.3 155.4M631.7 144.6L639.1 146.8M631.9 146.2L642.5 149.6M631.8 144.5L637.9 146.3M633.7 147.3L640.0 149.4M640.3 143.5L642.4 144.0M632.3 136.3L645.0 138.0M634.8 136.8L641.0 137.6M636.6 138.7L641.6 139.5M632.2 137.1L641.3 138.4" stroke="#fff" stroke-width="0.35" stroke-opacity="0.8"/>
<text x="581.2" y="140.3" text-anchor="middle">5,393 HSCs</text>
<text x="278.3" y="231" text-anchor="middle">HSC clonal groups with</text>
<text x="276.3" y="240.2" text-anchor="middle">stochastic cell state (48 clonal groups)</text>
<text x="414.3" y="231" text-anchor="middle">HSC clonal groups with cell state</text>
<text x="414.3" y="240.2" text-anchor="middle">preference (30 clonal groups)</text>
<path d="M199.7 246.1H361.6M363.2 246.1H463.8" stroke="#3a3a3a" stroke-width="0.8"/>
<rect x="200.2" y="252.5" width="264.80" height="146.50" fill="#451a5b"/>
<rect x="363.15" y="252.50" width="3.39" height="10.46" fill="#35b779"/>
<rect x="366.55" y="252.50" width="3.39" height="10.46" fill="#fde725"/>
<rect x="454.82" y="252.50" width="3.39" height="10.46" fill="#35b779"/>
<rect x="369.94" y="262.96" width="3.39" height="10.46" fill="#22a884"/>
<rect x="373.34" y="262.96" width="3.39" height="10.46" fill="#6ece58"/>
<rect x="376.73" y="273.43" width="3.39" height="10.46" fill="#35b779"/>
<rect x="380.13" y="283.89" width="3.39" height="10.46" fill="#22a884"/>
<rect x="383.52" y="294.36" width="3.39" height="10.46" fill="#dfe318"/>
<rect x="386.92" y="304.82" width="3.39" height="10.46" fill="#35b779"/>
<rect x="390.31" y="304.82" width="3.39" height="10.46" fill="#6ece58"/>
<rect x="393.71" y="304.82" width="3.39" height="10.46" fill="#fde725"/>
<rect x="397.10" y="315.29" width="3.39" height="10.46" fill="#35b779"/>
<rect x="400.50" y="315.29" width="3.39" height="10.46" fill="#fde725"/>
<rect x="403.89" y="325.75" width="3.39" height="10.46" fill="#35b779"/>
<rect x="407.29" y="325.75" width="3.39" height="10.46" fill="#6ece58"/>
<rect x="410.68" y="336.21" width="3.39" height="10.46" fill="#35b779"/>
<rect x="414.08" y="336.21" width="3.39" height="10.46" fill="#6ece58"/>
<rect x="417.47" y="346.68" width="3.39" height="10.46" fill="#35b779"/>
<rect x="420.87" y="346.68" width="3.39" height="10.46" fill="#6ece58"/>
<rect x="424.26" y="357.14" width="3.39" height="10.46" fill="#35b779"/>
<rect x="427.66" y="357.14" width="3.39" height="10.46" fill="#6ece58"/>
<rect x="431.05" y="357.14" width="3.39" height="10.46" fill="#6ece58"/>
<rect x="434.45" y="357.14" width="3.39" height="10.46" fill="#6ece58"/>
<rect x="437.84" y="357.14" width="3.39" height="10.46" fill="#fde725"/>
<rect x="441.24" y="367.61" width="3.39" height="10.46" fill="#35b779"/>
<rect x="444.63" y="367.61" width="3.39" height="10.46" fill="#fde725"/>
<rect x="448.03" y="378.07" width="3.39" height="10.46" fill="#35b779"/>
<rect x="451.42" y="388.54" width="3.39" height="10.46" fill="#35b779"/>
<rect x="454.82" y="388.54" width="3.39" height="10.46" fill="#6ece58"/>
<rect x="458.21" y="388.54" width="3.39" height="10.46" fill="#fde725"/>
<rect x="461.61" y="388.54" width="3.39" height="10.46" fill="#fde725"/>
<path d="M203.59 252.5V399.0M206.99 252.5V399.0M210.38 252.5V399.0M213.78 252.5V399.0M217.17 252.5V399.0M220.57 252.5V399.0M223.96 252.5V399.0M227.36 252.5V399.0M230.75 252.5V399.0M234.15 252.5V399.0M237.54 252.5V399.0M240.94 252.5V399.0M244.33 252.5V399.0M247.73 252.5V399.0M251.12 252.5V399.0M254.52 252.5V399.0M257.91 252.5V399.0M261.31 252.5V399.0M264.70 252.5V399.0M268.10 252.5V399.0M271.49 252.5V399.0M274.89 252.5V399.0M278.28 252.5V399.0M281.68 252.5V399.0M285.07 252.5V399.0M288.47 252.5V399.0M291.86 252.5V399.0M295.26 252.5V399.0M298.65 252.5V399.0M302.05 252.5V399.0M305.44 252.5V399.0M308.84 252.5V399.0M312.23 252.5V399.0M315.63 252.5V399.0M319.02 252.5V399.0M322.42 252.5V399.0M325.81 252.5V399.0M329.21 252.5V399.0M332.60 252.5V399.0M335.99 252.5V399.0M339.39 252.5V399.0M342.78 252.5V399.0M346.18 252.5V399.0M349.57 252.5V399.0M352.97 252.5V399.0M356.36 252.5V399.0M359.76 252.5V399.0M363.15 252.5V399.0M366.55 252.5V399.0M369.94 252.5V399.0M373.34 252.5V399.0M376.73 252.5V399.0M380.13 252.5V399.0M383.52 252.5V399.0M386.92 252.5V399.0M390.31 252.5V399.0M393.71 252.5V399.0M397.10 252.5V399.0M400.50 252.5V399.0M403.89 252.5V399.0M407.29 252.5V399.0M410.68 252.5V399.0M414.08 252.5V399.0M417.47 252.5V399.0M420.87 252.5V399.0M424.26 252.5V399.0M427.66 252.5V399.0M431.05 252.5V399.0M434.45 252.5V399.0M437.84 252.5V399.0M441.24 252.5V399.0M444.63 252.5V399.0M448.03 252.5V399.0M451.42 252.5V399.0M454.82 252.5V399.0M458.21 252.5V399.0M461.61 252.5V399.0M200.2 262.96H465.0M200.2 273.43H465.0M200.2 283.89H465.0M200.2 294.36H465.0M200.2 304.82H465.0M200.2 315.29H465.0M200.2 325.75H465.0M200.2 336.21H465.0M200.2 346.68H465.0M200.2 357.14H465.0M200.2 367.61H465.0M200.2 378.07H465.0M200.2 388.54H465.0" stroke="#ffffff" stroke-opacity="0.2" stroke-width="0.6"/>
<text x="197.8" y="259.9" text-anchor="end">HSC0</text>
<text x="197.8" y="270.4" text-anchor="end">HSC1</text>
<text x="197.8" y="280.9" text-anchor="end">HSC2</text>
<text x="197.8" y="291.3" text-anchor="end">HSC3</text>
<text x="197.8" y="301.8" text-anchor="end">HSC4</text>
<text x="197.8" y="312.3" text-anchor="end">HSC5</text>
<text x="197.8" y="322.7" text-anchor="end">HSC6</text>
<text x="197.8" y="333.2" text-anchor="end">HSC7</text>
<text x="197.8" y="343.6" text-anchor="end">HSC8</text>
<text x="197.8" y="354.1" text-anchor="end">HSC9</text>
<text x="197.8" y="364.6" text-anchor="end">HSC10</text>
<text x="197.8" y="375" text-anchor="end">HSC11</text>
<text x="197.8" y="385.5" text-anchor="end">HSC12</text>
<text x="197.8" y="396" text-anchor="end">HSC13</text>
<text x="0" y="0" text-anchor="end" transform="translate(377.34 401.3) rotate(-90)">C73</text>
<text x="0" y="0" text-anchor="end" transform="translate(384.13 401.3) rotate(-90)">C3</text>
<text x="0" y="0" text-anchor="end" transform="translate(390.92 401.3) rotate(-90)">C27</text>
<text x="0" y="0" text-anchor="end" transform="translate(397.71 401.3) rotate(-90)">C69</text>
<text x="0" y="0" text-anchor="end" transform="translate(404.49 401.3) rotate(-90)">C33</text>
<text x="0" y="0" text-anchor="end" transform="translate(411.28 401.3) rotate(-90)">C72</text>
<text x="0" y="0" text-anchor="end" transform="translate(418.07 401.3) rotate(-90)">C32</text>
<text x="0" y="0" text-anchor="end" transform="translate(424.86 401.3) rotate(-90)">C2</text>
<text x="0" y="0" text-anchor="end" transform="translate(431.65 401.3) rotate(-90)">C5</text>
<text x="0" y="0" text-anchor="end" transform="translate(438.44 401.3) rotate(-90)">C8</text>
<text x="0" y="0" text-anchor="end" transform="translate(445.23 401.3) rotate(-90)">C46</text>
<text x="0" y="0" text-anchor="end" transform="translate(452.02 401.3) rotate(-90)">C40</text>
<text x="0" y="0" text-anchor="end" transform="translate(458.81 401.3) rotate(-90)">C28</text>
<text x="0" y="0" text-anchor="end" transform="translate(465.60 401.3) rotate(-90)">C29</text>
<defs><linearGradient id="gVir"><stop offset="0.000" stop-color="#440154"/><stop offset="0.111" stop-color="#482878"/><stop offset="0.222" stop-color="#3e4989"/><stop offset="0.333" stop-color="#31688e"/><stop offset="0.444" stop-color="#26828e"/><stop offset="0.556" stop-color="#1f9e89"/><stop offset="0.667" stop-color="#35b779"/><stop offset="0.778" stop-color="#6ece58"/><stop offset="0.889" stop-color="#b5de2b"/><stop offset="1.000" stop-color="#fde725"/></linearGradient></defs>
<rect x="204.2" y="404.8" width="28.1" height="5.9" fill="url(#gVir)"/>
<path d="M205.3 410.7v-0.9M210.8 410.7v-0.9M216.2 410.7v-0.9M221.7 410.7v-0.9M227.2 410.7v-0.9" stroke="#fff" stroke-width="0.4"/>
<text x="205.3" y="418.2" text-anchor="middle">0</text>
<text x="216.2" y="418.2" text-anchor="middle">1</text>
<text x="227.2" y="418.2" text-anchor="middle">2</text>
<text x="236.3" y="412.3">−log<tspan font-size="5.5" dy="1.8">10</tspan><tspan dy="-1.8">(FDR)</tspan></text>
<path d="M558.0 352.5h0M578.8 357.6h0M558.4 336.2h0M588.2 335.4h0M565.6 339.5h0M574.8 349.4h0M571.9 330.0h0M600.1 336.2h0M588.5 354.8h0M562.6 335.6h0M587.4 341.3h0M550.0 328.6h0M560.1 317.0h0M573.2 330.8h0M579.9 346.4h0M573.6 348.8h0M607.9 343.8h0M572.2 368.8h0M546.4 351.1h0M576.8 347.3h0M603.9 354.7h0M557.2 325.7h0M554.7 330.0h0M588.7 336.4h0M560.3 395.8h0M550.8 335.2h0M543.5 345.8h0M575.5 309.4h0M548.3 345.2h0M575.8 325.0h0M548.0 299.4h0M557.8 314.2h0M568.4 327.2h0M574.2 354.4h0M560.6 362.5h0M607.0 365.0h0M527.2 303.4h0M594.1 342.0h0M586.5 350.9h0M561.9 325.4h0M578.8 343.9h0M574.3 357.9h0M574.3 341.2h0M570.6 319.6h0M561.9 330.0h0M611.9 368.8h0M570.8 358.0h0M570.7 286.5h0M543.2 340.8h0M587.8 365.3h0M588.8 353.7h0M550.5 324.2h0M580.1 349.3h0M557.5 339.1h0M571.6 338.5h0M554.0 380.2h0M550.0 365.7h0M559.6 343.4h0M534.5 308.2h0M579.1 341.6h0M566.2 344.2h0M556.2 339.9h0M558.9 335.2h0M576.9 325.0h0M551.4 314.4h0M566.2 337.6h0M562.6 374.2h0M576.0 369.8h0M590.9 334.7h0M570.8 305.6h0M569.3 330.5h0M559.7 325.0h0M583.2 345.3h0M549.1 336.2h0M578.9 338.6h0M554.4 349.5h0M566.8 386.5h0M561.2 307.6h0M549.0 339.8h0M587.6 338.4h0M548.2 279.7h0M576.8 330.9h0M572.5 357.0h0M568.8 338.4h0M559.6 352.4h0M553.9 337.9h0M561.1 327.7h0M571.8 305.3h0M582.9 364.3h0M558.9 331.8h0M556.0 320.9h0M540.7 372.7h0M543.4 334.2h0M594.9 357.3h0M550.6 359.3h0M554.1 369.3h0M562.9 363.8h0M572.5 292.3h0M553.0 318.1h0M591.8 380.5h0M573.3 335.9h0M565.5 320.2h0M563.6 328.8h0M564.5 338.4h0M557.6 291.5h0M570.4 357.4h0M567.9 348.4h0M558.4 311.7h0M565.6 349.5h0M586.1 340.9h0M570.4 298.1h0M568.4 317.0h0M589.7 343.7h0M548.8 325.3h0M569.2 323.9h0M560.8 325.4h0M596.5 347.9h0M567.3 349.5h0M593.3 334.6h0M535.5 324.0h0M564.8 328.1h0M579.8 370.8h0M565.8 336.9h0M559.4 340.2h0M582.3 371.3h0M603.8 354.1h0M570.7 368.7h0M573.6 329.4h0M580.9 360.2h0M556.8 350.8h0M576.3 352.6h0M569.3 317.7h0M564.0 309.6h0M576.5 340.5h0M566.3 347.1h0M570.5 329.0h0M560.5 361.5h0M575.8 328.1h0M591.2 346.0h0M548.7 319.5h0M568.3 359.3h0M572.4 330.3h0M558.3 316.5h0M563.8 344.4h0M566.1 357.8h0M584.7 375.5h0M566.0 348.1h0M577.9 377.2h0M533.6 344.6h0M588.5 339.4h0M609.9 352.1h0M572.0 338.6h0M556.8 314.2h0M548.2 356.2h0M565.0 345.0h0M591.1 345.9h0M580.1 344.7h0M593.7 336.1h0M575.9 367.3h0M583.7 348.2h0M577.9 352.7h0M574.1 332.4h0M550.8 323.8h0M573.3 326.8h0M590.5 346.2h0M588.0 350.1h0M548.9 323.0h0M575.1 368.0h0M563.5 347.8h0M555.8 327.7h0M557.5 334.7h0M552.3 340.8h0M544.2 353.9h0M568.9 367.2h0M588.4 336.5h0M570.1 334.7h0M559.4 357.8h0M575.4 322.5h0M568.1 371.2h0M565.4 335.0h0M548.7 309.2h0M551.7 335.7h0M552.3 318.2h0M549.3 353.1h0M590.8 360.1h0M561.9 325.3h0M577.5 369.7h0M581.8 341.4h0M592.6 369.3h0M564.7 343.9h0M578.0 349.1h0M565.2 350.6h0M573.7 322.7h0M543.5 335.3h0M576.7 306.7h0M558.3 311.5h0M563.5 326.3h0M575.1 330.5h0M565.3 354.8h0M569.3 339.1h0M567.6 361.6h0M551.8 327.8h0M587.9 340.2h0M554.9 356.7h0M560.5 322.3h0M572.1 363.5h0M550.9 329.5h0M576.4 301.8h0M559.3 331.9h0M551.4 349.1h0M564.0 320.3h0M572.5 329.8h0M575.2 325.4h0M547.0 362.3h0M572.9 326.4h0M562.8 337.8h0M546.7 317.2h0M564.1 337.7h0M572.4 309.4h0M542.5 352.4h0M545.5 339.4h0M586.2 334.8h0M555.1 296.5h0M552.0 309.1h0M594.8 356.9h0M561.5 341.7h0M577.7 339.3h0M601.0 343.2h0M567.2 359.3h0M558.1 360.2h0M547.0 313.3h0M579.1 367.2h0M559.3 330.8h0M546.5 308.0h0M547.3 322.2h0M557.4 351.6h0M555.6 342.2h0M566.0 319.3h0M560.8 329.9h0M582.1 348.8h0M565.0 348.0h0M560.0 353.1h0M569.5 359.6h0M561.2 324.6h0M543.7 356.3h0M564.1 356.6h0M553.7 299.6h0M576.9 344.8h0M558.3 366.0h0M550.9 380.7h0M580.9 345.8h0M587.0 336.1h0M536.2 299.2h0M561.4 346.8h0M568.0 301.3h0M549.2 356.7h0M580.2 374.1h0M597.0 358.3h0M591.8 338.8h0M565.0 358.1h0M596.5 341.2h0M547.7 323.6h0M568.7 325.9h0M564.1 328.8h0M579.1 335.5h0M542.6 326.4h0M565.9 315.4h0M567.0 355.3h0M549.2 315.9h0M561.3 371.1h0M584.8 337.7h0M560.5 347.7h0M561.2 371.8h0M586.4 342.8h0M549.4 362.3h0M565.8 302.2h0M587.4 335.3h0M572.2 331.5h0M574.9 347.1h0M551.3 346.8h0M591.3 366.4h0M563.6 344.0h0M571.8 344.6h0M584.9 343.0h0M571.1 322.1h0M546.5 314.8h0M589.1 361.3h0M569.6 350.2h0M564.8 320.8h0M538.5 319.6h0M578.7 336.0h0M609.7 345.4h0M545.1 328.5h0M573.7 348.0h0M534.1 372.4h0M599.6 365.1h0M532.9 332.1h0M570.5 340.6h0M567.7 325.7h0M554.9 356.4h0M589.8 340.3h0M556.4 344.1h0M557.4 347.9h0M544.0 323.9h0M577.1 320.6h0M572.4 349.6h0M566.0 321.8h0M558.2 316.4h0M575.2 321.9h0M563.4 322.2h0M584.7 360.2h0M541.5 330.1h0M565.3 351.4h0M549.6 357.2h0M542.6 342.7h0M544.2 368.9h0M569.0 306.8h0M592.6 339.2h0M577.8 340.6h0M569.0 350.9h0M571.3 356.2h0M558.3 339.0h0M569.7 296.7h0M555.9 357.3h0M582.9 338.4h0M544.9 342.8h0M549.0 337.4h0M601.5 342.1h0M572.8 315.1h0M547.9 321.4h0M565.1 349.3h0M564.7 355.1h0M563.0 326.7h0M545.0 389.2h0M593.8 347.2h0M584.1 353.5h0M539.4 357.1h0M560.0 323.1h0M565.9 332.8h0M552.3 379.9h0M572.4 323.3h0M555.4 305.8h0M575.7 302.6h0M566.6 364.5h0M582.9 354.0h0M586.4 356.2h0M579.8 355.4h0M559.4 352.4h0M534.2 307.3h0M556.8 311.5h0M577.3 313.3h0M575.0 327.1h0M566.8 327.5h0M552.5 316.5h0M541.4 346.3h0M564.0 334.6h0M568.8 355.3h0M571.7 388.8h0M558.1 338.0h0M558.3 317.9h0M567.9 327.6h0M550.6 318.8h0M583.3 366.0h0M594.9 359.1h0M549.8 320.9h0M567.7 350.5h0M557.5 333.1h0M576.5 355.5h0M579.0 379.2h0M574.3 354.5h0M548.0 296.4h0M580.7 342.9h0M551.2 309.6h0M571.9 351.6h0M528.9 319.3h0M551.6 372.3h0M590.0 342.9h0M583.1 386.3h0M565.2 323.5h0M569.5 301.8h0M582.0 341.3h0M556.4 353.1h0M592.0 340.7h0M533.3 333.3h0M571.4 346.7h0M577.2 354.3h0M615.6 345.5h0M553.1 334.9h0M573.3 320.2h0M574.2 324.4h0M570.6 342.0h0M552.0 351.1h0M569.2 360.9h0M584.1 342.7h0M564.9 278.1h0M595.0 349.8h0M539.7 308.7h0M544.5 298.9h0M620.4 358.8h0M562.7 338.0h0M541.2 326.7h0M583.9 336.6h0M544.2 314.9h0M602.4 341.8h0M564.2 339.0h0M584.5 345.8h0M560.6 311.4h0M558.1 318.5h0" stroke="#e2e2e2" stroke-width="2.0" stroke-linecap="round"/>
<path d="M569.4 312.7h0M573.4 322.1h0M617.2 356.0h0M582.4 330.6h0M589.9 326.1h0M584.9 325.0h0M562.4 319.2h0M584.0 339.8h0M582.0 325.4h0M580.8 325.6h0M542.5 307.7h0M560.8 326.1h0M593.1 331.6h0M580.5 329.0h0M595.4 329.2h0M603.5 332.2h0M625.7 350.7h0M583.6 339.5h0M554.1 332.3h0M586.3 343.9h0M588.1 341.1h0M572.0 338.0h0M560.0 311.9h0" stroke="#e5dedc" stroke-width="2.0" stroke-linecap="round"/>
<path d="M579.0 334.3h0M578.1 333.3h0M592.0 338.4h0M588.2 340.3h0M582.5 332.9h0M577.9 317.7h0M569.9 306.8h0M595.2 319.9h0M564.1 312.6h0M574.5 309.4h0M566.6 305.6h0M570.0 321.1h0M553.2 306.3h0M590.1 323.4h0M591.6 320.9h0M559.2 325.6h0M592.0 317.9h0M607.5 331.5h0M597.9 338.5h0M591.6 335.9h0M579.0 339.5h0M603.5 351.5h0M588.5 316.8h0M583.9 363.1h0" stroke="#e9dbd7" stroke-width="2.0" stroke-linecap="round"/>
<path d="M585.0 310.1h0M577.9 301.9h0M586.7 332.0h0M589.6 306.0h0M599.9 304.1h0M585.7 320.3h0M600.9 321.4h0M600.2 320.9h0M585.8 328.3h0M583.3 333.4h0M594.7 331.9h0M577.8 330.9h0M590.2 332.4h0M593.7 305.4h0M598.9 322.9h0M583.9 308.3h0M601.1 321.8h0M600.2 319.8h0M589.2 329.5h0M588.6 324.4h0M605.5 305.1h0M586.5 311.5h0M578.7 310.7h0M588.2 289.8h0M602.7 328.1h0M591.9 333.0h0M594.7 329.2h0M583.8 326.4h0M578.1 317.4h0M594.4 332.9h0M604.3 315.5h0M590.5 326.1h0M591.3 330.5h0M600.4 318.5h0M589.3 303.4h0M586.9 325.9h0M580.9 313.9h0M597.0 331.0h0M580.6 325.7h0M603.2 327.7h0M584.7 327.9h0M597.2 307.6h0M596.4 332.3h0M588.8 324.0h0M587.3 305.7h0M579.2 306.8h0M581.1 328.3h0M591.5 330.8h0M579.6 320.5h0M585.0 330.5h0M584.4 326.4h0M580.2 322.2h0M591.0 317.2h0M577.9 314.2h0M586.4 296.0h0M583.3 333.1h0M580.1 318.8h0M595.2 327.4h0M587.4 320.7h0M583.5 323.7h0M582.0 322.3h0M579.4 320.2h0M595.3 320.1h0M582.4 314.4h0M594.4 311.5h0M611.2 317.4h0M606.5 317.8h0M581.1 318.8h0M587.5 319.7h0M582.3 325.0h0M585.9 334.2h0M586.8 329.0h0M582.3 312.6h0M609.3 311.0h0M580.0 318.7h0M581.5 332.7h0M580.4 311.9h0M600.8 324.2h0M583.2 327.4h0M585.5 316.9h0M590.7 321.5h0M586.2 321.5h0M599.4 323.6h0M593.0 324.7h0M575.5 310.5h0M615.5 337.9h0M592.6 321.0h0M589.1 326.7h0M598.1 327.1h0M583.4 312.0h0M609.4 328.6h0M593.7 315.2h0M573.6 304.7h0M587.7 318.8h0M608.1 327.7h0M582.2 310.4h0M618.0 329.3h0M613.0 330.2h0M591.0 317.0h0M585.4 322.4h0M609.8 330.0h0M593.5 319.3h0M592.1 307.3h0M596.3 331.0h0M560.1 293.3h0M578.3 317.0h0M583.0 317.4h0M585.4 324.1h0M602.1 325.9h0M571.6 312.0h0M605.8 327.0h0M605.2 319.9h0M582.7 322.6h0M607.8 324.6h0M566.5 296.2h0M598.5 324.3h0M619.1 331.6h0M593.9 314.9h0M597.0 317.1h0M568.6 308.1h0M614.9 341.0h0M588.5 320.0h0M612.7 330.3h0" stroke="#ecd8d1" stroke-width="2.0" stroke-linecap="round"/>
<path d="M610.1 325.5h0M586.4 306.5h0M590.3 317.7h0M604.7 312.2h0M614.6 327.9h0M591.7 323.3h0M613.5 326.9h0M605.7 324.1h0M618.6 320.5h0M612.0 332.4h0M642.2 353.8h0M600.3 323.6h0M607.0 320.3h0M598.3 312.0h0M613.5 316.8h0M609.8 325.7h0M576.7 298.3h0M591.5 307.4h0M598.3 305.4h0M585.8 317.6h0M612.0 329.7h0M590.3 304.3h0M571.0 298.8h0M587.6 313.8h0M570.7 289.9h0M607.1 322.6h0M580.2 301.3h0M592.9 310.3h0M590.4 313.4h0M592.7 319.8h0M586.9 318.0h0M625.8 333.9h0M595.7 312.8h0M598.0 324.5h0" stroke="#efd4cb" stroke-width="2.0" stroke-linecap="round"/>
<path d="M587.2 301.8h0M611.6 324.8h0M604.4 307.2h0M601.3 311.5h0M613.5 326.1h0M619.8 319.3h0M614.3 324.0h0M593.9 308.0h0M619.7 330.4h0M580.7 302.2h0M598.1 308.8h0M613.8 321.6h0M627.4 328.4h0M580.9 296.6h0M614.7 327.2h0M625.6 333.7h0M597.0 301.6h0M606.6 323.3h0M599.5 314.4h0M597.3 304.2h0M625.6 319.1h0M626.4 327.9h0M627.9 329.4h0M589.4 290.4h0M633.6 338.2h0M618.6 326.8h0M603.4 309.4h0M607.0 311.8h0M610.3 311.7h0M601.1 312.0h0M615.8 316.0h0M613.0 327.6h0M585.7 302.5h0M631.9 334.9h0M590.8 301.3h0M628.1 321.7h0M634.0 330.2h0M614.7 313.1h0M585.9 298.4h0M592.2 299.7h0M616.8 316.4h0" stroke="#f3d0c6" stroke-width="2.0" stroke-linecap="round"/>
<path d="M625.1 317.9h0M632.1 333.8h0M634.2 312.9h0M590.1 296.3h0M611.0 303.1h0M618.3 307.4h0M622.7 317.8h0M625.0 320.4h0M603.4 315.2h0M613.1 320.1h0M612.1 316.4h0M619.1 308.8h0M603.1 303.4h0M613.0 321.7h0M617.1 310.9h0M613.1 312.8h0M626.4 309.4h0M619.8 318.7h0M631.7 322.1h0M618.4 319.8h0M608.4 307.4h0M638.5 331.0h0M616.6 314.0h0M599.1 295.8h0M598.5 306.9h0M636.5 316.4h0" stroke="#f6cdc0" stroke-width="2.0" stroke-linecap="round"/>
<path d="M601.6 298.5h0M615.8 299.9h0M598.9 282.3h0M615.9 305.6h0M632.2 314.6h0M602.2 298.8h0M620.1 310.2h0M619.2 294.9h0M641.0 317.5h0M618.0 300.2h0M611.7 308.2h0M630.7 320.8h0M610.9 302.7h0M628.0 311.8h0M613.2 314.4h0M620.9 301.9h0M642.0 314.7h0M630.7 320.6h0M645.7 332.5h0M653.5 324.5h0M624.3 309.1h0M609.1 300.4h0M619.3 301.1h0" stroke="#f5c4b5" stroke-width="2.0" stroke-linecap="round"/>
<path d="M636.8 308.0h0M612.7 289.0h0M626.5 311.2h0M629.6 306.8h0M611.3 294.3h0M610.3 290.0h0M653.0 328.2h0M603.2 283.8h0M636.5 310.8h0M637.4 301.4h0M626.2 313.2h0M622.8 309.8h0M611.2 298.3h0M615.4 302.3h0M608.7 292.4h0M635.0 317.2h0M627.7 307.0h0M618.5 297.6h0M617.9 307.7h0M623.0 307.3h0M633.9 306.5h0M607.9 294.8h0" stroke="#f4bbaa" stroke-width="2.0" stroke-linecap="round"/>
<path d="M610.9 293.5h0M630.2 305.6h0M639.1 299.8h0M635.3 299.9h0M624.3 299.8h0M638.9 311.4h0M611.0 286.9h0M651.1 303.4h0" stroke="#f3b29e" stroke-width="2.0" stroke-linecap="round"/>
<path d="M628.9 291.4h0M643.2 300.8h0M659.6 320.5h0M629.1 289.5h0M639.1 291.6h0" stroke="#f2a893" stroke-width="2.0" stroke-linecap="round"/>
<path d="M650.3 305.3h0" stroke="#f19f88" stroke-width="2.0" stroke-linecap="round"/>
<path d="M638.8 287.8h0" stroke="#f0967d" stroke-width="2.0" stroke-linecap="round"/>
<path d="M648.1 318.2h0" stroke="#eb6f5b" stroke-width="2.0" stroke-linecap="round"/>
<path d="M651.3 293.2h0M640.1 298.2h0M571.3 273.2h0" stroke="#e96150" stroke-width="2.0" stroke-linecap="round"/>
<path d="M648.1 322.0h0M625.7 288.2h0" stroke="#e75445" stroke-width="2.0" stroke-linecap="round"/>
<path d="M628.9 290.8h0M612.9 314.5h0" stroke="#e64739" stroke-width="2.0" stroke-linecap="round"/>
<path d="M619.3 267.0h0M659.3 294.0h0M672.1 323.2h0" stroke="#e43a2e" stroke-width="2.0" stroke-linecap="round"/>
<path d="M641.7 264.5h0M664.1 277.0h0" stroke="#e22d23" stroke-width="2.0" stroke-linecap="round"/>
<path d="M577.7 256.5V403.5M514.3 334.5H685" stroke="#555" stroke-width="0.95" stroke-dasharray="2.6 1.8"/>
<path d="M514.3 256.1V403.5H685" fill="none" stroke="#1a1a1a" stroke-width="0.9"/>
<line x1="512.3" y1="259.50" x2="514.3" y2="259.50" stroke="#1a1a1a" stroke-width="0.5"/>
<text x="511.6" y="262.3" text-anchor="end">3</text>
<line x1="512.3" y1="284.50" x2="514.3" y2="284.50" stroke="#1a1a1a" stroke-width="0.5"/>
<text x="511.6" y="287.3" text-anchor="end">2</text>
<line x1="512.3" y1="309.50" x2="514.3" y2="309.50" stroke="#1a1a1a" stroke-width="0.5"/>
<text x="511.6" y="312.3" text-anchor="end">1</text>
<line x1="512.3" y1="334.50" x2="514.3" y2="334.50" stroke="#1a1a1a" stroke-width="0.5"/>
<text x="511.6" y="337.3" text-anchor="end">0</text>
<line x1="512.3" y1="359.50" x2="514.3" y2="359.50" stroke="#1a1a1a" stroke-width="0.5"/>
<text x="511.6" y="362.3" text-anchor="end">−1</text>
<line x1="512.3" y1="384.50" x2="514.3" y2="384.50" stroke="#1a1a1a" stroke-width="0.5"/>
<text x="511.6" y="387.3" text-anchor="end">−2</text>
<line x1="545.70" y1="403.5" x2="545.70" y2="405.5" stroke="#1a1a1a" stroke-width="0.5"/>
<text x="544" y="412.2" text-anchor="middle">−1</text>
<line x1="577.70" y1="403.5" x2="577.70" y2="405.5" stroke="#1a1a1a" stroke-width="0.5"/>
<text x="577.7" y="412.2" text-anchor="middle">0</text>
<line x1="609.70" y1="403.5" x2="609.70" y2="405.5" stroke="#1a1a1a" stroke-width="0.5"/>
<text x="609.7" y="412.2" text-anchor="middle">1</text>
<line x1="641.70" y1="403.5" x2="641.70" y2="405.5" stroke="#1a1a1a" stroke-width="0.5"/>
<text x="641.7" y="412.2" text-anchor="middle">2</text>
<line x1="673.70" y1="403.5" x2="673.70" y2="405.5" stroke="#1a1a1a" stroke-width="0.5"/>
<text x="673.7" y="412.2" text-anchor="middle">3</text>
<text x="598" y="423" text-anchor="middle">log<tspan font-size="5" dy="2.2">2</tspan><tspan dy="-2.2">(enrich. fold)</tspan></text>
<text x="598.3" y="432.1" text-anchor="middle">Time point 1</text>
<text x="0" y="0" text-anchor="middle" transform="translate(489.2 332) rotate(-90)">log<tspan font-size="5" dy="2.2">2</tspan><tspan dy="-2.2">(enrich. fold)</tspan></text>
<text x="0" y="0" text-anchor="middle" transform="translate(498.4 332) rotate(-90)">Time point 2</text>
<defs><linearGradient id="gWR"><stop offset="0" stop-color="#ffffff"/><stop offset="0.5" stop-color="#f6a58c"/><stop offset="1" stop-color="#e3191c"/></linearGradient></defs>
<rect x="631.3" y="379.2" width="41.4" height="8.8" fill="url(#gWR)" stroke="#222" stroke-width="0.5"/>
<path d="M632.2 388v-0.9M651.5 388v-0.9M666.8 388v-0.9" stroke="#fff" stroke-width="0.4"/>
<text x="629.8" y="374.6">−log<tspan font-size="5.5" dy="1.8">10</tspan><tspan dy="-1.8">(FDR)</tspan></text>
<text x="632.2" y="396.5" text-anchor="middle">0</text>
<text x="651.4" y="396.5" text-anchor="middle">1.0</text>
<text x="666.8" y="396.5" text-anchor="middle">2.0</text></svg></body></html>
